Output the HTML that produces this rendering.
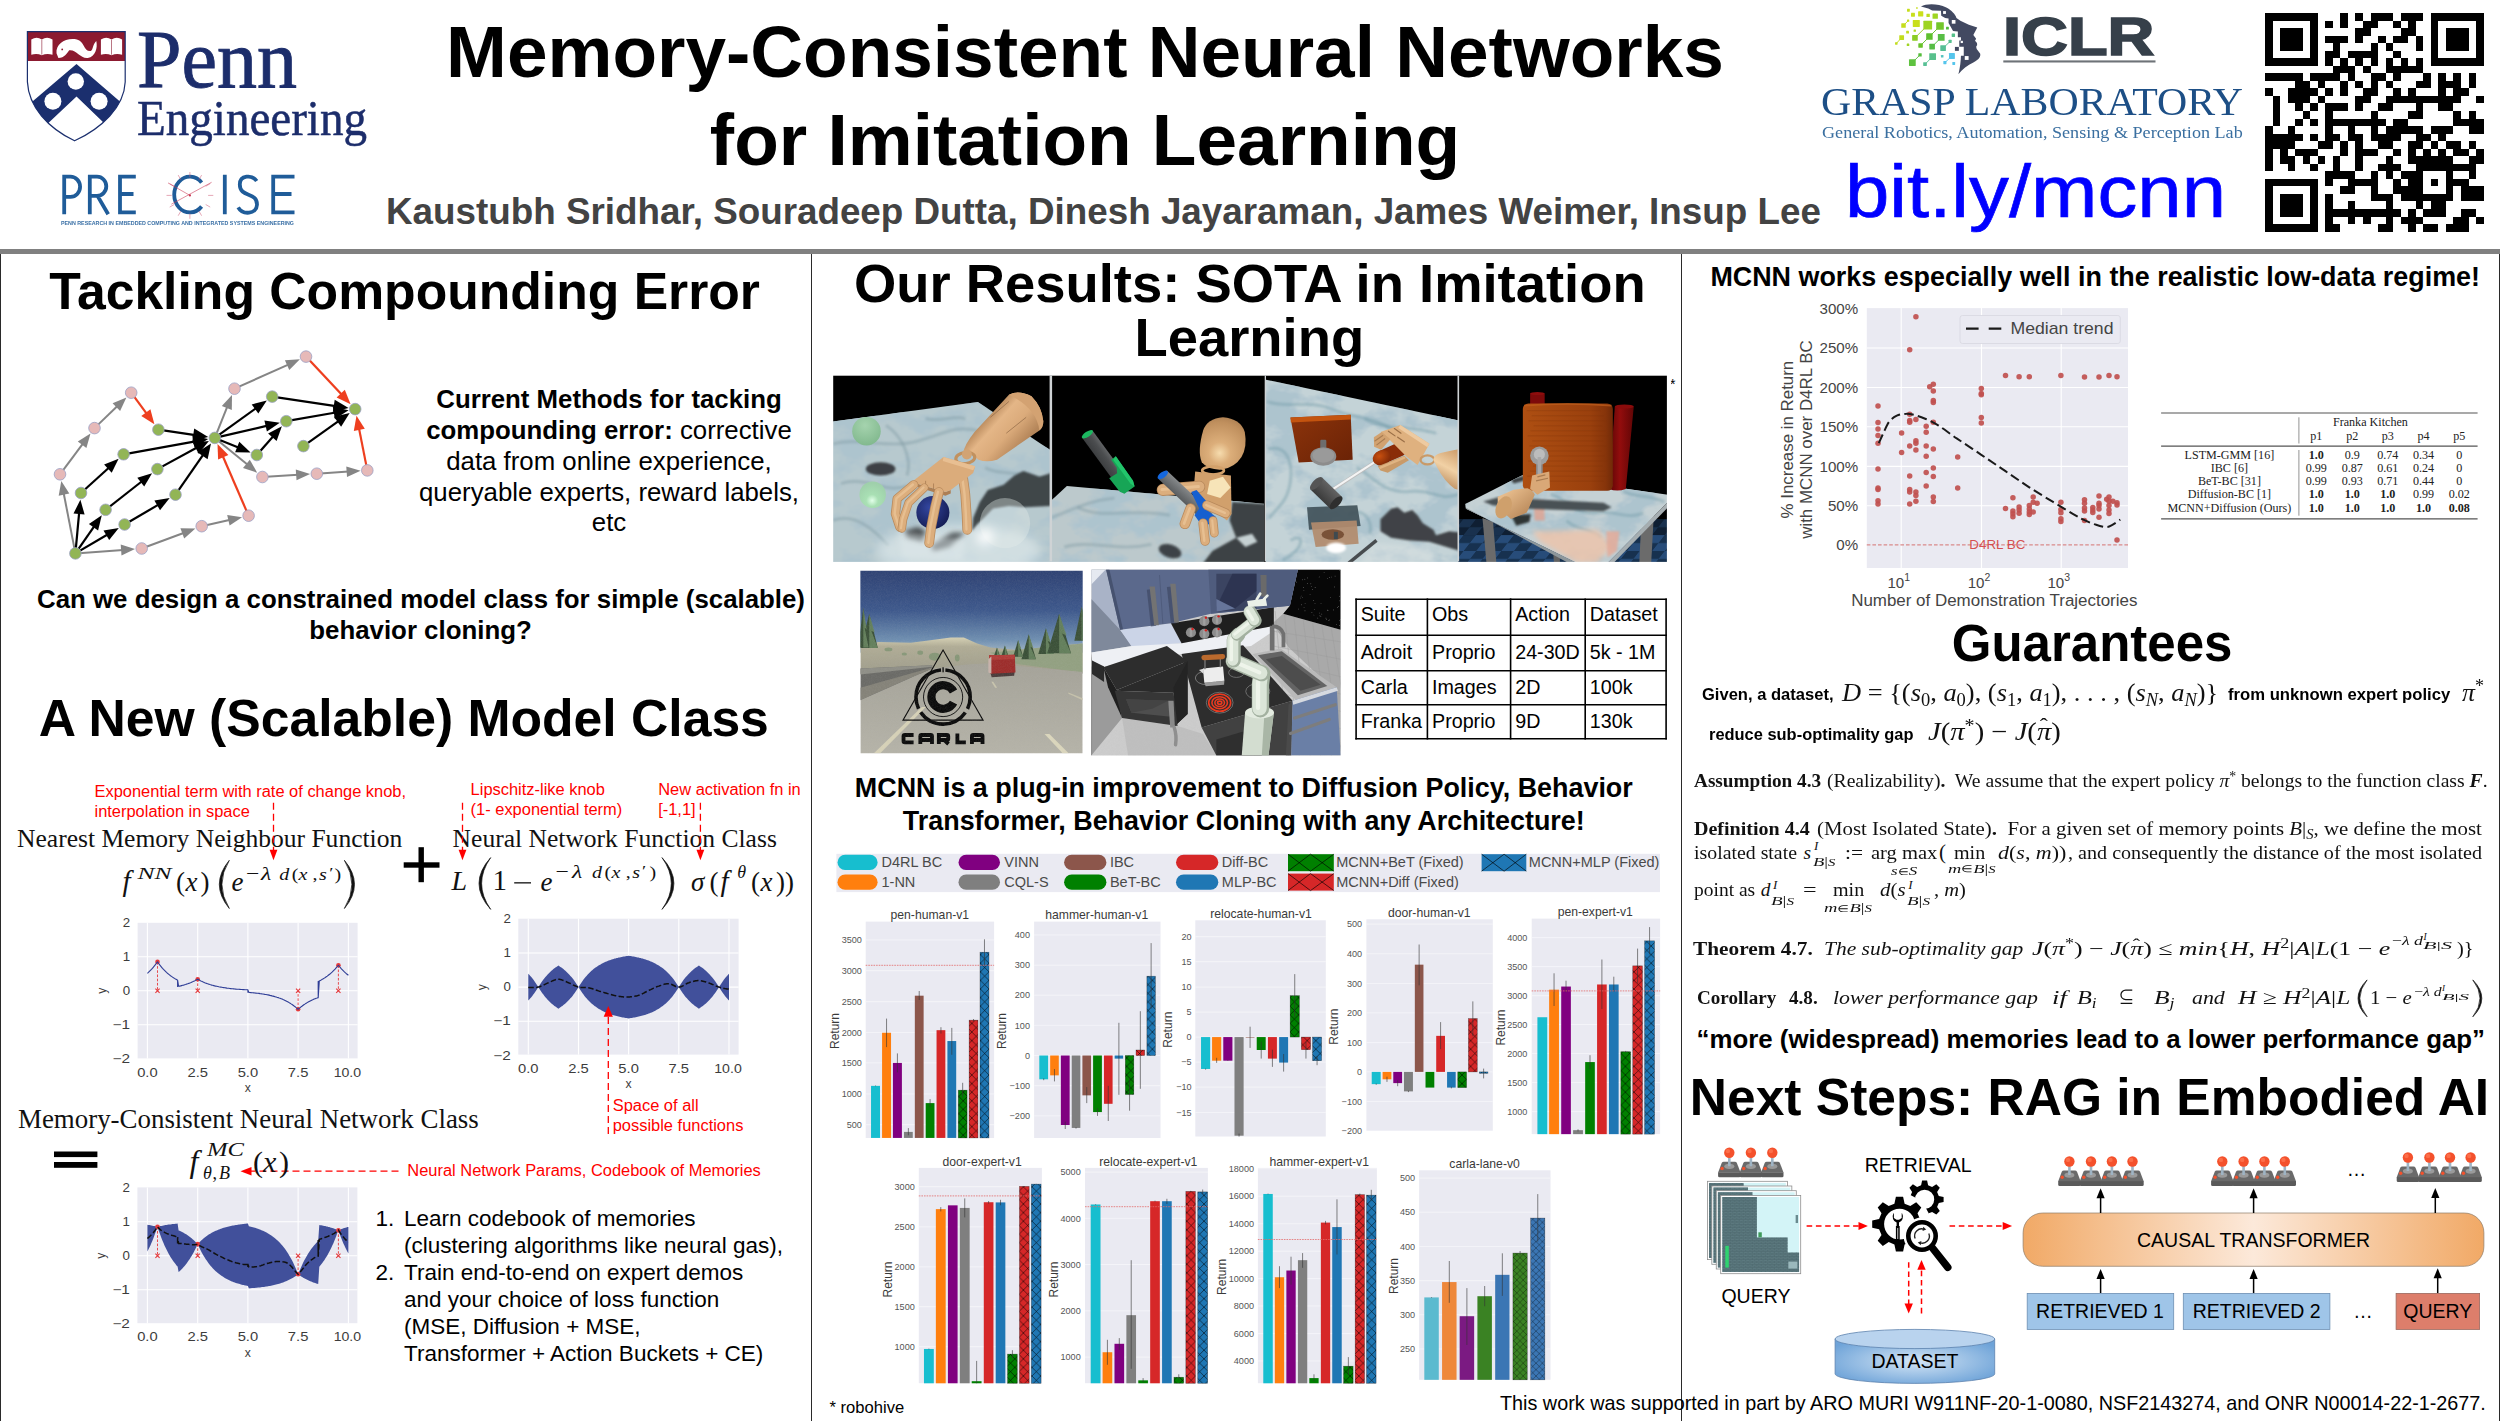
<!DOCTYPE html>
<html><head><meta charset="utf-8"><title>Memory-Consistent Neural Networks for Imitation Learning</title>
<style>
html,body{margin:0;padding:0;background:#fff;}
html{width:2500px;height:1421px;overflow:hidden;}
body{width:2500px;height:1421px;position:relative;overflow:hidden;font-family:"Liberation Sans",sans-serif;color:#000;}
div{box-sizing:border-box;}
table{border-collapse:collapse;}
#page{position:absolute;left:0;top:0;width:2500px;height:1421px;overflow:hidden;background:#fff;}
</style></head><body>
<div id="page">
<!-- p00_frame -->
<div style="position:absolute;left:0px;top:249.3px;width:2500px;height:4.5px;background:#808080;"></div>
<div style="position:absolute;left:0px;top:253.8px;width:1.3px;height:1170px;background:#2a2a2a;"></div>
<div style="position:absolute;left:810.8px;top:253.8px;width:1.3px;height:1170px;background:#2a2a2a;"></div>
<div style="position:absolute;left:1680.8px;top:253.8px;width:1.3px;height:1170px;background:#2a2a2a;"></div>
<div style="position:absolute;left:2498.8px;top:253.8px;width:1.3px;height:1170px;background:#2a2a2a;"></div>
<!-- p01_header -->
<div style="position:absolute;top:15.41px;font-family:'Liberation Sans',sans-serif;font-size:73px;line-height:73px;white-space:nowrap;color:#000;font-weight:bold;left:85.00px;width:2000px;text-align:center;">Memory-Consistent Neural Networks</div>
<div style="position:absolute;top:102.91px;font-family:'Liberation Sans',sans-serif;font-size:73px;line-height:73px;white-space:nowrap;color:#000;font-weight:bold;left:85.00px;width:2000px;text-align:center;">for Imitation Learning</div>
<div style="position:absolute;top:194.05px;font-family:'Liberation Sans',sans-serif;font-size:36.8px;line-height:36.8px;white-space:nowrap;color:#434343;font-weight:bold;left:386.00px;">Kaustubh Sridhar, Souradeep Dutta, Dinesh Jayaraman, James Weimer, Insup Lee</div>
<svg style="position:absolute;left:2264.8px;top:13.4px;overflow:visible;" width="218.6" height="218.6" viewBox="0 0 29 29"><path d="M0 0h7v1h-7zM10 0h1v1h-1zM12 0h1v1h-1zM14 0h3v1h-3zM18 0h3v1h-3zM22 0h7v1h-7zM0 1h1v1h-1zM6 1h1v1h-1zM8 1h1v1h-1zM10 1h1v1h-1zM13 1h2v1h-2zM17 1h1v1h-1zM19 1h1v1h-1zM22 1h1v1h-1zM28 1h1v1h-1zM0 2h1v1h-1zM2 2h3v1h-3zM6 2h1v1h-1zM12 2h2v1h-2zM18 2h2v1h-2zM22 2h1v1h-1zM24 2h3v1h-3zM28 2h1v1h-1zM0 3h1v1h-1zM2 3h3v1h-3zM6 3h1v1h-1zM8 3h3v1h-3zM12 3h1v1h-1zM15 3h1v1h-1zM17 3h2v1h-2zM20 3h1v1h-1zM22 3h1v1h-1zM24 3h3v1h-3zM28 3h1v1h-1zM0 4h1v1h-1zM2 4h3v1h-3zM6 4h1v1h-1zM9 4h1v1h-1zM14 4h1v1h-1zM16 4h1v1h-1zM20 4h1v1h-1zM22 4h1v1h-1zM24 4h3v1h-3zM28 4h1v1h-1zM0 5h1v1h-1zM6 5h1v1h-1zM8 5h2v1h-2zM11 5h4v1h-4zM17 5h1v1h-1zM22 5h1v1h-1zM28 5h1v1h-1zM0 6h7v1h-7zM8 6h1v1h-1zM10 6h1v1h-1zM12 6h1v1h-1zM14 6h1v1h-1zM16 6h1v1h-1zM18 6h1v1h-1zM20 6h1v1h-1zM22 6h7v1h-7zM9 7h3v1h-3zM13 7h1v1h-1zM16 7h5v1h-5zM0 8h5v1h-5zM6 8h4v1h-4zM11 8h1v1h-1zM14 8h2v1h-2zM17 8h1v1h-1zM21 8h1v1h-1zM23 8h1v1h-1zM25 8h1v1h-1zM27 8h1v1h-1zM4 9h2v1h-2zM7 9h1v1h-1zM10 9h1v1h-1zM12 9h1v1h-1zM14 9h1v1h-1zM16 9h1v1h-1zM20 9h2v1h-2zM23 9h3v1h-3zM27 9h1v1h-1zM0 10h1v1h-1zM3 10h4v1h-4zM8 10h1v1h-1zM10 10h1v1h-1zM13 10h2v1h-2zM17 10h1v1h-1zM19 10h1v1h-1zM23 10h1v1h-1zM25 10h2v1h-2zM1 11h1v1h-1zM3 11h3v1h-3zM7 11h1v1h-1zM12 11h2v1h-2zM16 11h10v1h-10zM28 11h1v1h-1zM1 12h1v1h-1zM4 12h1v1h-1zM6 12h1v1h-1zM8 12h3v1h-3zM12 12h1v1h-1zM15 12h2v1h-2zM20 12h1v1h-1zM23 12h2v1h-2zM1 13h1v1h-1zM5 13h1v1h-1zM8 13h1v1h-1zM14 13h1v1h-1zM19 13h2v1h-2zM25 13h1v1h-1zM27 13h1v1h-1zM1 14h1v1h-1zM4 14h1v1h-1zM6 14h1v1h-1zM8 14h8v1h-8zM17 14h2v1h-2zM25 14h4v1h-4zM0 15h1v1h-1zM3 15h1v1h-1zM8 15h1v1h-1zM11 15h1v1h-1zM14 15h1v1h-1zM16 15h5v1h-5zM22 15h3v1h-3zM27 15h2v1h-2zM0 16h5v1h-5zM6 16h1v1h-1zM8 16h2v1h-2zM11 16h2v1h-2zM14 16h4v1h-4zM20 16h2v1h-2zM23 16h1v1h-1zM0 17h4v1h-4zM7 17h2v1h-2zM10 17h1v1h-1zM12 17h1v1h-1zM15 17h2v1h-2zM19 17h2v1h-2zM22 17h1v1h-1zM24 17h2v1h-2zM27 17h1v1h-1zM0 18h1v1h-1zM2 18h1v1h-1zM4 18h3v1h-3zM10 18h1v1h-1zM12 18h3v1h-3zM17 18h1v1h-1zM19 18h1v1h-1zM21 18h1v1h-1zM23 18h1v1h-1zM25 18h2v1h-2zM28 18h1v1h-1zM0 19h1v1h-1zM2 19h2v1h-2zM5 19h1v1h-1zM7 19h1v1h-1zM9 19h1v1h-1zM12 19h1v1h-1zM16 19h1v1h-1zM19 19h6v1h-6zM27 19h2v1h-2zM0 20h1v1h-1zM3 20h1v1h-1zM6 20h1v1h-1zM9 20h1v1h-1zM12 20h1v1h-1zM15 20h3v1h-3zM20 20h8v1h-8zM8 21h4v1h-4zM14 21h1v1h-1zM16 21h1v1h-1zM18 21h3v1h-3zM24 21h1v1h-1zM27 21h1v1h-1zM0 22h7v1h-7zM8 22h1v1h-1zM11 22h4v1h-4zM17 22h1v1h-1zM19 22h2v1h-2zM22 22h1v1h-1zM24 22h3v1h-3zM0 23h1v1h-1zM6 23h1v1h-1zM10 23h2v1h-2zM14 23h1v1h-1zM17 23h4v1h-4zM24 23h1v1h-1zM26 23h3v1h-3zM0 24h1v1h-1zM2 24h3v1h-3zM6 24h1v1h-1zM8 24h1v1h-1zM14 24h3v1h-3zM18 24h7v1h-7zM26 24h3v1h-3zM0 25h1v1h-1zM2 25h3v1h-3zM6 25h1v1h-1zM8 25h1v1h-1zM11 25h1v1h-1zM16 25h1v1h-1zM20 25h1v1h-1zM22 25h2v1h-2zM0 26h1v1h-1zM2 26h3v1h-3zM6 26h1v1h-1zM8 26h10v1h-10zM19 26h1v1h-1zM21 26h3v1h-3zM26 26h2v1h-2zM0 27h1v1h-1zM6 27h1v1h-1zM8 27h1v1h-1zM11 27h1v1h-1zM13 27h1v1h-1zM16 27h1v1h-1zM18 27h3v1h-3zM25 27h2v1h-2zM28 27h1v1h-1zM0 28h7v1h-7zM8 28h2v1h-2zM15 28h2v1h-2zM19 28h1v1h-1zM21 28h2v1h-2zM24 28h3v1h-3z" fill="#000" shape-rendering="crispEdges"/></svg>
<svg style="position:absolute;left:0px;top:0px;overflow:visible;" width="2500" height="250"><clipPath id="sh"><path d="M27.4 31.6L125.2 31.6L125.2 81.9C124.2 106.7 101.7 128.4 74.6 140.8C48.3 128.4 28.6 106.7 27.4 81.9Z"/></clipPath><path d="M27.4 31.6L125.2 31.6L125.2 81.9C124.2 106.7 101.7 128.4 74.6 140.8C48.3 128.4 28.6 106.7 27.4 81.9Z" fill="#fff"/><g clip-path="url(#sh)"><rect x="27.4" y="31.6" width="97.8" height="29.4" fill="#8c1a30"/><path d="M76.5 64.1L123.4 104.4L107.9 126.8L76.5 96.6L44.4 126.8L28.9 104.4Z" fill="#1b2f6e"/></g><circle cx="75.8" cy="81.5" r="8.2" fill="#fff"/><circle cx="52.9" cy="101.3" r="8.5" fill="#fff"/><circle cx="99.1" cy="101.3" r="8.5" fill="#fff"/><path d="M27.4 31.6L125.2 31.6L125.2 81.9C124.2 106.7 101.7 128.4 74.6 140.8C48.3 128.4 28.6 106.7 27.4 81.9Z" fill="none" stroke="#1b2f6e" stroke-width="1.2"/><path d="M31.3 39.4Q36.7 36.3 41.8 39.4Q47.0 36.3 52.5 39.4V54.8Q47.0 52.8 41.8 55.3Q36.7 52.8 31.3 54.8Z" fill="#fff"/><line x1="41.8" x2="41.8" y1="39.8" y2="54.7" stroke="#8c1a30" stroke-width="0.6"/><path d="M100.9 39.4Q106.3 36.3 111.5 39.4Q116.7 36.3 122.1 39.4V54.8Q116.7 52.8 111.5 55.3Q106.3 52.8 100.9 54.8Z" fill="#fff"/><line x1="111.5" x2="111.5" y1="39.8" y2="54.7" stroke="#8c1a30" stroke-width="0.6"/><path d="M56.5 53.3C55.6 43.2 66.1 37.3 76.9 39.4C84.7 40.9 83.1 51.7 90.9 51.0C93.2 49.4 92.4 44.8 96.3 40.9C97.8 47.9 95.5 56.4 87.8 57.9C80.0 58.7 76.9 49.4 69.2 50.2C66.9 53.3 64.5 57.9 58.4 57.9Z" fill="#fff"/><circle cx="62.2" cy="49.4" r="0.9" fill="#8c1a30"/><path d="M64.2 174.8V214.3M62.3 176.7H70.5a9.6 10.1 0 0 1 0 20.2H64.2M89.8 174.8V214.3M87.9 176.7H97a9.3 9.6 0 0 1 0 19.2H89.8M97.5 195.9L108.2 214.3M120 174.8V214.3M118.1 176.7H135.8M120 194H133.5M118.1 212.4H135.8M201.6 182.6A15.7 17.9 0 1 0 201.6 206.5M224.8 174.8V214.3M256.7 181C252 174.3 239.8 175 239.8 184.5C239.8 198 257.3 191.5 257 204.8C256.6 214.6 242.5 215.2 238.2 207.3M273.2 174.8V214.3M271.3 176.7H294.5M273.2 194H291.5M271.3 212.4H294.5" fill="none" stroke="#1f5c99" stroke-width="3.8" stroke-linejoin="miter"/><line x1="208.1" y1="195.4" x2="213.3" y2="195.4" stroke="#d0607a" stroke-width="0.55"/><line x1="205.7" y1="204.5" x2="210.2" y2="207.1" stroke="#d0607a" stroke-width="0.55"/><line x1="199.0" y1="211.2" x2="201.6" y2="215.7" stroke="#d0607a" stroke-width="0.55"/><line x1="189.9" y1="213.6" x2="189.9" y2="218.8" stroke="#d0607a" stroke-width="0.55"/><line x1="180.8" y1="211.2" x2="178.2" y2="215.7" stroke="#d0607a" stroke-width="0.55"/><line x1="174.2" y1="204.5" x2="169.7" y2="207.1" stroke="#d0607a" stroke-width="0.55"/><line x1="171.7" y1="195.4" x2="166.5" y2="195.4" stroke="#d0607a" stroke-width="0.55"/><line x1="174.2" y1="186.3" x2="169.7" y2="183.7" stroke="#d0607a" stroke-width="0.55"/><line x1="180.8" y1="179.7" x2="178.2" y2="175.1" stroke="#d0607a" stroke-width="0.55"/><line x1="189.9" y1="177.2" x2="189.9" y2="172.0" stroke="#d0607a" stroke-width="0.55"/><line x1="199.0" y1="179.7" x2="201.6" y2="175.1" stroke="#d0607a" stroke-width="0.55"/><line x1="205.7" y1="186.3" x2="210.2" y2="183.7" stroke="#d0607a" stroke-width="0.55"/><path d="M171.4 204.2L211.6 182.3M189.9 195.4L168.0 182.9" stroke="#c8324e" stroke-width="0.55"/><circle cx="189.9" cy="195.4" r="1.1" fill="#c8324e"/><path d="M1920.97 6.48C1926.60 3.38 1937.86 3.38 1946.31 7.60C1951.37 10.14 1955.60 14.64 1956.44 18.02L1960.38 20.83 1968.83 24.77 1977.27 27.59 1973.33 34.91 1976.15 38.85 1975.02 40.65 1976.99 42.91 1977.16 45.05 1976.15 46.85 1976.71 48.99 1980.09 53.49C1980.93 56.31 1979.53 59.12 1973.33 62.50C1967.70 65.32 1962.07 69.26 1958.41 74.32C1960.10 67.57 1960.83 60.81 1960.95 55.74L1963.76 55.74 1963.76 46.73 1959.26 46.73 1959.26 40.54 1960.95 40.54 1960.95 37.16 1957.85 37.16 1957.85 31.53 1953.06 30.97 1948.56 23.09 1948.56 18.58 1945.18 18.02 1941.24 15.77 1940.96 10.70 1932.23 10.42 1928.29 8.45Z" fill="#424961"/><rect x="1954.92" y="46.90" width="3.94" height="3.94" fill="#424961"/><rect x="1943.10" y="11.09" width="2.82" height="2.82" fill="#fff"/><rect x="1951.80" y="20.02" width="3.66" height="3.66" fill="#fff"/><rect x="1960.66" y="40.82" width="2.25" height="2.25" fill="#fff"/><rect x="1964.77" y="56.08" width="3.83" height="3.83" fill="#fff"/><line x1="1903.51" y1="25.62" x2="1908.13" y2="20.72" stroke="#c5dd1c" stroke-width="0.95"/><line x1="1896.31" y1="43.47" x2="1901.66" y2="37.61" stroke="#c2dc1d" stroke-width="0.95"/><line x1="1914.94" y1="37.84" x2="1927.73" y2="25.17" stroke="#95d024" stroke-width="0.95"/><line x1="1929.41" y1="36.60" x2="1940.00" y2="26.01" stroke="#66c22c" stroke-width="0.95"/><line x1="1920.57" y1="45.50" x2="1929.41" y2="36.60" stroke="#62c12d" stroke-width="0.95"/><line x1="1932.12" y1="46.62" x2="1941.24" y2="37.44" stroke="#56be45" stroke-width="0.95"/><line x1="1943.10" y1="48.14" x2="1950.14" y2="41.39" stroke="#55bf92" stroke-width="0.95"/><line x1="1912.35" y1="62.61" x2="1920.01" y2="54.90" stroke="#59bf3e" stroke-width="0.95"/><line x1="1925.02" y1="64.19" x2="1932.62" y2="56.59" stroke="#58c08f" stroke-width="0.95"/><line x1="1944.90" y1="62.61" x2="1951.94" y2="56.02" stroke="#55c5ec" stroke-width="0.95"/><rect x="1907.00" y="8.84" width="2.82" height="2.82" rx="0.4" fill="#c5dd1c"/><rect x="1916.07" y="7.15" width="1.69" height="1.69" rx="0.4" fill="#c5dd1c"/><rect x="1911.00" y="12.78" width="3.94" height="3.94" rx="0.4" fill="#c8df1e"/><rect x="1918.10" y="11.32" width="5.18" height="5.18" rx="0.4" fill="#cbe01c"/><rect x="1926.43" y="13.68" width="3.38" height="3.38" rx="0.4" fill="#bcdc1f"/><rect x="1932.54" y="13.49" width="5.35" height="5.35" rx="0.4" fill="#9fd522"/><rect x="1907.00" y="19.59" width="2.25" height="2.25" rx="0.4" fill="#c5dd1c"/><rect x="1901.26" y="23.37" width="4.50" height="4.50" rx="0.4" fill="#c5dd1c"/><rect x="1912.78" y="19.96" width="7.04" height="7.04" rx="0.4" fill="#c9df1c"/><rect x="1923.36" y="20.81" width="8.73" height="8.73" rx="0.4" fill="#9dd422"/><rect x="1936.20" y="22.21" width="7.60" height="7.60" rx="0.4" fill="#73c62b"/><rect x="1946.02" y="26.75" width="2.82" height="2.82" rx="0.4" fill="#4fba3a"/><rect x="1906.16" y="30.80" width="2.82" height="2.82" rx="0.4" fill="#c2dc1e"/><rect x="1913.59" y="29.50" width="2.36" height="2.36" rx="0.4" fill="#b0d820"/><rect x="1899.26" y="35.22" width="4.79" height="4.79" rx="0.4" fill="#c2dc1d"/><rect x="1912.13" y="35.02" width="5.63" height="5.63" rx="0.4" fill="#8ccd26"/><rect x="1926.18" y="33.36" width="6.48" height="6.48" rx="0.4" fill="#5ec02e"/><rect x="1937.86" y="34.07" width="6.76" height="6.76" rx="0.4" fill="#57be45"/><rect x="1951.66" y="33.61" width="3.38" height="3.38" rx="0.4" fill="#55c08a"/><rect x="1895.04" y="42.20" width="2.53" height="2.53" rx="0.4" fill="#c2dc1d"/><rect x="1906.75" y="43.50" width="2.53" height="2.53" rx="0.4" fill="#a0d423"/><rect x="1918.32" y="43.24" width="4.50" height="4.50" rx="0.4" fill="#68c32b"/><rect x="1929.30" y="43.81" width="5.63" height="5.63" rx="0.4" fill="#55bd45"/><rect x="1940.28" y="45.33" width="5.63" height="5.63" rx="0.4" fill="#55bf95"/><rect x="1948.59" y="39.84" width="3.10" height="3.10" rx="0.4" fill="#56c090"/><rect x="1918.32" y="53.21" width="3.38" height="3.38" rx="0.4" fill="#55bd3c"/><rect x="1929.25" y="53.21" width="6.76" height="6.76" rx="0.4" fill="#58c08c"/><rect x="1940.93" y="55.04" width="2.53" height="2.53" rx="0.4" fill="#56c3c0"/><rect x="1948.98" y="53.07" width="5.91" height="5.91" rx="0.4" fill="#55c5ec"/><rect x="1908.98" y="59.23" width="6.76" height="6.76" rx="0.4" fill="#5ec23f"/><rect x="1923.19" y="62.36" width="3.66" height="3.66" rx="0.4" fill="#58c095"/><rect x="1943.35" y="61.06" width="3.10" height="3.10" rx="0.4" fill="#55c5ec"/><rect x="1952.33" y="62.11" width="2.82" height="2.82" rx="0.4" fill="#55c5ec"/><rect x="2003.3" y="60.4" width="152.2" height="2.1" fill="#6e7378"/></svg>
<div id="lg1" class="fit" style="position:absolute;left:136.50px;top:19.42px;font-family:'Liberation Serif',serif;font-size:82px;line-height:82px;white-space:nowrap;color:#1c2d6b;transform-origin:0 50%;transform:scaleX(0.9756);-webkit-text-stroke:0.9px #1c2d6b;">Penn</div>
<div id="lg2" class="fit" style="position:absolute;left:136.80px;top:93.76px;font-family:'Liberation Serif',serif;font-size:49.6px;line-height:49.6px;white-space:nowrap;color:#1c2d6b;transform-origin:0 50%;transform:scaleX(0.9489);-webkit-text-stroke:0.5px #1c2d6b;">Engineering</div>
<div id="lg6" class="fit" style="position:absolute;left:61.40px;top:220.67px;font-family:'Liberation Sans',sans-serif;font-size:5px;line-height:5px;white-space:nowrap;color:#3a70a6;transform-origin:0 50%;font-weight:bold;transform:scaleX(1.0644);">PENN RESEARCH IN EMBEDDED COMPUTING AND INTEGRATED SYSTEMS ENGINEERING</div>
<div id="lg7" class="fit" style="position:absolute;left:2002.50px;top:10.70px;font-family:'Liberation Sans',sans-serif;font-size:52.8px;line-height:52.8px;white-space:nowrap;color:#36404a;transform-origin:0 50%;font-weight:bold;transform:scaleX(1.2298);-webkit-text-stroke:1.6px #36404a;">ICLR</div>
<div id="lg8" class="fit" style="position:absolute;left:1821.00px;top:82.45px;font-family:'Liberation Serif',serif;font-size:40.3px;line-height:40.3px;white-space:nowrap;color:#1d4f86;transform-origin:0 50%;transform:scaleX(1.0383);">GRASP LABORATORY</div>
<div id="lg9" class="fit" style="position:absolute;left:1822.00px;top:124.34px;font-family:'Liberation Serif',serif;font-size:17.5px;line-height:17.5px;white-space:nowrap;color:#3a6fa0;transform-origin:0 50%;transform:scaleX(1.0354);">General Robotics, Automation, Sensing &amp; Perception Lab</div>
<div id="lg10" class="fit" style="position:absolute;left:1845.00px;top:154.41px;font-family:'Liberation Sans',sans-serif;font-size:75px;line-height:75px;white-space:nowrap;color:#0000ff;transform-origin:0 50%;transform:scaleX(1.0629);-webkit-text-stroke:0.7px #0000ff;">bit.ly/mcnn</div>
<!-- p02_left -->
<div style="position:absolute;top:265.96px;font-family:'Liberation Sans',sans-serif;font-size:51.67px;line-height:51.67px;white-space:nowrap;color:#000;font-weight:bold;left:-595.40px;width:2000px;text-align:center;">Tackling Compounding Error</div>
<svg style="position:absolute;left:0px;top:0px;overflow:visible;" width="820" height="700"><line x1="75.4" y1="553.4" x2="63.6" y2="492.7" stroke="#858585" stroke-width="2.0"/><path d="M61.3 480.9L69.3 493.6L58.7 495.7Z" fill="#858585"/><line x1="60.0" y1="474.3" x2="83.3" y2="443.1" stroke="#858585" stroke-width="2.0"/><path d="M90.5 433.5L86.4 447.9L77.8 441.5Z" fill="#858585"/><line x1="94.5" y1="428.1" x2="117.7" y2="405.7" stroke="#858585" stroke-width="2.0"/><path d="M126.4 397.4L120.1 411.0L112.6 403.2Z" fill="#858585"/><line x1="75.4" y1="553.4" x2="123.1" y2="549.9" stroke="#858585" stroke-width="2.0"/><path d="M135.0 549.0L121.5 555.4L120.7 544.6Z" fill="#858585"/><line x1="141.7" y1="548.5" x2="184.2" y2="532.7" stroke="#858585" stroke-width="2.0"/><path d="M195.4 528.5L184.2 538.5L180.4 528.3Z" fill="#858585"/><line x1="201.7" y1="526.2" x2="230.4" y2="519.8" stroke="#858585" stroke-width="2.0"/><path d="M242.1 517.2L229.6 525.5L227.2 515.0Z" fill="#858585"/><line x1="214.8" y1="437.9" x2="227.5" y2="406.1" stroke="#858585" stroke-width="2.0"/><path d="M232.0 394.9L231.8 409.9L221.8 405.9Z" fill="#858585"/><line x1="234.5" y1="388.7" x2="288.9" y2="364.3" stroke="#858585" stroke-width="2.0"/><path d="M299.9 359.3L289.3 370.0L284.9 360.2Z" fill="#858585"/><line x1="214.8" y1="437.9" x2="248.0" y2="465.1" stroke="#858585" stroke-width="2.0"/><path d="M257.2 472.7L243.0 468.0L249.8 459.7Z" fill="#858585"/><line x1="262.4" y1="477.0" x2="298.1" y2="474.8" stroke="#858585" stroke-width="2.0"/><path d="M310.1 474.1L296.5 480.3L295.8 469.6Z" fill="#858585"/><line x1="316.8" y1="473.7" x2="348.6" y2="471.6" stroke="#858585" stroke-width="2.0"/><path d="M360.6 470.8L347.0 477.1L346.3 466.4Z" fill="#858585"/><line x1="75.4" y1="553.4" x2="79.2" y2="512.1" stroke="#000" stroke-width="2.2"/><path d="M80.4 499.7L84.6 514.6L73.5 513.6Z" fill="#000"/><line x1="75.4" y1="553.4" x2="94.7" y2="525.6" stroke="#000" stroke-width="2.2"/><path d="M101.8 515.3L98.1 530.4L88.9 524.0Z" fill="#000"/><line x1="75.4" y1="553.4" x2="108.0" y2="534.2" stroke="#000" stroke-width="2.2"/><path d="M118.8 527.9L109.2 540.1L103.5 530.4Z" fill="#000"/><line x1="81.0" y1="493.0" x2="109.4" y2="467.2" stroke="#000" stroke-width="2.2"/><path d="M118.6 458.8L111.7 472.7L104.1 464.4Z" fill="#000"/><line x1="105.6" y1="509.8" x2="142.3" y2="481.0" stroke="#000" stroke-width="2.2"/><path d="M152.1 473.2L144.2 486.6L137.3 477.8Z" fill="#000"/><line x1="124.6" y1="524.5" x2="158.9" y2="504.4" stroke="#000" stroke-width="2.2"/><path d="M169.7 498.1L160.0 510.2L154.4 500.6Z" fill="#000"/><line x1="123.6" y1="454.3" x2="195.4" y2="441.4" stroke="#000" stroke-width="2.2"/><path d="M208.2 439.1L194.5 447.8L192.3 435.6Z" fill="#000"/><line x1="157.4" y1="469.1" x2="197.5" y2="447.3" stroke="#000" stroke-width="2.2"/><path d="M208.9 441.1L198.7 453.7L192.8 442.8Z" fill="#000"/><line x1="175.5" y1="494.7" x2="203.6" y2="454.1" stroke="#000" stroke-width="2.2"/><path d="M211.0 443.4L207.6 459.3L197.4 452.2Z" fill="#000"/><line x1="158.4" y1="429.7" x2="195.3" y2="435.1" stroke="#000" stroke-width="2.2"/><path d="M208.2 436.9L192.4 440.9L194.2 428.6Z" fill="#000"/><line x1="214.8" y1="437.9" x2="256.6" y2="407.8" stroke="#000" stroke-width="2.2"/><path d="M266.8 400.5L258.3 413.5L251.7 404.4Z" fill="#000"/><line x1="214.8" y1="437.9" x2="267.6" y2="425.6" stroke="#000" stroke-width="2.2"/><path d="M279.8 422.7L266.9 431.5L264.4 420.6Z" fill="#000"/><line x1="214.8" y1="437.9" x2="239.0" y2="447.8" stroke="#000" stroke-width="2.2"/><path d="M250.6 452.5L235.1 452.2L239.3 441.8Z" fill="#000"/><line x1="256.8" y1="455.0" x2="273.7" y2="435.7" stroke="#000" stroke-width="2.2"/><path d="M281.9 426.2L276.6 440.9L268.1 433.5Z" fill="#000"/><line x1="272.2" y1="396.6" x2="335.7" y2="406.2" stroke="#000" stroke-width="2.2"/><path d="M348.6 408.1L332.8 412.0L334.7 399.7Z" fill="#000"/><line x1="286.3" y1="421.2" x2="335.8" y2="412.5" stroke="#000" stroke-width="2.2"/><path d="M348.6 410.3L334.9 419.0L332.8 406.7Z" fill="#000"/><line x1="303.4" y1="446.1" x2="339.2" y2="420.6" stroke="#000" stroke-width="2.2"/><path d="M349.7 413.0L341.1 426.8L333.9 416.7Z" fill="#000"/><line x1="131.2" y1="392.7" x2="147.0" y2="414.2" stroke="#ee3f1f" stroke-width="2.2"/><path d="M154.4 424.3L141.3 415.9L150.4 409.3Z" fill="#ee3f1f"/><line x1="248.6" y1="515.7" x2="222.5" y2="455.5" stroke="#ee3f1f" stroke-width="2.2"/><path d="M217.5 444.0L228.4 455.1L218.1 459.6Z" fill="#ee3f1f"/><line x1="306.0" y1="356.6" x2="342.1" y2="395.1" stroke="#ee3f1f" stroke-width="2.2"/><path d="M350.6 404.2L336.6 397.5L344.8 389.8Z" fill="#ee3f1f"/><line x1="367.3" y1="470.4" x2="358.9" y2="427.9" stroke="#ee3f1f" stroke-width="2.2"/><path d="M356.5 415.7L364.8 428.8L353.8 431.0Z" fill="#ee3f1f"/><circle cx="131.2" cy="392.7" r="5.8" fill="#e6b9b8" stroke="#9aa0c4" stroke-width="0.8"/><circle cx="94.5" cy="428.1" r="5.8" fill="#e6b9b8" stroke="#9aa0c4" stroke-width="0.8"/><circle cx="60" cy="474.3" r="5.8" fill="#e6b9b8" stroke="#9aa0c4" stroke-width="0.8"/><circle cx="141.7" cy="548.5" r="5.8" fill="#e6b9b8" stroke="#9aa0c4" stroke-width="0.8"/><circle cx="201.7" cy="526.2" r="5.8" fill="#e6b9b8" stroke="#9aa0c4" stroke-width="0.8"/><circle cx="248.6" cy="515.7" r="5.8" fill="#e6b9b8" stroke="#9aa0c4" stroke-width="0.8"/><circle cx="234.5" cy="388.7" r="5.8" fill="#e6b9b8" stroke="#9aa0c4" stroke-width="0.8"/><circle cx="306" cy="356.6" r="5.8" fill="#e6b9b8" stroke="#9aa0c4" stroke-width="0.8"/><circle cx="262.4" cy="477" r="5.8" fill="#e6b9b8" stroke="#9aa0c4" stroke-width="0.8"/><circle cx="316.8" cy="473.7" r="5.8" fill="#e6b9b8" stroke="#9aa0c4" stroke-width="0.8"/><circle cx="367.3" cy="470.4" r="5.8" fill="#e6b9b8" stroke="#9aa0c4" stroke-width="0.8"/><circle cx="75.4" cy="553.4" r="5.8" fill="#92b556" stroke="#9aa0c4" stroke-width="0.8"/><circle cx="81" cy="493" r="5.8" fill="#92b556" stroke="#9aa0c4" stroke-width="0.8"/><circle cx="105.6" cy="509.8" r="5.8" fill="#92b556" stroke="#9aa0c4" stroke-width="0.8"/><circle cx="124.6" cy="524.5" r="5.8" fill="#92b556" stroke="#9aa0c4" stroke-width="0.8"/><circle cx="123.6" cy="454.3" r="5.8" fill="#92b556" stroke="#9aa0c4" stroke-width="0.8"/><circle cx="157.4" cy="469.1" r="5.8" fill="#92b556" stroke="#9aa0c4" stroke-width="0.8"/><circle cx="175.5" cy="494.7" r="5.8" fill="#92b556" stroke="#9aa0c4" stroke-width="0.8"/><circle cx="158.4" cy="429.7" r="5.8" fill="#92b556" stroke="#9aa0c4" stroke-width="0.8"/><circle cx="214.8" cy="437.9" r="5.8" fill="#92b556" stroke="#9aa0c4" stroke-width="0.8"/><circle cx="272.2" cy="396.6" r="5.8" fill="#92b556" stroke="#9aa0c4" stroke-width="0.8"/><circle cx="286.3" cy="421.2" r="5.8" fill="#92b556" stroke="#9aa0c4" stroke-width="0.8"/><circle cx="256.8" cy="455" r="5.8" fill="#92b556" stroke="#9aa0c4" stroke-width="0.8"/><circle cx="303.4" cy="446.1" r="5.8" fill="#92b556" stroke="#9aa0c4" stroke-width="0.8"/><circle cx="355.2" cy="409.1" r="5.8" fill="#92b556" stroke="#9aa0c4" stroke-width="0.8"/></svg>
<div style="position:absolute;top:387.16px;font-family:'Liberation Sans',sans-serif;font-size:25.8px;line-height:25.8px;white-space:nowrap;color:#000;left:-391.00px;width:2000px;text-align:center;"><b>Current Methods for tacking</b></div>
<div style="position:absolute;top:417.96px;font-family:'Liberation Sans',sans-serif;font-size:25.8px;line-height:25.8px;white-space:nowrap;color:#000;left:-391.00px;width:2000px;text-align:center;"><b>compounding error:</b> corrective</div>
<div style="position:absolute;top:448.76px;font-family:'Liberation Sans',sans-serif;font-size:25.8px;line-height:25.8px;white-space:nowrap;color:#000;left:-391.00px;width:2000px;text-align:center;">data from online experience,</div>
<div style="position:absolute;top:479.76px;font-family:'Liberation Sans',sans-serif;font-size:25.8px;line-height:25.8px;white-space:nowrap;color:#000;left:-391.00px;width:2000px;text-align:center;">queryable experts, reward labels,</div>
<div style="position:absolute;top:510.36px;font-family:'Liberation Sans',sans-serif;font-size:25.8px;line-height:25.8px;white-space:nowrap;color:#000;left:-391.00px;width:2000px;text-align:center;">etc</div>
<div style="position:absolute;top:587.13px;font-family:'Liberation Sans',sans-serif;font-size:25.83px;line-height:25.83px;white-space:nowrap;color:#000;font-weight:bold;left:-579.00px;width:2000px;text-align:center;">Can we design a constrained model class for simple (scalable)</div>
<div style="position:absolute;top:618.43px;font-family:'Liberation Sans',sans-serif;font-size:25.83px;line-height:25.83px;white-space:nowrap;color:#000;font-weight:bold;left:-579.50px;width:2000px;text-align:center;">behavior cloning?</div>
<div style="position:absolute;top:692.66px;font-family:'Liberation Sans',sans-serif;font-size:51.67px;line-height:51.67px;white-space:nowrap;color:#000;font-weight:bold;left:-596.20px;width:2000px;text-align:center;">A New (Scalable) Model Class</div>
<div style="position:absolute;top:783.08px;font-family:'Liberation Sans',sans-serif;font-size:16.45px;line-height:16.45px;white-space:nowrap;color:#ff0000;left:94.50px;">Exponential term with rate of change knob,</div>
<div style="position:absolute;top:803.08px;font-family:'Liberation Sans',sans-serif;font-size:16.45px;line-height:16.45px;white-space:nowrap;color:#ff0000;left:94.50px;">interpolation in space</div>
<div style="position:absolute;top:781.48px;font-family:'Liberation Sans',sans-serif;font-size:16.45px;line-height:16.45px;white-space:nowrap;color:#ff0000;left:470.60px;">Lipschitz-like knob</div>
<div style="position:absolute;top:801.08px;font-family:'Liberation Sans',sans-serif;font-size:16.45px;line-height:16.45px;white-space:nowrap;color:#ff0000;left:470.60px;">(1- exponential term)</div>
<div style="position:absolute;top:781.48px;font-family:'Liberation Sans',sans-serif;font-size:16.45px;line-height:16.45px;white-space:nowrap;color:#ff0000;left:658.20px;">New activation fn in</div>
<div style="position:absolute;top:801.08px;font-family:'Liberation Sans',sans-serif;font-size:16.45px;line-height:16.45px;white-space:nowrap;color:#ff0000;left:658.20px;">[-1,1]</div>
<div style="position:absolute;top:1097.08px;font-family:'Liberation Sans',sans-serif;font-size:16.45px;line-height:16.45px;white-space:nowrap;color:#ff0000;left:612.70px;">Space of all</div>
<div style="position:absolute;top:1116.88px;font-family:'Liberation Sans',sans-serif;font-size:16.45px;line-height:16.45px;white-space:nowrap;color:#ff0000;left:612.70px;">possible functions</div>
<div style="position:absolute;top:1161.86px;font-family:'Liberation Sans',sans-serif;font-size:16.47px;line-height:16.47px;white-space:nowrap;color:#ff0000;left:407.30px;">Neural Network Params, Codebook of Memories</div>
<div style="position:absolute;top:825.90px;font-family:'Liberation Serif',serif;font-size:25.55px;line-height:25.55px;white-space:nowrap;color:#111;left:17.00px;">Nearest Memory Neighbour Function</div>
<div style="position:absolute;top:825.90px;font-family:'Liberation Serif',serif;font-size:25.55px;line-height:25.55px;white-space:nowrap;color:#111;left:452.60px;">Neural Network Function Class</div>
<div style="position:absolute;top:1105.97px;font-family:'Liberation Serif',serif;font-size:26.9px;line-height:26.9px;white-space:nowrap;color:#111;left:18.00px;">Memory-Consistent Neural Network Class</div>
<div style="position:absolute;top:1207.95px;font-family:'Liberation Sans',sans-serif;font-size:22.5px;line-height:22.5px;white-space:nowrap;color:#000;left:375.50px;">1.</div>
<div style="position:absolute;top:1207.95px;font-family:'Liberation Sans',sans-serif;font-size:22.5px;line-height:22.5px;white-space:nowrap;color:#000;left:404.00px;">Learn codebook of memories</div>
<div style="position:absolute;top:1234.85px;font-family:'Liberation Sans',sans-serif;font-size:22.5px;line-height:22.5px;white-space:nowrap;color:#000;left:404.00px;">(clustering algorithms like neural gas),</div>
<div style="position:absolute;top:1261.85px;font-family:'Liberation Sans',sans-serif;font-size:22.5px;line-height:22.5px;white-space:nowrap;color:#000;left:375.50px;">2.</div>
<div style="position:absolute;top:1261.85px;font-family:'Liberation Sans',sans-serif;font-size:22.5px;line-height:22.5px;white-space:nowrap;color:#000;left:404.00px;">Train end-to-end on expert demos</div>
<div style="position:absolute;top:1288.95px;font-family:'Liberation Sans',sans-serif;font-size:22.5px;line-height:22.5px;white-space:nowrap;color:#000;left:404.00px;">and your choice of loss function</div>
<div style="position:absolute;top:1316.05px;font-family:'Liberation Sans',sans-serif;font-size:22.5px;line-height:22.5px;white-space:nowrap;color:#000;left:404.00px;">(MSE, Diffusion + MSE,</div>
<div style="position:absolute;top:1343.05px;font-family:'Liberation Sans',sans-serif;font-size:22.5px;line-height:22.5px;white-space:nowrap;color:#000;left:404.00px;">Transformer + Action Buckets + CE)</div>
<svg style="position:absolute;left:0px;top:0px;overflow:visible;" width="820" height="1421"><rect x="137.6" y="922.8" width="220.00000000000003" height="135.60000000000014" fill="#eaeaf2"/><line x1="147.4" x2="147.4" y1="922.8" y2="1058.4" stroke="#fff" stroke-width="1.1"/><line x1="197.7" x2="197.7" y1="922.8" y2="1058.4" stroke="#fff" stroke-width="1.1"/><line x1="247.9" x2="247.9" y1="922.8" y2="1058.4" stroke="#fff" stroke-width="1.1"/><line x1="298.1" x2="298.1" y1="922.8" y2="1058.4" stroke="#fff" stroke-width="1.1"/><line x1="348.4" x2="348.4" y1="922.8" y2="1058.4" stroke="#fff" stroke-width="1.1"/><line x1="137.6" x2="357.6" y1="956.8" y2="956.8" stroke="#fff" stroke-width="1.1"/><line x1="137.6" x2="357.6" y1="990.8" y2="990.8" stroke="#fff" stroke-width="1.1"/><line x1="137.6" x2="357.6" y1="1024.8" y2="1024.8" stroke="#fff" stroke-width="1.1"/><text x="147.4" y="1076.6" text-anchor="middle" textLength="20.5" lengthAdjust="spacingAndGlyphs" style="font-family:'Liberation Sans',sans-serif;font-size:12.2px;fill:#3c3c3c">0.0</text><text x="197.7" y="1076.6" text-anchor="middle" textLength="20.5" lengthAdjust="spacingAndGlyphs" style="font-family:'Liberation Sans',sans-serif;font-size:12.2px;fill:#3c3c3c">2.5</text><text x="247.9" y="1076.6" text-anchor="middle" textLength="20.5" lengthAdjust="spacingAndGlyphs" style="font-family:'Liberation Sans',sans-serif;font-size:12.2px;fill:#3c3c3c">5.0</text><text x="298.1" y="1076.6" text-anchor="middle" textLength="20.5" lengthAdjust="spacingAndGlyphs" style="font-family:'Liberation Sans',sans-serif;font-size:12.2px;fill:#3c3c3c">7.5</text><text x="347.4" y="1076.6" text-anchor="middle" textLength="27.5" lengthAdjust="spacingAndGlyphs" style="font-family:'Liberation Sans',sans-serif;font-size:12.2px;fill:#3c3c3c">10.0</text><text x="130.1" y="927.0" text-anchor="end" textLength="7.4" lengthAdjust="spacingAndGlyphs" style="font-family:'Liberation Sans',sans-serif;font-size:12.2px;fill:#3c3c3c">2</text><text x="130.1" y="961.0" text-anchor="end" textLength="7.4" lengthAdjust="spacingAndGlyphs" style="font-family:'Liberation Sans',sans-serif;font-size:12.2px;fill:#3c3c3c">1</text><text x="130.1" y="995.0" text-anchor="end" textLength="7.4" lengthAdjust="spacingAndGlyphs" style="font-family:'Liberation Sans',sans-serif;font-size:12.2px;fill:#3c3c3c">0</text><text x="130.1" y="1029.0" text-anchor="end" textLength="17.5" lengthAdjust="spacingAndGlyphs" style="font-family:'Liberation Sans',sans-serif;font-size:12.2px;fill:#3c3c3c">−1</text><text x="130.1" y="1063.0" text-anchor="end" textLength="17.5" lengthAdjust="spacingAndGlyphs" style="font-family:'Liberation Sans',sans-serif;font-size:12.2px;fill:#3c3c3c">−2</text><text x="247.9" y="1091.7" text-anchor="middle" style="font-family:'Liberation Sans',sans-serif;font-size:12.2px;fill:#3c3c3c">x</text><text transform="translate(105.6,990.8) rotate(-90)" text-anchor="middle" style="font-family:'Liberation Sans',sans-serif;font-size:12.2px;fill:#3c3c3c">y</text><line x1="157.5" x2="157.5" y1="961.9" y2="990.8" stroke="#e5393b" stroke-width="0.9" stroke-dasharray="2.6 1.6"/><circle cx="157.5" cy="961.9" r="2.3" fill="#e5393b"/><path d="M155.4 988.7L159.6 992.9M155.4 992.9L159.6 988.7" stroke="#e5393b" stroke-width="1.1"/><line x1="197.7" x2="197.7" y1="979.2" y2="990.8" stroke="#e5393b" stroke-width="0.9" stroke-dasharray="2.6 1.6"/><circle cx="197.7" cy="979.2" r="2.3" fill="#e5393b"/><path d="M195.6 988.7L199.8 992.9M195.6 992.9L199.8 988.7" stroke="#e5393b" stroke-width="1.1"/><line x1="298.1" x2="298.1" y1="1009.3" y2="990.8" stroke="#e5393b" stroke-width="0.9" stroke-dasharray="2.6 1.6"/><circle cx="298.1" cy="1009.3" r="2.3" fill="#e5393b"/><path d="M296.0 988.7L300.2 992.9M296.0 992.9L300.2 988.7" stroke="#e5393b" stroke-width="1.1"/><line x1="338.4" x2="338.4" y1="965.3" y2="990.8" stroke="#e5393b" stroke-width="0.9" stroke-dasharray="2.6 1.6"/><circle cx="338.4" cy="965.3" r="2.3" fill="#e5393b"/><path d="M336.2 988.7L340.5 992.9M336.2 992.9L340.5 988.7" stroke="#e5393b" stroke-width="1.1"/><path d="M147.4 973.3L148.4 972.4L149.4 971.4L150.4 970.4L151.4 969.4L152.4 968.3L153.4 967.1L154.4 965.9L155.4 964.7L156.4 963.3L157.5 961.9L158.5 963.3L159.5 964.7L160.5 965.9L161.5 967.1L162.5 968.3L163.5 969.4L164.5 970.4L165.5 971.4L166.5 972.4L167.5 973.3L168.5 974.1L169.5 974.9L170.5 975.7L171.5 976.4L172.5 977.1L173.5 977.8L174.5 978.4L175.5 979.1L176.5 979.6L177.6 980.2L177.6 986.5L177.6 980.2L178.6 986.3L179.6 986.1L180.6 985.9L181.6 985.6L182.6 985.3L183.6 985.1L184.6 984.8L185.6 984.5L186.6 984.1L187.6 983.8L188.6 983.4L189.6 983.1L190.6 982.7L191.6 982.2L192.6 981.8L193.6 981.3L194.6 980.9L195.6 980.3L196.6 979.8L197.7 979.2L198.7 979.8L199.7 980.3L200.7 980.9L201.7 981.3L202.7 981.8L203.7 982.2L204.7 982.7L205.7 983.1L206.7 983.4L207.7 983.8L208.7 984.1L209.7 984.5L210.7 984.8L211.7 985.1L212.7 985.3L213.7 985.6L214.7 985.9L215.7 986.1L216.7 986.3L217.8 986.5L218.8 986.8L219.8 987.0L220.8 987.1L221.8 987.3L222.8 987.5L223.8 987.6L224.8 987.8L225.8 987.9L226.8 988.1L227.8 988.2L228.8 988.3L229.8 988.5L230.8 988.6L231.8 988.7L232.8 988.8L233.8 988.9L234.8 989.0L235.8 989.1L236.8 989.2L237.9 989.2L238.9 989.3L239.9 989.4L240.9 989.5L241.9 989.5L242.9 989.6L243.9 989.6L244.9 989.7L245.9 989.8L246.9 989.8L247.9 989.9L247.9 992.3L247.9 989.9L248.9 992.4L249.9 992.5L250.9 992.6L251.9 992.7L252.9 992.8L253.9 992.9L254.9 993.0L255.9 993.1L256.9 993.2L258.0 993.3L259.0 993.4L260.0 993.6L261.0 993.7L262.0 993.9L263.0 994.0L264.0 994.2L265.0 994.4L266.0 994.5L267.0 994.7L268.0 994.9L269.0 995.1L270.0 995.4L271.0 995.6L272.0 995.9L273.0 996.1L274.0 996.4L275.0 996.7L276.0 997.0L277.0 997.3L278.1 997.6L279.1 998.0L280.1 998.3L281.1 998.7L282.1 999.1L283.1 999.6L284.1 1000.0L285.1 1000.5L286.1 1001.0L287.1 1001.5L288.1 1002.0L289.1 1002.6L290.1 1003.2L291.1 1003.9L292.1 1004.5L293.1 1005.2L294.1 1006.0L295.1 1006.7L296.1 1007.6L297.1 1008.4L298.1 1009.3L299.2 1008.4L300.2 1007.6L301.2 1006.7L302.2 1006.0L303.2 1005.2L304.2 1004.5L305.2 1003.9L306.2 1003.2L307.2 1002.6L308.2 1002.0L309.2 1001.5L310.2 1001.0L311.2 1000.5L312.2 1000.0L313.2 999.6L314.2 999.1L315.2 998.7L316.2 998.3L317.2 998.0L318.2 997.6L318.2 981.4L318.2 997.6L319.3 980.9L320.3 980.4L321.3 979.9L322.3 979.3L323.3 978.8L324.3 978.1L325.3 977.5L326.3 976.8L327.3 976.1L328.3 975.3L329.3 974.5L330.3 973.7L331.3 972.8L332.3 971.9L333.3 970.9L334.3 969.9L335.3 968.9L336.3 967.7L337.3 966.5L338.4 965.3L339.4 966.5L340.4 967.7L341.4 968.9L342.4 969.9L343.4 970.9L344.4 971.9L345.4 972.8L346.4 973.7L347.4 974.5L348.4 975.3" fill="none" stroke="#2e3d96" stroke-width="1.1" stroke-linejoin="round"/><rect x="518.3" y="918.7" width="220.30000000000007" height="135.89999999999986" fill="#eaeaf2"/><line x1="528.3" x2="528.3" y1="918.7" y2="1054.6" stroke="#fff" stroke-width="1.1"/><line x1="578.5" x2="578.5" y1="918.7" y2="1054.6" stroke="#fff" stroke-width="1.1"/><line x1="628.6" x2="628.6" y1="918.7" y2="1054.6" stroke="#fff" stroke-width="1.1"/><line x1="678.8" x2="678.8" y1="918.7" y2="1054.6" stroke="#fff" stroke-width="1.1"/><line x1="729.0" x2="729.0" y1="918.7" y2="1054.6" stroke="#fff" stroke-width="1.1"/><line x1="518.3" x2="738.6" y1="953.0" y2="953.0" stroke="#fff" stroke-width="1.1"/><line x1="518.3" x2="738.6" y1="987.1" y2="987.1" stroke="#fff" stroke-width="1.1"/><line x1="518.3" x2="738.6" y1="1021.2" y2="1021.2" stroke="#fff" stroke-width="1.1"/><text x="528.3" y="1072.8" text-anchor="middle" textLength="20.5" lengthAdjust="spacingAndGlyphs" style="font-family:'Liberation Sans',sans-serif;font-size:12.2px;fill:#3c3c3c">0.0</text><text x="578.5" y="1072.8" text-anchor="middle" textLength="20.5" lengthAdjust="spacingAndGlyphs" style="font-family:'Liberation Sans',sans-serif;font-size:12.2px;fill:#3c3c3c">2.5</text><text x="628.6" y="1072.8" text-anchor="middle" textLength="20.5" lengthAdjust="spacingAndGlyphs" style="font-family:'Liberation Sans',sans-serif;font-size:12.2px;fill:#3c3c3c">5.0</text><text x="678.8" y="1072.8" text-anchor="middle" textLength="20.5" lengthAdjust="spacingAndGlyphs" style="font-family:'Liberation Sans',sans-serif;font-size:12.2px;fill:#3c3c3c">7.5</text><text x="728.0" y="1072.8" text-anchor="middle" textLength="27.5" lengthAdjust="spacingAndGlyphs" style="font-family:'Liberation Sans',sans-serif;font-size:12.2px;fill:#3c3c3c">10.0</text><text x="510.8" y="923.1" text-anchor="end" textLength="7.4" lengthAdjust="spacingAndGlyphs" style="font-family:'Liberation Sans',sans-serif;font-size:12.2px;fill:#3c3c3c">2</text><text x="510.8" y="957.2" text-anchor="end" textLength="7.4" lengthAdjust="spacingAndGlyphs" style="font-family:'Liberation Sans',sans-serif;font-size:12.2px;fill:#3c3c3c">1</text><text x="510.8" y="991.3" text-anchor="end" textLength="7.4" lengthAdjust="spacingAndGlyphs" style="font-family:'Liberation Sans',sans-serif;font-size:12.2px;fill:#3c3c3c">0</text><text x="510.8" y="1025.4" text-anchor="end" textLength="17.5" lengthAdjust="spacingAndGlyphs" style="font-family:'Liberation Sans',sans-serif;font-size:12.2px;fill:#3c3c3c">−1</text><text x="510.8" y="1059.5" text-anchor="end" textLength="17.5" lengthAdjust="spacingAndGlyphs" style="font-family:'Liberation Sans',sans-serif;font-size:12.2px;fill:#3c3c3c">−2</text><text x="628.6" y="1087.9" text-anchor="middle" style="font-family:'Liberation Sans',sans-serif;font-size:12.2px;fill:#3c3c3c">x</text><text transform="translate(486.3,987.1) rotate(-90)" text-anchor="middle" style="font-family:'Liberation Sans',sans-serif;font-size:12.2px;fill:#3c3c3c">y</text><path d="M528.3 973.7L529.3 974.7L530.3 975.9L531.3 977.0L532.3 978.3L533.3 979.6L534.3 980.9L535.3 982.4L536.3 983.9L537.3 985.4L538.3 987.1L539.3 985.4L540.3 983.9L541.3 982.4L542.3 980.9L543.4 979.6L544.4 978.3L545.4 977.0L546.4 975.9L547.4 974.7L548.4 973.7L549.4 972.7L550.4 971.7L551.4 970.8L552.4 969.9L553.4 969.1L554.4 968.3L555.4 967.6L556.4 966.9L557.4 966.2L558.4 965.5L559.4 966.2L560.4 966.9L561.4 967.6L562.4 968.3L563.4 969.1L564.4 969.9L565.4 970.8L566.4 971.7L567.4 972.7L568.4 973.7L569.4 974.7L570.4 975.9L571.5 977.0L572.5 978.3L573.5 979.6L574.5 980.9L575.5 982.4L576.5 983.9L577.5 985.4L578.5 987.1L579.5 985.4L580.5 983.9L581.5 982.4L582.5 980.9L583.5 979.6L584.5 978.3L585.5 977.0L586.5 975.9L587.5 974.7L588.5 973.7L589.5 972.7L590.5 971.7L591.5 970.8L592.5 969.9L593.5 969.1L594.5 968.3L595.5 967.6L596.5 966.9L597.5 966.2L598.5 965.5L599.5 964.9L600.6 964.4L601.6 963.8L602.6 963.3L603.6 962.8L604.6 962.3L605.6 961.8L606.6 961.4L607.6 961.0L608.6 960.6L609.6 960.2L610.6 959.9L611.6 959.5L612.6 959.2L613.6 958.9L614.6 958.6L615.6 958.4L616.6 958.1L617.6 957.9L618.6 957.6L619.6 957.4L620.6 957.2L621.6 957.0L622.6 956.8L623.6 956.6L624.6 956.4L625.6 956.3L626.6 956.1L627.6 955.9L628.6 955.8L629.7 955.9L630.7 956.1L631.7 956.3L632.7 956.4L633.7 956.6L634.7 956.8L635.7 957.0L636.7 957.2L637.7 957.4L638.7 957.6L639.7 957.9L640.7 958.1L641.7 958.4L642.7 958.6L643.7 958.9L644.7 959.2L645.7 959.5L646.7 959.9L647.7 960.2L648.7 960.6L649.7 961.0L650.7 961.4L651.7 961.8L652.7 962.3L653.7 962.8L654.7 963.3L655.7 963.8L656.7 964.4L657.8 964.9L658.8 965.5L659.8 966.2L660.8 966.9L661.8 967.6L662.8 968.3L663.8 969.1L664.8 969.9L665.8 970.8L666.8 971.7L667.8 972.7L668.8 973.7L669.8 974.7L670.8 975.9L671.8 977.0L672.8 978.3L673.8 979.6L674.8 980.9L675.8 982.4L676.8 983.9L677.8 985.4L678.8 987.1L679.8 985.4L680.8 983.9L681.8 982.4L682.8 980.9L683.8 979.6L684.8 978.3L685.8 977.0L686.9 975.9L687.9 974.7L688.9 973.7L689.9 972.7L690.9 971.7L691.9 970.8L692.9 969.9L693.9 969.1L694.9 968.3L695.9 967.6L696.9 966.9L697.9 966.2L698.9 965.5L699.9 966.2L700.9 966.9L701.9 967.6L702.9 968.3L703.9 969.1L704.9 969.9L705.9 970.8L706.9 971.7L707.9 972.7L708.9 973.7L709.9 974.7L710.9 975.9L711.9 977.0L712.9 978.3L713.9 979.6L715.0 980.9L716.0 982.4L717.0 983.9L718.0 985.4L719.0 987.1L720.0 985.4L721.0 983.9L722.0 982.4L723.0 980.9L724.0 979.6L725.0 978.3L726.0 977.0L727.0 975.9L728.0 974.7L729.0 973.7L729.0 1000.5L728.0 999.5L727.0 998.3L726.0 997.2L725.0 995.9L724.0 994.6L723.0 993.3L722.0 991.8L721.0 990.3L720.0 988.8L719.0 987.1L718.0 988.8L717.0 990.3L716.0 991.8L715.0 993.3L713.9 994.6L712.9 995.9L711.9 997.2L710.9 998.3L709.9 999.5L708.9 1000.5L707.9 1001.5L706.9 1002.5L705.9 1003.4L704.9 1004.3L703.9 1005.1L702.9 1005.9L701.9 1006.6L700.9 1007.3L699.9 1008.0L698.9 1008.7L697.9 1008.0L696.9 1007.3L695.9 1006.6L694.9 1005.9L693.9 1005.1L692.9 1004.3L691.9 1003.4L690.9 1002.5L689.9 1001.5L688.9 1000.5L687.9 999.5L686.9 998.3L685.8 997.2L684.8 995.9L683.8 994.6L682.8 993.3L681.8 991.8L680.8 990.3L679.8 988.8L678.8 987.1L677.8 988.8L676.8 990.3L675.8 991.8L674.8 993.3L673.8 994.6L672.8 995.9L671.8 997.2L670.8 998.3L669.8 999.5L668.8 1000.5L667.8 1001.5L666.8 1002.5L665.8 1003.4L664.8 1004.3L663.8 1005.1L662.8 1005.9L661.8 1006.6L660.8 1007.3L659.8 1008.0L658.8 1008.7L657.8 1009.3L656.7 1009.8L655.7 1010.4L654.7 1010.9L653.7 1011.4L652.7 1011.9L651.7 1012.4L650.7 1012.8L649.7 1013.2L648.7 1013.6L647.7 1014.0L646.7 1014.3L645.7 1014.7L644.7 1015.0L643.7 1015.3L642.7 1015.6L641.7 1015.8L640.7 1016.1L639.7 1016.3L638.7 1016.6L637.7 1016.8L636.7 1017.0L635.7 1017.2L634.7 1017.4L633.7 1017.6L632.7 1017.8L631.7 1017.9L630.7 1018.1L629.7 1018.3L628.6 1018.4L627.6 1018.3L626.6 1018.1L625.6 1017.9L624.6 1017.8L623.6 1017.6L622.6 1017.4L621.6 1017.2L620.6 1017.0L619.6 1016.8L618.6 1016.6L617.6 1016.3L616.6 1016.1L615.6 1015.8L614.6 1015.6L613.6 1015.3L612.6 1015.0L611.6 1014.7L610.6 1014.3L609.6 1014.0L608.6 1013.6L607.6 1013.2L606.6 1012.8L605.6 1012.4L604.6 1011.9L603.6 1011.4L602.6 1010.9L601.6 1010.4L600.6 1009.8L599.5 1009.3L598.5 1008.7L597.5 1008.0L596.5 1007.3L595.5 1006.6L594.5 1005.9L593.5 1005.1L592.5 1004.3L591.5 1003.4L590.5 1002.5L589.5 1001.5L588.5 1000.5L587.5 999.5L586.5 998.3L585.5 997.2L584.5 995.9L583.5 994.6L582.5 993.3L581.5 991.8L580.5 990.3L579.5 988.8L578.5 987.1L577.5 988.8L576.5 990.3L575.5 991.8L574.5 993.3L573.5 994.6L572.5 995.9L571.5 997.2L570.4 998.3L569.4 999.5L568.4 1000.5L567.4 1001.5L566.4 1002.5L565.4 1003.4L564.4 1004.3L563.4 1005.1L562.4 1005.9L561.4 1006.6L560.4 1007.3L559.4 1008.0L558.4 1008.7L557.4 1008.0L556.4 1007.3L555.4 1006.6L554.4 1005.9L553.4 1005.1L552.4 1004.3L551.4 1003.4L550.4 1002.5L549.4 1001.5L548.4 1000.5L547.4 999.5L546.4 998.3L545.4 997.2L544.4 995.9L543.4 994.6L542.3 993.3L541.3 991.8L540.3 990.3L539.3 988.8L538.3 987.1L537.3 988.8L536.3 990.3L535.3 991.8L534.3 993.3L533.3 994.6L532.3 995.9L531.3 997.2L530.3 998.3L529.3 999.5L528.3 1000.5Z" fill="#41509b"/><path d="M528.3 987.4L529.3 987.4L530.3 987.5L531.3 987.5L532.3 987.5L533.3 987.5L534.3 987.5L535.3 987.5L536.3 987.4L537.3 987.3L538.3 987.1L539.3 986.8L540.3 986.5L541.3 986.0L542.3 985.6L543.4 985.1L544.4 984.6L545.4 984.1L546.4 983.6L547.4 983.1L548.4 982.7L549.4 982.3L550.4 981.8L551.4 981.4L552.4 980.9L553.4 980.5L554.4 980.1L555.4 979.7L556.4 979.5L557.4 979.3L558.4 979.3L559.4 979.3L560.4 979.5L561.4 979.7L562.4 980.1L563.4 980.5L564.4 980.9L565.4 981.4L566.4 981.8L567.4 982.3L568.4 982.7L569.4 983.1L570.4 983.5L571.5 984.0L572.5 984.5L573.5 985.1L574.5 985.5L575.5 986.0L576.5 986.4L577.5 986.8L578.5 987.1L579.5 987.3L580.5 987.4L581.5 987.5L582.5 987.5L583.5 987.5L584.5 987.5L585.5 987.5L586.5 987.6L587.5 987.6L588.5 987.8L589.5 988.0L590.5 988.2L591.5 988.5L592.5 988.8L593.5 989.2L594.5 989.5L595.5 989.9L596.5 990.2L597.5 990.5L598.5 990.9L599.5 991.2L600.6 991.5L601.6 991.8L602.6 992.1L603.6 992.4L604.6 992.7L605.6 993.0L606.6 993.3L607.6 993.6L608.6 993.9L609.6 994.2L610.6 994.5L611.6 994.7L612.6 995.0L613.6 995.3L614.6 995.5L615.6 995.7L616.6 995.9L617.6 996.1L618.6 996.3L619.6 996.5L620.6 996.6L621.6 996.7L622.6 996.8L623.6 996.9L624.6 997.0L625.6 997.0L626.6 997.0L627.6 997.0L628.6 997.0L629.7 996.9L630.7 996.8L631.7 996.7L632.7 996.6L633.7 996.5L634.7 996.3L635.7 996.1L636.7 995.9L637.7 995.6L638.7 995.3L639.7 994.9L640.7 994.5L641.7 994.1L642.7 993.6L643.7 993.1L644.7 992.5L645.7 992.0L646.7 991.5L647.7 991.0L648.7 990.5L649.7 990.0L650.7 989.6L651.7 989.1L652.7 988.6L653.7 988.1L654.7 987.7L655.7 987.2L656.7 986.8L657.8 986.4L658.8 986.1L659.8 985.7L660.8 985.4L661.8 985.0L662.8 984.7L663.8 984.4L664.8 984.1L665.8 983.9L666.8 983.8L667.8 983.7L668.8 983.7L669.8 983.8L670.8 984.1L671.8 984.5L672.8 985.0L673.8 985.5L674.8 986.0L675.8 986.5L676.8 986.8L677.8 987.1L678.8 987.1L679.8 987.0L680.8 986.7L681.8 986.3L682.8 985.8L683.8 985.2L684.8 984.6L685.8 984.1L686.9 983.5L687.9 983.0L688.9 982.7L689.9 982.3L690.9 982.0L691.9 981.7L692.9 981.5L693.9 981.2L694.9 981.0L695.9 980.8L696.9 980.7L697.9 980.6L698.9 980.6L699.9 980.7L700.9 980.8L701.9 981.0L702.9 981.2L703.9 981.4L704.9 981.7L705.9 982.0L706.9 982.4L707.9 982.7L708.9 983.0L709.9 983.4L710.9 983.8L711.9 984.2L712.9 984.6L713.9 985.1L715.0 985.5L716.0 986.0L717.0 986.4L718.0 986.8L719.0 987.1L720.0 987.4L721.0 987.7L722.0 987.9L723.0 988.2L724.0 988.4L725.0 988.6L726.0 988.7L727.0 988.9L728.0 989.0L729.0 989.1" fill="none" stroke="#111" stroke-width="1.5" stroke-dasharray="5.5 2.4"/><rect x="137.4" y="1187.4" width="219.99999999999997" height="135.79999999999995" fill="#eaeaf2"/><line x1="147.4" x2="147.4" y1="1187.4" y2="1323.2" stroke="#fff" stroke-width="1.1"/><line x1="197.7" x2="197.7" y1="1187.4" y2="1323.2" stroke="#fff" stroke-width="1.1"/><line x1="247.9" x2="247.9" y1="1187.4" y2="1323.2" stroke="#fff" stroke-width="1.1"/><line x1="298.1" x2="298.1" y1="1187.4" y2="1323.2" stroke="#fff" stroke-width="1.1"/><line x1="348.4" x2="348.4" y1="1187.4" y2="1323.2" stroke="#fff" stroke-width="1.1"/><line x1="137.4" x2="357.4" y1="1221.7" y2="1221.7" stroke="#fff" stroke-width="1.1"/><line x1="137.4" x2="357.4" y1="1255.7" y2="1255.7" stroke="#fff" stroke-width="1.1"/><line x1="137.4" x2="357.4" y1="1289.7" y2="1289.7" stroke="#fff" stroke-width="1.1"/><text x="147.4" y="1341.4" text-anchor="middle" textLength="20.5" lengthAdjust="spacingAndGlyphs" style="font-family:'Liberation Sans',sans-serif;font-size:12.2px;fill:#3c3c3c">0.0</text><text x="197.7" y="1341.4" text-anchor="middle" textLength="20.5" lengthAdjust="spacingAndGlyphs" style="font-family:'Liberation Sans',sans-serif;font-size:12.2px;fill:#3c3c3c">2.5</text><text x="247.9" y="1341.4" text-anchor="middle" textLength="20.5" lengthAdjust="spacingAndGlyphs" style="font-family:'Liberation Sans',sans-serif;font-size:12.2px;fill:#3c3c3c">5.0</text><text x="298.1" y="1341.4" text-anchor="middle" textLength="20.5" lengthAdjust="spacingAndGlyphs" style="font-family:'Liberation Sans',sans-serif;font-size:12.2px;fill:#3c3c3c">7.5</text><text x="347.4" y="1341.4" text-anchor="middle" textLength="27.5" lengthAdjust="spacingAndGlyphs" style="font-family:'Liberation Sans',sans-serif;font-size:12.2px;fill:#3c3c3c">10.0</text><text x="129.9" y="1191.9" text-anchor="end" textLength="7.4" lengthAdjust="spacingAndGlyphs" style="font-family:'Liberation Sans',sans-serif;font-size:12.2px;fill:#3c3c3c">2</text><text x="129.9" y="1225.9" text-anchor="end" textLength="7.4" lengthAdjust="spacingAndGlyphs" style="font-family:'Liberation Sans',sans-serif;font-size:12.2px;fill:#3c3c3c">1</text><text x="129.9" y="1259.9" text-anchor="end" textLength="7.4" lengthAdjust="spacingAndGlyphs" style="font-family:'Liberation Sans',sans-serif;font-size:12.2px;fill:#3c3c3c">0</text><text x="129.9" y="1293.9" text-anchor="end" textLength="17.5" lengthAdjust="spacingAndGlyphs" style="font-family:'Liberation Sans',sans-serif;font-size:12.2px;fill:#3c3c3c">−1</text><text x="129.9" y="1327.9" text-anchor="end" textLength="17.5" lengthAdjust="spacingAndGlyphs" style="font-family:'Liberation Sans',sans-serif;font-size:12.2px;fill:#3c3c3c">−2</text><text x="247.9" y="1356.5" text-anchor="middle" style="font-family:'Liberation Sans',sans-serif;font-size:12.2px;fill:#3c3c3c">x</text><text transform="translate(105.4,1255.7) rotate(-90)" text-anchor="middle" style="font-family:'Liberation Sans',sans-serif;font-size:12.2px;fill:#3c3c3c">y</text><path d="M147.4 1224.8L148.4 1225.0L149.4 1225.1L150.4 1225.3L151.4 1225.5L152.4 1225.7L153.4 1225.9L154.4 1226.1L155.4 1226.3L156.4 1226.6L157.5 1226.8L158.5 1226.6L159.5 1226.3L160.5 1226.1L161.5 1225.9L162.5 1225.7L163.5 1225.5L164.5 1225.3L165.5 1225.1L166.5 1225.0L167.5 1224.8L168.5 1224.6L169.5 1224.5L170.5 1224.4L171.5 1224.2L172.5 1224.1L173.5 1224.0L174.5 1223.9L175.5 1223.8L176.5 1223.7L177.6 1223.6L177.6 1230.0L177.6 1223.6L178.6 1230.4L179.6 1230.8L180.6 1231.3L181.6 1231.8L182.6 1232.3L183.6 1232.8L184.6 1233.4L185.6 1234.0L186.6 1234.6L187.6 1235.3L188.6 1236.0L189.6 1236.7L190.6 1237.5L191.6 1238.3L192.6 1239.2L193.6 1240.1L194.6 1241.0L195.6 1242.0L196.6 1243.0L197.7 1244.1L198.7 1243.0L199.7 1242.0L200.7 1241.0L201.7 1240.1L202.7 1239.2L203.7 1238.3L204.7 1237.5L205.7 1236.7L206.7 1236.0L207.7 1235.3L208.7 1234.6L209.7 1234.0L210.7 1233.4L211.7 1232.8L212.7 1232.3L213.7 1231.8L214.7 1231.3L215.7 1230.8L216.7 1230.4L217.8 1230.0L218.8 1229.6L219.8 1229.2L220.8 1228.8L221.8 1228.5L222.8 1228.1L223.8 1227.8L224.8 1227.5L225.8 1227.2L226.8 1227.0L227.8 1226.7L228.8 1226.5L229.8 1226.2L230.8 1226.0L231.8 1225.8L232.8 1225.6L233.8 1225.4L234.8 1225.2L235.8 1225.1L236.8 1224.9L237.9 1224.7L238.9 1224.6L239.9 1224.4L240.9 1224.3L241.9 1224.2L242.9 1224.1L243.9 1223.9L244.9 1223.8L245.9 1223.7L246.9 1223.6L247.9 1223.5L247.9 1226.0L247.9 1223.5L248.9 1226.2L249.9 1226.5L250.9 1226.7L251.9 1227.0L252.9 1227.2L253.9 1227.5L254.9 1227.8L255.9 1228.1L256.9 1228.5L258.0 1228.8L259.0 1229.2L260.0 1229.6L261.0 1230.0L262.0 1230.4L263.0 1230.8L264.0 1231.3L265.0 1231.8L266.0 1232.3L267.0 1232.8L268.0 1233.4L269.0 1234.0L270.0 1234.7L271.0 1235.3L272.0 1236.0L273.0 1236.8L274.0 1237.5L275.0 1238.3L276.0 1239.2L277.0 1240.1L278.1 1241.0L279.1 1242.0L280.1 1243.1L281.1 1244.2L282.1 1245.3L283.1 1246.5L284.1 1247.8L285.1 1249.1L286.1 1250.5L287.1 1252.0L288.1 1253.6L289.1 1255.2L290.1 1256.9L291.1 1258.7L292.1 1260.6L293.1 1262.6L294.1 1264.7L295.1 1266.9L296.1 1269.2L297.1 1271.7L298.1 1274.2L299.2 1271.7L300.2 1269.2L301.2 1266.9L302.2 1264.7L303.2 1262.6L304.2 1260.6L305.2 1258.7L306.2 1256.9L307.2 1255.2L308.2 1253.6L309.2 1252.0L310.2 1250.5L311.2 1249.1L312.2 1247.8L313.2 1246.5L314.2 1245.3L315.2 1244.2L316.2 1243.1L317.2 1242.0L318.2 1241.0L318.2 1224.8L318.2 1241.0L319.3 1225.0L320.3 1225.2L321.3 1225.3L322.3 1225.5L323.3 1225.7L324.3 1225.9L325.3 1226.1L326.3 1226.4L327.3 1226.6L328.3 1226.9L329.3 1227.1L330.3 1227.4L331.3 1227.7L332.3 1228.0L333.3 1228.3L334.3 1228.7L335.3 1229.0L336.3 1229.4L337.3 1229.8L338.4 1230.2L339.4 1229.8L340.4 1229.4L341.4 1229.0L342.4 1228.7L343.4 1228.3L344.4 1228.0L345.4 1227.7L346.4 1227.4L347.4 1227.1L348.4 1226.9L348.4 1253.6L347.4 1251.8L346.4 1249.8L345.4 1247.8L344.4 1245.6L343.4 1243.4L342.4 1241.0L341.4 1238.5L340.4 1235.9L339.4 1233.1L338.4 1230.2L337.3 1233.1L336.3 1235.9L335.3 1238.5L334.3 1241.0L333.3 1243.4L332.3 1245.6L331.3 1247.8L330.3 1249.8L329.3 1251.8L328.3 1253.6L327.3 1255.4L326.3 1257.0L325.3 1258.6L324.3 1260.2L323.3 1261.6L322.3 1263.0L321.3 1264.3L320.3 1265.5L319.3 1266.7L318.2 1284.0L318.2 1267.8L318.2 1284.0L317.2 1283.7L316.2 1283.4L315.2 1283.1L314.2 1282.7L313.2 1282.4L312.2 1282.0L311.2 1281.6L310.2 1281.2L309.2 1280.8L308.2 1280.3L307.2 1279.8L306.2 1279.3L305.2 1278.8L304.2 1278.2L303.2 1277.7L302.2 1277.0L301.2 1276.4L300.2 1275.7L299.2 1275.0L298.1 1274.2L297.1 1275.0L296.1 1275.7L295.1 1276.4L294.1 1277.0L293.1 1277.7L292.1 1278.2L291.1 1278.8L290.1 1279.3L289.1 1279.8L288.1 1280.3L287.1 1280.8L286.1 1281.2L285.1 1281.6L284.1 1282.0L283.1 1282.4L282.1 1282.7L281.1 1283.1L280.1 1283.4L279.1 1283.7L278.1 1284.0L277.0 1284.3L276.0 1284.6L275.0 1284.8L274.0 1285.0L273.0 1285.3L272.0 1285.5L271.0 1285.7L270.0 1285.9L269.0 1286.1L268.0 1286.2L267.0 1286.4L266.0 1286.6L265.0 1286.7L264.0 1286.9L263.0 1287.0L262.0 1287.1L261.0 1287.3L260.0 1287.4L259.0 1287.5L258.0 1287.6L256.9 1287.7L255.9 1287.8L254.9 1287.9L253.9 1288.0L252.9 1288.1L251.9 1288.1L250.9 1288.2L249.9 1288.3L248.9 1288.4L247.9 1286.0L247.9 1288.4L247.9 1286.0L246.9 1285.8L245.9 1285.6L244.9 1285.4L243.9 1285.1L242.9 1284.9L241.9 1284.7L240.9 1284.4L239.9 1284.1L238.9 1283.8L237.9 1283.5L236.8 1283.2L235.8 1282.9L234.8 1282.5L233.8 1282.2L232.8 1281.8L231.8 1281.4L230.8 1281.0L229.8 1280.5L228.8 1280.0L227.8 1279.5L226.8 1279.0L225.8 1278.5L224.8 1277.9L223.8 1277.3L222.8 1276.6L221.8 1276.0L220.8 1275.3L219.8 1274.5L218.8 1273.8L217.8 1272.9L216.7 1272.1L215.7 1271.2L214.7 1270.2L213.7 1269.2L212.7 1268.2L211.7 1267.1L210.7 1265.9L209.7 1264.7L208.7 1263.4L207.7 1262.1L206.7 1260.6L205.7 1259.2L204.7 1257.6L203.7 1255.9L202.7 1254.2L201.7 1252.4L200.7 1250.5L199.7 1248.5L198.7 1246.4L197.7 1244.1L196.6 1246.4L195.6 1248.5L194.6 1250.5L193.6 1252.4L192.6 1254.2L191.6 1255.9L190.6 1257.6L189.6 1259.2L188.6 1260.6L187.6 1262.1L186.6 1263.4L185.6 1264.7L184.6 1265.9L183.6 1267.1L182.6 1268.2L181.6 1269.2L180.6 1270.2L179.6 1271.2L178.6 1272.1L177.6 1266.6L177.6 1272.9L177.6 1266.6L176.5 1265.4L175.5 1264.1L174.5 1262.8L173.5 1261.4L172.5 1260.0L171.5 1258.5L170.5 1256.9L169.5 1255.2L168.5 1253.4L167.5 1251.5L166.5 1249.6L165.5 1247.5L164.5 1245.4L163.5 1243.1L162.5 1240.7L161.5 1238.2L160.5 1235.6L159.5 1232.8L158.5 1229.9L157.5 1226.8L156.4 1229.9L155.4 1232.8L154.4 1235.6L153.4 1238.2L152.4 1240.7L151.4 1243.1L150.4 1245.4L149.4 1247.5L148.4 1249.6L147.4 1251.5Z" fill="#41509b"/><line x1="157.5" x2="157.5" y1="1226.8" y2="1255.7" stroke="#e5393b" stroke-width="0.9" stroke-dasharray="2.6 1.6"/><circle cx="157.5" cy="1226.8" r="2.3" fill="#e5393b"/><path d="M155.4 1253.6L159.6 1257.8M155.4 1257.8L159.6 1253.6" stroke="#e5393b" stroke-width="1.1"/><line x1="197.7" x2="197.7" y1="1244.1" y2="1255.7" stroke="#e5393b" stroke-width="0.9" stroke-dasharray="2.6 1.6"/><circle cx="197.7" cy="1244.1" r="2.3" fill="#e5393b"/><path d="M195.6 1253.6L199.8 1257.8M195.6 1257.8L199.8 1253.6" stroke="#e5393b" stroke-width="1.1"/><line x1="298.1" x2="298.1" y1="1274.2" y2="1255.7" stroke="#e5393b" stroke-width="0.9" stroke-dasharray="2.6 1.6"/><circle cx="298.1" cy="1274.2" r="2.3" fill="#e5393b"/><path d="M296.0 1253.6L300.2 1257.8M296.0 1257.8L300.2 1253.6" stroke="#e5393b" stroke-width="1.1"/><line x1="338.4" x2="338.4" y1="1230.2" y2="1255.7" stroke="#e5393b" stroke-width="0.9" stroke-dasharray="2.6 1.6"/><circle cx="338.4" cy="1230.2" r="2.3" fill="#e5393b"/><path d="M336.2 1253.6L340.5 1257.8M336.2 1257.8L340.5 1253.6" stroke="#e5393b" stroke-width="1.1"/><path d="M147.4 1238.5L148.4 1237.6L149.4 1236.7L150.4 1235.7L151.4 1234.7L152.4 1233.6L153.4 1232.5L154.4 1231.2L155.4 1229.9L156.4 1228.4L157.5 1226.8L158.5 1227.9L159.5 1228.9L160.5 1229.8L161.5 1230.5L162.5 1231.2L163.5 1231.8L164.5 1232.3L165.5 1232.8L166.5 1233.3L167.5 1233.8L168.5 1234.2L169.5 1234.6L170.5 1234.9L171.5 1235.2L172.5 1235.4L173.5 1235.7L174.5 1236.0L175.5 1236.4L176.5 1236.8L177.6 1237.2L177.6 1243.6L177.6 1237.2L178.6 1243.5L179.6 1243.4L180.6 1243.4L181.6 1243.5L182.6 1243.6L183.6 1243.8L184.6 1243.9L185.6 1244.1L186.6 1244.2L187.6 1244.3L188.6 1244.3L189.6 1244.4L190.6 1244.5L191.6 1244.6L192.6 1244.7L193.6 1244.7L194.6 1244.7L195.6 1244.6L196.6 1244.4L197.7 1244.1L198.7 1244.9L199.7 1245.6L200.7 1246.2L201.7 1246.7L202.7 1247.1L203.7 1247.6L204.7 1248.0L205.7 1248.4L206.7 1248.9L207.7 1249.4L208.7 1249.9L209.7 1250.5L210.7 1251.1L211.7 1251.7L212.7 1252.3L213.7 1252.9L214.7 1253.5L215.7 1254.1L216.7 1254.7L217.8 1255.2L218.8 1255.7L219.8 1256.2L220.8 1256.7L221.8 1257.2L222.8 1257.7L223.8 1258.2L224.8 1258.6L225.8 1259.1L226.8 1259.5L227.8 1259.9L228.8 1260.3L229.8 1260.7L230.8 1261.1L231.8 1261.5L232.8 1261.8L233.8 1262.2L234.8 1262.5L235.8 1262.8L236.8 1263.1L237.9 1263.3L238.9 1263.5L239.9 1263.7L240.9 1263.9L241.9 1264.1L242.9 1264.3L243.9 1264.4L244.9 1264.5L245.9 1264.6L246.9 1264.6L247.9 1264.6L247.9 1267.1L247.9 1264.6L248.9 1267.1L249.9 1267.1L250.9 1267.1L251.9 1267.1L252.9 1267.0L253.9 1266.9L254.9 1266.8L255.9 1266.7L256.9 1266.6L258.0 1266.4L259.0 1266.1L260.0 1265.9L261.0 1265.6L262.0 1265.2L263.0 1264.9L264.0 1264.5L265.0 1264.2L266.0 1263.8L267.0 1263.5L268.0 1263.2L269.0 1263.0L270.0 1262.7L271.0 1262.5L272.0 1262.3L273.0 1262.1L274.0 1261.9L275.0 1261.7L276.0 1261.6L277.0 1261.5L278.1 1261.5L279.1 1261.5L280.1 1261.5L281.1 1261.6L282.1 1261.6L283.1 1261.8L284.1 1261.9L285.1 1262.2L286.1 1262.5L287.1 1263.0L288.1 1263.5L289.1 1264.3L290.1 1265.2L291.1 1266.2L292.1 1267.3L293.1 1268.6L294.1 1269.8L295.1 1271.0L296.1 1272.2L297.1 1273.3L298.1 1274.2L299.2 1273.2L300.2 1272.0L301.2 1270.8L302.2 1269.6L303.2 1268.3L304.2 1267.0L305.2 1265.7L306.2 1264.6L307.2 1263.5L308.2 1262.5L309.2 1261.7L310.2 1260.8L311.2 1260.0L312.2 1259.3L313.2 1258.6L314.2 1257.9L315.2 1257.4L316.2 1256.9L317.2 1256.4L318.2 1256.1L318.2 1239.9L318.2 1256.1L319.3 1239.4L320.3 1239.0L321.3 1238.7L322.3 1238.3L323.3 1238.0L324.3 1237.7L325.3 1237.3L326.3 1237.0L327.3 1236.6L328.3 1236.2L329.3 1235.7L330.3 1235.3L331.3 1234.8L332.3 1234.3L333.3 1233.8L334.3 1233.3L335.3 1232.6L336.3 1231.9L337.3 1231.1L338.4 1230.2L339.4 1231.7L340.4 1233.2L341.4 1234.6L342.4 1235.9L343.4 1237.1L344.4 1238.3L345.4 1239.4L346.4 1240.4L347.4 1241.4L348.4 1242.3" fill="none" stroke="#111" stroke-width="1.5" stroke-dasharray="5.5 2.4"/><rect x="403.7" y="862.3" width="35.8" height="5.4" fill="#000"/><rect x="418.5" y="847.2" width="5.4" height="35" fill="#000"/><rect x="54" y="1151.5" width="43.4" height="5.6" fill="#000"/><rect x="54" y="1162" width="43.4" height="5.8" fill="#000"/><line x1="273.5" x2="273.5" y1="802.7" y2="851.3" stroke="#ff0000" stroke-width="1.3" stroke-dasharray="7 4"/><path d="M273.5 860.3L269.6 849.6999999999999L277.4 849.6999999999999Z" fill="#ff0000"/><line x1="462.5" x2="462.5" y1="802.7" y2="851.3" stroke="#ff0000" stroke-width="1.3" stroke-dasharray="7 4"/><path d="M462.5 860.3L458.6 849.6999999999999L466.4 849.6999999999999Z" fill="#ff0000"/><line x1="700.4" x2="700.4" y1="802.7" y2="851.3" stroke="#ff0000" stroke-width="1.3" stroke-dasharray="7 4"/><path d="M700.4 860.3L696.5 849.6999999999999L704.3 849.6999999999999Z" fill="#ff0000"/><line x1="608.3" x2="608.3" y1="1134" y2="1014.9" stroke="#ff0000" stroke-width="1.3" stroke-dasharray="7 4"/><path d="M608.3 1005.9L603.6999999999999 1016.6999999999999L612.9 1016.6999999999999Z" fill="#ff0000"/><line x1="398.5" x2="250" y1="1171.2" y2="1171.2" stroke="#ff0000" stroke-width="1.3" stroke-dasharray="7 4"/><path d="M240.5 1171.2L251.5 1167L251.5 1175.4Z" fill="#ff0000"/><text x="122.5" y="890.9" text-anchor="start" style="font-family:'Liberation Serif',serif;font-size:29px;fill:#111;font-style:italic;">f</text><text x="137.5" y="879" text-anchor="start" textLength="34" lengthAdjust="spacingAndGlyphs" style="font-family:'Liberation Serif',serif;font-size:17.5px;fill:#111;font-style:italic;">NN</text><text x="176" y="890.9" text-anchor="start" style="font-family:'Liberation Serif',serif;font-size:27px;fill:#111;">(</text><text x="185.5" y="890.9" text-anchor="start" style="font-family:'Liberation Serif',serif;font-size:27px;fill:#111;font-style:italic;">x</text><text x="200.5" y="890.9" text-anchor="start" style="font-family:'Liberation Serif',serif;font-size:27px;fill:#111;">)</text><path d="M229.3 860.3 Q209.3 884.4 229.3 908.5 Q214.5 884.4 229.3 860.3Z" fill="#111" stroke="#111" stroke-width="0.7" stroke-linejoin="round"/><text x="231.5" y="890.9" text-anchor="start" style="font-family:'Liberation Serif',serif;font-size:27px;fill:#111;font-style:italic;">e</text><text transform="translate(246,880) scale(1.25,1)" text-anchor="start" style="font-family:'Liberation Serif',serif;font-size:18.88px;fill:#111;">−</text><text transform="translate(261,880) scale(1.25,1)" text-anchor="start" style="font-family:'Liberation Serif',serif;font-size:18.88px;fill:#111;font-style:italic;">λ</text><text transform="translate(279.3,880) scale(1.25,1)" text-anchor="start" style="font-family:'Liberation Serif',serif;font-size:16px;fill:#111;font-style:italic;">d</text><text transform="translate(291.8,880) scale(1.25,1)" text-anchor="start" style="font-family:'Liberation Serif',serif;font-size:16px;fill:#111;">(</text><text transform="translate(298.6,880) scale(1.25,1)" text-anchor="start" style="font-family:'Liberation Serif',serif;font-size:16px;fill:#111;font-style:italic;">x</text><text transform="translate(312.5,880) scale(1.25,1)" text-anchor="start" style="font-family:'Liberation Serif',serif;font-size:16px;fill:#111;">,</text><text transform="translate(319,880) scale(1.25,1)" text-anchor="start" style="font-family:'Liberation Serif',serif;font-size:16px;fill:#111;font-style:italic;">s</text><text transform="translate(329.3,877.5) scale(1.25,1)" text-anchor="start" style="font-family:'Liberation Serif',serif;font-size:15.2px;fill:#111;">′</text><text transform="translate(334.5,880) scale(1.25,1)" text-anchor="start" style="font-family:'Liberation Serif',serif;font-size:16px;fill:#111;">)</text><path d="M344.4 860.3 Q364.6 884.4 344.4 908.5 Q359.4 884.4 344.4 860.3Z" fill="#111" stroke="#111" stroke-width="0.7" stroke-linejoin="round"/><text x="451.5" y="890" text-anchor="start" style="font-family:'Liberation Serif',serif;font-size:28px;fill:#111;font-style:italic;">L</text><path d="M490.7 857.6 Q467.3 883.5 490.7 909.4 Q472.5 883.5 490.7 857.6Z" fill="#111" stroke="#111" stroke-width="0.7" stroke-linejoin="round"/><text x="492.5" y="890" text-anchor="start" style="font-family:'Liberation Serif',serif;font-size:29px;fill:#111;">1</text><rect x="514.2" y="882.2" width="16.8" height="1.3" fill="#111"/><text x="540.5" y="890.6" text-anchor="start" style="font-family:'Liberation Serif',serif;font-size:27px;fill:#111;font-style:italic;">e</text><text transform="translate(555.4,878.3) scale(1.25,1)" text-anchor="start" style="font-family:'Liberation Serif',serif;font-size:18.88px;fill:#111;">−</text><text transform="translate(572,878.3) scale(1.25,1)" text-anchor="start" style="font-family:'Liberation Serif',serif;font-size:18.88px;fill:#111;font-style:italic;">λ</text><text transform="translate(592,878.3) scale(1.25,1)" text-anchor="start" style="font-family:'Liberation Serif',serif;font-size:16px;fill:#111;font-style:italic;">d</text><text transform="translate(604.4,878.3) scale(1.25,1)" text-anchor="start" style="font-family:'Liberation Serif',serif;font-size:16px;fill:#111;">(</text><text transform="translate(611.6,878.3) scale(1.25,1)" text-anchor="start" style="font-family:'Liberation Serif',serif;font-size:16px;fill:#111;font-style:italic;">x</text><text transform="translate(625.8,878.3) scale(1.25,1)" text-anchor="start" style="font-family:'Liberation Serif',serif;font-size:16px;fill:#111;">,</text><text transform="translate(632.2,878.3) scale(1.25,1)" text-anchor="start" style="font-family:'Liberation Serif',serif;font-size:16px;fill:#111;font-style:italic;">s</text><text transform="translate(642,875.8) scale(1.25,1)" text-anchor="start" style="font-family:'Liberation Serif',serif;font-size:15.2px;fill:#111;">′</text><text transform="translate(649.5,878.3) scale(1.25,1)" text-anchor="start" style="font-family:'Liberation Serif',serif;font-size:16px;fill:#111;">)</text><path d="M662 857.6 Q685.8 883.5 662 909.4 Q680.6 883.5 662 857.6Z" fill="#111" stroke="#111" stroke-width="0.7" stroke-linejoin="round"/><text x="691" y="890.6" text-anchor="start" style="font-family:'Liberation Serif',serif;font-size:27px;fill:#111;font-style:italic;">σ</text><text x="709.5" y="890.6" text-anchor="start" style="font-family:'Liberation Serif',serif;font-size:27px;fill:#111;">(</text><text x="720.5" y="890.6" text-anchor="start" style="font-family:'Liberation Serif',serif;font-size:29px;fill:#111;font-style:italic;">f</text><text x="737.3" y="877.6" text-anchor="start" style="font-family:'Liberation Serif',serif;font-size:18px;fill:#111;font-style:italic;">θ</text><text x="751" y="890.6" text-anchor="start" style="font-family:'Liberation Serif',serif;font-size:27px;fill:#111;">(</text><text x="760.5" y="890.6" text-anchor="start" style="font-family:'Liberation Serif',serif;font-size:27px;fill:#111;font-style:italic;">x</text><text x="776" y="890.6" text-anchor="start" style="font-family:'Liberation Serif',serif;font-size:27px;fill:#111;">))</text><text x="189.5" y="1171.6" text-anchor="start" style="font-family:'Liberation Serif',serif;font-size:32px;fill:#111;font-style:italic;">f</text><text x="207" y="1156" text-anchor="start" textLength="37" lengthAdjust="spacingAndGlyphs" style="font-family:'Liberation Serif',serif;font-size:18.5px;fill:#111;font-style:italic;">MC</text><text x="203" y="1178.5" text-anchor="start" style="font-family:'Liberation Serif',serif;font-size:18px;fill:#111;font-style:italic;">θ</text><text x="212.5" y="1178.5" text-anchor="start" style="font-family:'Liberation Serif',serif;font-size:18px;fill:#111;">,</text><text x="219" y="1178.5" text-anchor="start" style="font-family:'Liberation Serif',serif;font-size:18px;fill:#111;font-style:italic;">B</text><text x="253" y="1171.6" text-anchor="start" style="font-family:'Liberation Serif',serif;font-size:30px;fill:#111;">(</text><text x="263" y="1171.6" text-anchor="start" style="font-family:'Liberation Serif',serif;font-size:30px;fill:#111;font-style:italic;">x</text><text x="279" y="1171.6" text-anchor="start" style="font-family:'Liberation Serif',serif;font-size:30px;fill:#111;">)</text></svg>
<!-- p03_mid -->
<div style="position:absolute;top:257.35px;font-family:'Liberation Sans',sans-serif;font-size:54.4px;line-height:54.4px;white-space:nowrap;color:#000;font-weight:bold;left:249.80px;width:2000px;text-align:center;">Our Results: SOTA in Imitation</div>
<div style="position:absolute;top:310.55px;font-family:'Liberation Sans',sans-serif;font-size:54.4px;line-height:54.4px;white-space:nowrap;color:#000;font-weight:bold;left:249.30px;width:2000px;text-align:center;">Learning</div>
<div style="position:absolute;top:775.43px;font-family:'Liberation Sans',sans-serif;font-size:26.9px;line-height:26.9px;white-space:nowrap;color:#000;font-weight:bold;left:243.80px;width:2000px;text-align:center;">MCNN is a plug-in improvement to Diffusion Policy, Behavior</div>
<div style="position:absolute;top:807.73px;font-family:'Liberation Sans',sans-serif;font-size:26.9px;line-height:26.9px;white-space:nowrap;color:#000;font-weight:bold;left:243.80px;width:2000px;text-align:center;">Transformer, Behavior Cloning with any Architecture!</div>
<div style="position:absolute;top:605.22px;font-family:'Liberation Sans',sans-serif;font-size:19.7px;line-height:19.7px;white-space:nowrap;color:#000;left:1360.70px;">Suite</div>
<div style="position:absolute;top:605.22px;font-family:'Liberation Sans',sans-serif;font-size:19.7px;line-height:19.7px;white-space:nowrap;color:#000;left:1432.00px;">Obs</div>
<div style="position:absolute;top:605.22px;font-family:'Liberation Sans',sans-serif;font-size:19.7px;line-height:19.7px;white-space:nowrap;color:#000;left:1515.20px;">Action</div>
<div style="position:absolute;top:605.22px;font-family:'Liberation Sans',sans-serif;font-size:19.7px;line-height:19.7px;white-space:nowrap;color:#000;left:1589.80px;">Dataset</div>
<div style="position:absolute;top:643.37px;font-family:'Liberation Sans',sans-serif;font-size:19.7px;line-height:19.7px;white-space:nowrap;color:#000;left:1360.70px;">Adroit</div>
<div style="position:absolute;top:643.37px;font-family:'Liberation Sans',sans-serif;font-size:19.7px;line-height:19.7px;white-space:nowrap;color:#000;left:1432.00px;">Proprio</div>
<div style="position:absolute;top:643.37px;font-family:'Liberation Sans',sans-serif;font-size:19.7px;line-height:19.7px;white-space:nowrap;color:#000;left:1515.20px;">24-30D</div>
<div style="position:absolute;top:643.37px;font-family:'Liberation Sans',sans-serif;font-size:19.7px;line-height:19.7px;white-space:nowrap;color:#000;left:1589.80px;">5k - 1M</div>
<div style="position:absolute;top:678.07px;font-family:'Liberation Sans',sans-serif;font-size:19.7px;line-height:19.7px;white-space:nowrap;color:#000;left:1360.70px;">Carla</div>
<div style="position:absolute;top:678.07px;font-family:'Liberation Sans',sans-serif;font-size:19.7px;line-height:19.7px;white-space:nowrap;color:#000;left:1432.00px;">Images</div>
<div style="position:absolute;top:678.07px;font-family:'Liberation Sans',sans-serif;font-size:19.7px;line-height:19.7px;white-space:nowrap;color:#000;left:1515.20px;">2D</div>
<div style="position:absolute;top:678.07px;font-family:'Liberation Sans',sans-serif;font-size:19.7px;line-height:19.7px;white-space:nowrap;color:#000;left:1589.80px;">100k</div>
<div style="position:absolute;top:712.02px;font-family:'Liberation Sans',sans-serif;font-size:19.7px;line-height:19.7px;white-space:nowrap;color:#000;left:1360.70px;">Franka</div>
<div style="position:absolute;top:712.02px;font-family:'Liberation Sans',sans-serif;font-size:19.7px;line-height:19.7px;white-space:nowrap;color:#000;left:1432.00px;">Proprio</div>
<div style="position:absolute;top:712.02px;font-family:'Liberation Sans',sans-serif;font-size:19.7px;line-height:19.7px;white-space:nowrap;color:#000;left:1515.20px;">9D</div>
<div style="position:absolute;top:712.02px;font-family:'Liberation Sans',sans-serif;font-size:19.7px;line-height:19.7px;white-space:nowrap;color:#000;left:1589.80px;">130k</div>
<svg style="position:absolute;left:0px;top:0px;overflow:visible;" width="2500" height="1421"><line x1="1356.1" x2="1356.1" y1="598.4000000000001" y2="739.5" stroke="#000" stroke-width="1.6"/><line x1="1427.4" x2="1427.4" y1="598.4000000000001" y2="739.5" stroke="#000" stroke-width="1.6"/><line x1="1510.6" x2="1510.6" y1="598.4000000000001" y2="739.5" stroke="#000" stroke-width="1.6"/><line x1="1585.2" x2="1585.2" y1="598.4000000000001" y2="739.5" stroke="#000" stroke-width="1.6"/><line x1="1666.1" x2="1666.1" y1="598.4000000000001" y2="739.5" stroke="#000" stroke-width="1.6"/><line x1="1355.3" x2="1666.8999999999999" y1="599.2" y2="599.2" stroke="#000" stroke-width="1.6"/><line x1="1355.3" x2="1666.8999999999999" y1="635.3" y2="635.3" stroke="#000" stroke-width="1.6"/><line x1="1355.3" x2="1666.8999999999999" y1="670.8" y2="670.8" stroke="#000" stroke-width="1.6"/><line x1="1355.3" x2="1666.8999999999999" y1="704.7" y2="704.7" stroke="#000" stroke-width="1.6"/><line x1="1355.3" x2="1666.8999999999999" y1="738.7" y2="738.7" stroke="#000" stroke-width="1.6"/></svg>
<div style="position:absolute;top:377.15px;font-family:'Liberation Sans',sans-serif;font-size:14px;line-height:14px;white-space:nowrap;color:#000;left:1670.00px;">*</div>
<div style="position:absolute;top:1399.75px;font-family:'Liberation Sans',sans-serif;font-size:16.6px;line-height:16.6px;white-space:nowrap;color:#000;left:829.50px;">* robohive</div>
<div style="position:absolute;top:1394.24px;font-family:'Liberation Sans',sans-serif;font-size:19.8px;line-height:19.8px;white-space:nowrap;color:#000;left:1500.00px;">This work was supported in part by ARO MURI W911NF-20-1-0080, NSF2143274, and ONR N00014-22-1-2677.</div>
<svg style="position:absolute;left:0px;top:0px;overflow:visible;" width="2500" height="1421"><defs><pattern id="hx" width="8.6" height="8.6" patternUnits="userSpaceOnUse"><path d="M0 0L8.6 8.6M8.6 0L0 8.6M-1 7.6L1 9.6M7.6 -1L9.6 1M7.6 9.6L9.6 7.6M-1 1L1 -1" stroke="#000" stroke-opacity="0.75" stroke-width="0.7" fill="none"/></pattern>
<pattern id="hx2" width="6.4" height="6.4" patternUnits="userSpaceOnUse"><path d="M0 0L6.4 6.4M6.4 0L0 6.4" stroke="#000" stroke-opacity="0.55" stroke-width="0.6" fill="none"/></pattern></defs><rect x="836.4" y="853.8" width="823.6" height="38.3" fill="#eaeaf2"/><rect x="837.5" y="854.8" width="40.10000000000002" height="15.2" rx="7.6" fill="#17becf"/><text x="881.5" y="867.1" style="font-family:'Liberation Sans',sans-serif;font-size:14.5px;fill:#4a4a4a">D4RL BC</text><rect x="837.5" y="874.6" width="40.10000000000002" height="15.2" rx="7.6" fill="#ff7f0e"/><text x="881.5" y="886.9" style="font-family:'Liberation Sans',sans-serif;font-size:14.5px;fill:#4a4a4a">1-NN</text><rect x="958.5" y="854.8" width="41.5" height="15.2" rx="7.6" fill="#800080"/><text x="1004.3" y="867.1" style="font-family:'Liberation Sans',sans-serif;font-size:14.5px;fill:#4a4a4a">VINN</text><rect x="958.5" y="874.6" width="41.5" height="15.2" rx="7.6" fill="#7f7f7f"/><text x="1004.3" y="886.9" style="font-family:'Liberation Sans',sans-serif;font-size:14.5px;fill:#4a4a4a">CQL-S</text><rect x="1064.1" y="854.8" width="42.30000000000018" height="15.2" rx="7.6" fill="#8c564b"/><text x="1109.9" y="867.1" style="font-family:'Liberation Sans',sans-serif;font-size:14.5px;fill:#4a4a4a">IBC</text><rect x="1064.1" y="874.6" width="42.30000000000018" height="15.2" rx="7.6" fill="#008000"/><text x="1109.9" y="886.9" style="font-family:'Liberation Sans',sans-serif;font-size:14.5px;fill:#4a4a4a">BeT-BC</text><rect x="1176" y="854.8" width="42.299999999999955" height="15.2" rx="7.6" fill="#d62728"/><text x="1221.8" y="867.1" style="font-family:'Liberation Sans',sans-serif;font-size:14.5px;fill:#4a4a4a">Diff-BC</text><rect x="1176" y="874.6" width="42.299999999999955" height="15.2" rx="7.6" fill="#1f77b4"/><text x="1221.8" y="886.9" style="font-family:'Liberation Sans',sans-serif;font-size:14.5px;fill:#4a4a4a">MLP-BC</text><rect x="1288" y="854.2" width="45.799999999999955" height="17" fill="#008000"/><path d="M1288 854.2L1310.5 871.2L1333.8 854.2M1288 871.2L1310.5 854.2L1333.8 871.2" stroke="#000" stroke-opacity="0.7" stroke-width="0.9" fill="none"/><text x="1336.2" y="867.1" style="font-family:'Liberation Sans',sans-serif;font-size:14.5px;fill:#4a4a4a">MCNN+BeT (Fixed)</text><rect x="1288" y="873.6" width="45.799999999999955" height="17" fill="#d62728"/><path d="M1288 873.6L1310.5 890.6L1333.8 873.6M1288 890.6L1310.5 873.6L1333.8 890.6" stroke="#000" stroke-opacity="0.7" stroke-width="0.9" fill="none"/><text x="1336.2" y="886.9" style="font-family:'Liberation Sans',sans-serif;font-size:14.5px;fill:#4a4a4a">MCNN+Diff (Fixed)</text><rect x="1481.6" y="854.2" width="44.700000000000045" height="17" fill="#1f77b4"/><path d="M1481.6 854.2L1504.1 871.2L1526.3 854.2M1481.6 871.2L1504.1 854.2L1526.3 871.2" stroke="#000" stroke-opacity="0.7" stroke-width="0.9" fill="none"/><text x="1528.8" y="867.1" style="font-family:'Liberation Sans',sans-serif;font-size:14.5px;fill:#4a4a4a">MCNN+MLP (Fixed)</text><rect x="865.7" y="921.6" width="128.4" height="216.4" fill="#eaeaf2"/><line x1="865.7" x2="994.1" y1="940.0" y2="940.0" stroke="#f6f6fa" stroke-width="0.8"/><text x="861.9" y="943.2" text-anchor="end" style="font-family:'Liberation Sans',sans-serif;font-size:9.1px;fill:#555">3500</text><line x1="865.7" x2="994.1" y1="970.7" y2="970.7" stroke="#f6f6fa" stroke-width="0.8"/><text x="861.9" y="973.9" text-anchor="end" style="font-family:'Liberation Sans',sans-serif;font-size:9.1px;fill:#555">3000</text><line x1="865.7" x2="994.1" y1="1001.7" y2="1001.7" stroke="#f6f6fa" stroke-width="0.8"/><text x="861.9" y="1004.9" text-anchor="end" style="font-family:'Liberation Sans',sans-serif;font-size:9.1px;fill:#555">2500</text><line x1="865.7" x2="994.1" y1="1032.4" y2="1032.4" stroke="#f6f6fa" stroke-width="0.8"/><text x="861.9" y="1035.6" text-anchor="end" style="font-family:'Liberation Sans',sans-serif;font-size:9.1px;fill:#555">2000</text><line x1="865.7" x2="994.1" y1="1062.9" y2="1062.9" stroke="#f6f6fa" stroke-width="0.8"/><text x="861.9" y="1066.1" text-anchor="end" style="font-family:'Liberation Sans',sans-serif;font-size:9.1px;fill:#555">1500</text><line x1="865.7" x2="994.1" y1="1094.0" y2="1094.0" stroke="#f6f6fa" stroke-width="0.8"/><text x="861.9" y="1097.2" text-anchor="end" style="font-family:'Liberation Sans',sans-serif;font-size:9.1px;fill:#555">1000</text><line x1="865.7" x2="994.1" y1="1124.7" y2="1124.7" stroke="#f6f6fa" stroke-width="0.8"/><text x="861.9" y="1127.9" text-anchor="end" style="font-family:'Liberation Sans',sans-serif;font-size:9.1px;fill:#555">500</text><text x="929.8" y="919.0" text-anchor="middle" style="font-family:'Liberation Sans',sans-serif;font-size:12.2px;fill:#3a3a3a">pen-human-v1</text><text transform="translate(838.9,1031.0) rotate(-90)" text-anchor="middle" style="font-family:'Liberation Sans',sans-serif;font-size:12px;fill:#3a3a3a">Return</text><rect x="871.03" y="1085.86" width="8.97" height="52.07" fill="#17becf"/><line x1="875.52" x2="875.52" y1="1085.5" y2="1086.2" stroke="#333" stroke-opacity="0.8" stroke-width="0.75"/><rect x="882.07" y="1032.76" width="8.97" height="105.17" fill="#ff7f0e"/><line x1="886.55" x2="886.55" y1="1018.6" y2="1047.1" stroke="#333" stroke-opacity="0.8" stroke-width="0.75"/><rect x="892.93" y="1062.93" width="8.97" height="75.00" fill="#800080"/><line x1="897.41" x2="897.41" y1="1053.4" y2="1072.4" stroke="#333" stroke-opacity="0.8" stroke-width="0.75"/><rect x="903.97" y="1131.90" width="8.79" height="6.03" fill="#7f7f7f"/><line x1="908.36" x2="908.36" y1="1128.1" y2="1135.3" stroke="#333" stroke-opacity="0.8" stroke-width="0.75"/><rect x="914.83" y="995.69" width="8.79" height="142.24" fill="#8c564b"/><line x1="919.22" x2="919.22" y1="991.0" y2="1000.0" stroke="#333" stroke-opacity="0.8" stroke-width="0.75"/><rect x="925.69" y="1103.10" width="8.79" height="34.83" fill="#008000"/><line x1="930.09" x2="930.09" y1="1099.1" y2="1106.9" stroke="#333" stroke-opacity="0.8" stroke-width="0.75"/><rect x="936.55" y="1030.17" width="8.79" height="107.76" fill="#d62728"/><line x1="940.95" x2="940.95" y1="1027.2" y2="1033.6" stroke="#333" stroke-opacity="0.8" stroke-width="0.75"/><rect x="947.41" y="1041.03" width="8.79" height="96.90" fill="#1f77b4"/><line x1="951.81" x2="951.81" y1="1027.9" y2="1054.8" stroke="#333" stroke-opacity="0.8" stroke-width="0.75"/><rect x="958.28" y="1090.17" width="8.79" height="47.76" fill="#008000"/><rect x="958.28" y="1090.17" width="8.79" height="47.76" fill="url(#hx)" stroke="#000" stroke-opacity="0.45" stroke-width="0.6"/><line x1="962.67" x2="962.67" y1="1082.8" y2="1097.4" stroke="#333" stroke-opacity="0.8" stroke-width="0.75"/><rect x="969.14" y="1020.17" width="8.79" height="117.76" fill="#d62728"/><rect x="969.14" y="1020.17" width="8.79" height="117.76" fill="url(#hx)" stroke="#000" stroke-opacity="0.45" stroke-width="0.6"/><line x1="973.53" x2="973.53" y1="1019.0" y2="1021.2" stroke="#333" stroke-opacity="0.8" stroke-width="0.75"/><rect x="980.00" y="952.24" width="8.97" height="185.69" fill="#1f77b4"/><rect x="980.00" y="952.24" width="8.97" height="185.69" fill="url(#hx)" stroke="#000" stroke-opacity="0.45" stroke-width="0.6"/><line x1="984.48" x2="984.48" y1="939.3" y2="965.5" stroke="#333" stroke-opacity="0.8" stroke-width="0.75"/><line x1="865.7" x2="994.1" y1="965.3" y2="965.3" stroke="#e26a6a" stroke-width="0.8" stroke-dasharray="1.6 1"/><rect x="1034.1" y="921.6" width="126.4" height="216.4" fill="#eaeaf2"/><line x1="1034.1" x2="1160.5" y1="935.0" y2="935.0" stroke="#f6f6fa" stroke-width="0.8"/><text x="1030.0" y="938.2" text-anchor="end" style="font-family:'Liberation Sans',sans-serif;font-size:9.1px;fill:#555">400</text><line x1="1034.1" x2="1160.5" y1="965.2" y2="965.2" stroke="#f6f6fa" stroke-width="0.8"/><text x="1030.0" y="968.4" text-anchor="end" style="font-family:'Liberation Sans',sans-serif;font-size:9.1px;fill:#555">300</text><line x1="1034.1" x2="1160.5" y1="995.2" y2="995.2" stroke="#f6f6fa" stroke-width="0.8"/><text x="1030.0" y="998.4" text-anchor="end" style="font-family:'Liberation Sans',sans-serif;font-size:9.1px;fill:#555">200</text><line x1="1034.1" x2="1160.5" y1="1025.3" y2="1025.3" stroke="#f6f6fa" stroke-width="0.8"/><text x="1030.0" y="1028.5" text-anchor="end" style="font-family:'Liberation Sans',sans-serif;font-size:9.1px;fill:#555">100</text><line x1="1034.1" x2="1160.5" y1="1055.5" y2="1055.5" stroke="#f6f6fa" stroke-width="0.8"/><text x="1030.0" y="1058.7" text-anchor="end" style="font-family:'Liberation Sans',sans-serif;font-size:9.1px;fill:#555">0</text><line x1="1034.1" x2="1160.5" y1="1085.7" y2="1085.7" stroke="#f6f6fa" stroke-width="0.8"/><text x="1030.0" y="1088.9" text-anchor="end" style="font-family:'Liberation Sans',sans-serif;font-size:9.1px;fill:#555">−100</text><line x1="1034.1" x2="1160.5" y1="1115.9" y2="1115.9" stroke="#f6f6fa" stroke-width="0.8"/><text x="1030.0" y="1119.1" text-anchor="end" style="font-family:'Liberation Sans',sans-serif;font-size:9.1px;fill:#555">−200</text><text x="1096.7" y="919.0" text-anchor="middle" style="font-family:'Liberation Sans',sans-serif;font-size:12.2px;fill:#3a3a3a">hammer-human-v1</text><text transform="translate(1005.6,1031.0) rotate(-90)" text-anchor="middle" style="font-family:'Liberation Sans',sans-serif;font-size:12px;fill:#3a3a3a">Return</text><rect x="1039.31" y="1055.52" width="8.79" height="23.79" fill="#17becf"/><line x1="1043.71" x2="1043.71" y1="1078.4" y2="1080.2" stroke="#333" stroke-opacity="0.8" stroke-width="0.75"/><rect x="1050.17" y="1055.52" width="8.62" height="19.83" fill="#ff7f0e"/><line x1="1054.48" x2="1054.48" y1="1069.0" y2="1081.4" stroke="#333" stroke-opacity="0.8" stroke-width="0.75"/><rect x="1060.86" y="1055.52" width="8.79" height="69.48" fill="#800080"/><line x1="1065.26" x2="1065.26" y1="1121.6" y2="1129.0" stroke="#333" stroke-opacity="0.8" stroke-width="0.75"/><rect x="1071.72" y="1055.52" width="8.62" height="72.41" fill="#7f7f7f"/><line x1="1076.03" x2="1076.03" y1="1127.2" y2="1128.6" stroke="#333" stroke-opacity="0.8" stroke-width="0.75"/><rect x="1082.41" y="1055.52" width="8.62" height="39.83" fill="#8c564b"/><line x1="1086.72" x2="1086.72" y1="1087.1" y2="1103.1" stroke="#333" stroke-opacity="0.8" stroke-width="0.75"/><rect x="1093.10" y="1055.52" width="8.79" height="56.55" fill="#008000"/><line x1="1097.50" x2="1097.50" y1="1108.3" y2="1115.9" stroke="#333" stroke-opacity="0.8" stroke-width="0.75"/><rect x="1103.97" y="1055.52" width="8.62" height="48.28" fill="#d62728"/><line x1="1108.28" x2="1108.28" y1="1085.9" y2="1121.0" stroke="#333" stroke-opacity="0.8" stroke-width="0.75"/><rect x="1114.66" y="1055.52" width="8.45" height="3.10" fill="#1f77b4"/><line x1="1118.88" x2="1118.88" y1="1022.8" y2="1094.8" stroke="#333" stroke-opacity="0.8" stroke-width="0.75"/><rect x="1125.34" y="1055.52" width="8.45" height="38.97" fill="#008000"/><rect x="1125.34" y="1055.52" width="8.45" height="38.97" fill="url(#hx)" stroke="#000" stroke-opacity="0.45" stroke-width="0.6"/><line x1="1129.57" x2="1129.57" y1="1078.4" y2="1110.7" stroke="#333" stroke-opacity="0.8" stroke-width="0.75"/><rect x="1136.03" y="1050.00" width="8.62" height="5.52" fill="#d62728"/><rect x="1136.03" y="1050.00" width="8.62" height="5.52" fill="url(#hx)" stroke="#000" stroke-opacity="0.45" stroke-width="0.6"/><line x1="1140.34" x2="1140.34" y1="1011.2" y2="1088.8" stroke="#333" stroke-opacity="0.8" stroke-width="0.75"/><rect x="1146.90" y="976.21" width="8.45" height="79.31" fill="#1f77b4"/><rect x="1146.90" y="976.21" width="8.45" height="79.31" fill="url(#hx)" stroke="#000" stroke-opacity="0.45" stroke-width="0.6"/><line x1="1151.12" x2="1151.12" y1="943.1" y2="1008.6" stroke="#333" stroke-opacity="0.8" stroke-width="0.75"/><rect x="1195.3" y="920.3" width="130.5" height="216.2" fill="#eaeaf2"/><line x1="1195.3" x2="1325.9" y1="936.7" y2="936.7" stroke="#f6f6fa" stroke-width="0.8"/><text x="1191.6" y="939.9" text-anchor="end" style="font-family:'Liberation Sans',sans-serif;font-size:9.1px;fill:#555">20</text><line x1="1195.3" x2="1325.9" y1="961.7" y2="961.7" stroke="#f6f6fa" stroke-width="0.8"/><text x="1191.6" y="964.9" text-anchor="end" style="font-family:'Liberation Sans',sans-serif;font-size:9.1px;fill:#555">15</text><line x1="1195.3" x2="1325.9" y1="987.1" y2="987.1" stroke="#f6f6fa" stroke-width="0.8"/><text x="1191.6" y="990.3" text-anchor="end" style="font-family:'Liberation Sans',sans-serif;font-size:9.1px;fill:#555">10</text><line x1="1195.3" x2="1325.9" y1="1012.1" y2="1012.1" stroke="#f6f6fa" stroke-width="0.8"/><text x="1191.6" y="1015.3" text-anchor="end" style="font-family:'Liberation Sans',sans-serif;font-size:9.1px;fill:#555">5</text><line x1="1195.3" x2="1325.9" y1="1037.1" y2="1037.1" stroke="#f6f6fa" stroke-width="0.8"/><text x="1191.6" y="1040.3" text-anchor="end" style="font-family:'Liberation Sans',sans-serif;font-size:9.1px;fill:#555">0</text><line x1="1195.3" x2="1325.9" y1="1062.1" y2="1062.1" stroke="#f6f6fa" stroke-width="0.8"/><text x="1191.6" y="1065.3" text-anchor="end" style="font-family:'Liberation Sans',sans-serif;font-size:9.1px;fill:#555">−5</text><line x1="1195.3" x2="1325.9" y1="1087.1" y2="1087.1" stroke="#f6f6fa" stroke-width="0.8"/><text x="1191.6" y="1090.3" text-anchor="end" style="font-family:'Liberation Sans',sans-serif;font-size:9.1px;fill:#555">−10</text><line x1="1195.3" x2="1325.9" y1="1112.4" y2="1112.4" stroke="#f6f6fa" stroke-width="0.8"/><text x="1191.6" y="1115.6" text-anchor="end" style="font-family:'Liberation Sans',sans-serif;font-size:9.1px;fill:#555">−15</text><text x="1261.0" y="918.1" text-anchor="middle" style="font-family:'Liberation Sans',sans-serif;font-size:12.2px;fill:#3a3a3a">relocate-human-v1</text><text transform="translate(1172.3,1029.7) rotate(-90)" text-anchor="middle" style="font-family:'Liberation Sans',sans-serif;font-size:12px;fill:#3a3a3a">Return</text><rect x="1201.03" y="1037.07" width="9.14" height="31.90" fill="#17becf"/><line x1="1205.60" x2="1205.60" y1="1068.6" y2="1069.7" stroke="#333" stroke-opacity="0.8" stroke-width="0.75"/><rect x="1212.07" y="1037.07" width="9.14" height="23.62" fill="#ff7f0e"/><line x1="1216.64" x2="1216.64" y1="1057.8" y2="1062.9" stroke="#333" stroke-opacity="0.8" stroke-width="0.75"/><rect x="1223.28" y="1037.07" width="9.14" height="23.62" fill="#800080"/><line x1="1227.84" x2="1227.84" y1="1060.3" y2="1061.0" stroke="#333" stroke-opacity="0.8" stroke-width="0.75"/><rect x="1234.48" y="1037.07" width="9.14" height="98.62" fill="#7f7f7f"/><line x1="1239.05" x2="1239.05" y1="1133.6" y2="1136.6" stroke="#333" stroke-opacity="0.8" stroke-width="0.75"/><rect x="1245.69" y="1037.07" width="8.79" height="0.52" fill="#8c564b"/><line x1="1250.09" x2="1250.09" y1="1026.7" y2="1047.9" stroke="#333" stroke-opacity="0.8" stroke-width="0.75"/><rect x="1256.72" y="1037.07" width="8.97" height="12.93" fill="#008000"/><line x1="1261.21" x2="1261.21" y1="1041.7" y2="1058.6" stroke="#333" stroke-opacity="0.8" stroke-width="0.75"/><rect x="1267.93" y="1037.07" width="8.97" height="21.55" fill="#d62728"/><line x1="1272.41" x2="1272.41" y1="1049.7" y2="1066.9" stroke="#333" stroke-opacity="0.8" stroke-width="0.75"/><rect x="1279.14" y="1037.07" width="8.97" height="25.52" fill="#1f77b4"/><line x1="1283.62" x2="1283.62" y1="1054.0" y2="1071.6" stroke="#333" stroke-opacity="0.8" stroke-width="0.75"/><rect x="1290.17" y="995.69" width="9.14" height="41.38" fill="#008000"/><rect x="1290.17" y="995.69" width="9.14" height="41.38" fill="url(#hx)" stroke="#000" stroke-opacity="0.45" stroke-width="0.6"/><line x1="1294.74" x2="1294.74" y1="974.1" y2="1017.2" stroke="#333" stroke-opacity="0.8" stroke-width="0.75"/><rect x="1301.38" y="1037.07" width="9.14" height="12.59" fill="#d62728"/><rect x="1301.38" y="1037.07" width="9.14" height="12.59" fill="url(#hx)" stroke="#000" stroke-opacity="0.45" stroke-width="0.6"/><line x1="1305.95" x2="1305.95" y1="1041.7" y2="1058.6" stroke="#333" stroke-opacity="0.8" stroke-width="0.75"/><rect x="1312.59" y="1037.07" width="8.97" height="23.62" fill="#1f77b4"/><rect x="1312.59" y="1037.07" width="8.97" height="23.62" fill="url(#hx)" stroke="#000" stroke-opacity="0.45" stroke-width="0.6"/><line x1="1317.07" x2="1317.07" y1="1056.0" y2="1065.2" stroke="#333" stroke-opacity="0.8" stroke-width="0.75"/><rect x="1366.4" y="919.3" width="126.4" height="211.4" fill="#eaeaf2"/><line x1="1366.4" x2="1492.8" y1="924.1" y2="924.1" stroke="#f6f6fa" stroke-width="0.8"/><text x="1362.1" y="927.3" text-anchor="end" style="font-family:'Liberation Sans',sans-serif;font-size:9.1px;fill:#555">500</text><line x1="1366.4" x2="1492.8" y1="953.8" y2="953.8" stroke="#f6f6fa" stroke-width="0.8"/><text x="1362.1" y="957.0" text-anchor="end" style="font-family:'Liberation Sans',sans-serif;font-size:9.1px;fill:#555">400</text><line x1="1366.4" x2="1492.8" y1="983.4" y2="983.4" stroke="#f6f6fa" stroke-width="0.8"/><text x="1362.1" y="986.6" text-anchor="end" style="font-family:'Liberation Sans',sans-serif;font-size:9.1px;fill:#555">300</text><line x1="1366.4" x2="1492.8" y1="1012.9" y2="1012.9" stroke="#f6f6fa" stroke-width="0.8"/><text x="1362.1" y="1016.1" text-anchor="end" style="font-family:'Liberation Sans',sans-serif;font-size:9.1px;fill:#555">200</text><line x1="1366.4" x2="1492.8" y1="1042.6" y2="1042.6" stroke="#f6f6fa" stroke-width="0.8"/><text x="1362.1" y="1045.8" text-anchor="end" style="font-family:'Liberation Sans',sans-serif;font-size:9.1px;fill:#555">100</text><line x1="1366.4" x2="1492.8" y1="1071.9" y2="1071.9" stroke="#f6f6fa" stroke-width="0.8"/><text x="1362.1" y="1075.1" text-anchor="end" style="font-family:'Liberation Sans',sans-serif;font-size:9.1px;fill:#555">0</text><line x1="1366.4" x2="1492.8" y1="1101.4" y2="1101.4" stroke="#f6f6fa" stroke-width="0.8"/><text x="1362.1" y="1104.6" text-anchor="end" style="font-family:'Liberation Sans',sans-serif;font-size:9.1px;fill:#555">−100</text><text x="1362.1" y="1134.2" text-anchor="end" style="font-family:'Liberation Sans',sans-serif;font-size:9.1px;fill:#555">−200</text><text x="1429.3" y="916.9" text-anchor="middle" style="font-family:'Liberation Sans',sans-serif;font-size:12.2px;fill:#3a3a3a">door-human-v1</text><text transform="translate(1338.0,1026.7) rotate(-90)" text-anchor="middle" style="font-family:'Liberation Sans',sans-serif;font-size:12px;fill:#3a3a3a">Return</text><rect x="1371.72" y="1071.90" width="8.97" height="12.24" fill="#17becf"/><line x1="1376.21" x2="1376.21" y1="1083.6" y2="1084.8" stroke="#333" stroke-opacity="0.8" stroke-width="0.75"/><rect x="1382.59" y="1071.90" width="8.79" height="7.41" fill="#ff7f0e"/><line x1="1386.98" x2="1386.98" y1="1076.7" y2="1081.9" stroke="#333" stroke-opacity="0.8" stroke-width="0.75"/><rect x="1393.28" y="1071.90" width="8.79" height="11.21" fill="#800080"/><line x1="1397.67" x2="1397.67" y1="1080.2" y2="1086.2" stroke="#333" stroke-opacity="0.8" stroke-width="0.75"/><rect x="1403.97" y="1071.90" width="8.97" height="19.48" fill="#7f7f7f"/><line x1="1408.45" x2="1408.45" y1="1090.7" y2="1092.1" stroke="#333" stroke-opacity="0.8" stroke-width="0.75"/><rect x="1414.83" y="964.66" width="8.62" height="107.24" fill="#8c564b"/><line x1="1419.14" x2="1419.14" y1="944.5" y2="985.3" stroke="#333" stroke-opacity="0.8" stroke-width="0.75"/><rect x="1425.52" y="1071.90" width="8.79" height="15.69" fill="#008000"/><rect x="1436.21" y="1035.86" width="8.79" height="36.03" fill="#d62728"/><line x1="1440.60" x2="1440.60" y1="1022.1" y2="1049.1" stroke="#333" stroke-opacity="0.8" stroke-width="0.75"/><rect x="1447.07" y="1071.90" width="8.62" height="15.69" fill="#1f77b4"/><line x1="1451.38" x2="1451.38" y1="1086.7" y2="1088.4" stroke="#333" stroke-opacity="0.8" stroke-width="0.75"/><rect x="1457.76" y="1071.90" width="8.79" height="15.69" fill="#008000"/><rect x="1457.76" y="1071.90" width="8.79" height="15.69" fill="url(#hx)" stroke="#000" stroke-opacity="0.45" stroke-width="0.6"/><rect x="1468.45" y="1018.62" width="8.79" height="53.28" fill="#d62728"/><rect x="1468.45" y="1018.62" width="8.79" height="53.28" fill="url(#hx)" stroke="#000" stroke-opacity="0.45" stroke-width="0.6"/><line x1="1472.84" x2="1472.84" y1="1001.4" y2="1036.2" stroke="#333" stroke-opacity="0.8" stroke-width="0.75"/><rect x="1479.31" y="1071.90" width="8.62" height="1.38" fill="#1f77b4"/><rect x="1479.31" y="1071.90" width="8.62" height="1.38" fill="url(#hx)" stroke="#000" stroke-opacity="0.45" stroke-width="0.6"/><line x1="1483.62" x2="1483.62" y1="1068.6" y2="1078.4" stroke="#333" stroke-opacity="0.8" stroke-width="0.75"/><rect x="1531.7" y="918.6" width="128.4" height="215.5" fill="#eaeaf2"/><line x1="1531.7" x2="1660.2" y1="937.6" y2="937.6" stroke="#f6f6fa" stroke-width="0.8"/><text x="1527.4" y="940.8" text-anchor="end" style="font-family:'Liberation Sans',sans-serif;font-size:9.1px;fill:#555">4000</text><line x1="1531.7" x2="1660.2" y1="966.6" y2="966.6" stroke="#f6f6fa" stroke-width="0.8"/><text x="1527.4" y="969.8" text-anchor="end" style="font-family:'Liberation Sans',sans-serif;font-size:9.1px;fill:#555">3500</text><line x1="1531.7" x2="1660.2" y1="995.7" y2="995.7" stroke="#f6f6fa" stroke-width="0.8"/><text x="1527.4" y="998.9" text-anchor="end" style="font-family:'Liberation Sans',sans-serif;font-size:9.1px;fill:#555">3000</text><line x1="1531.7" x2="1660.2" y1="1024.5" y2="1024.5" stroke="#f6f6fa" stroke-width="0.8"/><text x="1527.4" y="1027.7" text-anchor="end" style="font-family:'Liberation Sans',sans-serif;font-size:9.1px;fill:#555">2500</text><line x1="1531.7" x2="1660.2" y1="1053.4" y2="1053.4" stroke="#f6f6fa" stroke-width="0.8"/><text x="1527.4" y="1056.6" text-anchor="end" style="font-family:'Liberation Sans',sans-serif;font-size:9.1px;fill:#555">2000</text><line x1="1531.7" x2="1660.2" y1="1082.4" y2="1082.4" stroke="#f6f6fa" stroke-width="0.8"/><text x="1527.4" y="1085.6" text-anchor="end" style="font-family:'Liberation Sans',sans-serif;font-size:9.1px;fill:#555">1500</text><line x1="1531.7" x2="1660.2" y1="1111.6" y2="1111.6" stroke="#f6f6fa" stroke-width="0.8"/><text x="1527.4" y="1114.8" text-anchor="end" style="font-family:'Liberation Sans',sans-serif;font-size:9.1px;fill:#555">1000</text><text x="1595.3" y="916.4" text-anchor="middle" style="font-family:'Liberation Sans',sans-serif;font-size:12.2px;fill:#3a3a3a">pen-expert-v1</text><text transform="translate(1505.2,1027.6) rotate(-90)" text-anchor="middle" style="font-family:'Liberation Sans',sans-serif;font-size:12px;fill:#3a3a3a">Return</text><rect x="1537.41" y="1017.24" width="9.83" height="116.90" fill="#17becf"/><rect x="1549.14" y="989.66" width="9.83" height="144.48" fill="#ff7f0e"/><line x1="1554.05" x2="1554.05" y1="973.3" y2="1006.0" stroke="#333" stroke-opacity="0.8" stroke-width="0.75"/><rect x="1561.21" y="986.55" width="9.66" height="147.59" fill="#800080"/><line x1="1566.03" x2="1566.03" y1="980.7" y2="992.2" stroke="#333" stroke-opacity="0.8" stroke-width="0.75"/><rect x="1573.10" y="1130.17" width="9.83" height="3.97" fill="#7f7f7f"/><line x1="1578.02" x2="1578.02" y1="1129.3" y2="1131.4" stroke="#333" stroke-opacity="0.8" stroke-width="0.75"/><rect x="1585.17" y="1062.07" width="9.66" height="72.07" fill="#008000"/><line x1="1590.00" x2="1590.00" y1="1055.2" y2="1069.0" stroke="#333" stroke-opacity="0.8" stroke-width="0.75"/><rect x="1597.07" y="984.48" width="9.66" height="149.66" fill="#d62728"/><line x1="1601.90" x2="1601.90" y1="959.5" y2="1009.0" stroke="#333" stroke-opacity="0.8" stroke-width="0.75"/><rect x="1608.97" y="984.48" width="9.66" height="149.66" fill="#1f77b4"/><line x1="1613.79" x2="1613.79" y1="976.7" y2="991.7" stroke="#333" stroke-opacity="0.8" stroke-width="0.75"/><rect x="1620.86" y="1051.72" width="9.66" height="82.41" fill="#008000"/><rect x="1620.86" y="1051.72" width="9.66" height="82.41" fill="url(#hx)" stroke="#000" stroke-opacity="0.45" stroke-width="0.6"/><line x1="1625.69" x2="1625.69" y1="1050.9" y2="1052.6" stroke="#333" stroke-opacity="0.8" stroke-width="0.75"/><rect x="1632.76" y="965.86" width="9.66" height="168.28" fill="#d62728"/><rect x="1632.76" y="965.86" width="9.66" height="168.28" fill="url(#hx)" stroke="#000" stroke-opacity="0.45" stroke-width="0.6"/><line x1="1637.59" x2="1637.59" y1="948.6" y2="982.8" stroke="#333" stroke-opacity="0.8" stroke-width="0.75"/><rect x="1644.66" y="940.86" width="9.83" height="193.28" fill="#1f77b4"/><rect x="1644.66" y="940.86" width="9.83" height="193.28" fill="url(#hx)" stroke="#000" stroke-opacity="0.45" stroke-width="0.6"/><line x1="1649.57" x2="1649.57" y1="927.1" y2="954.3" stroke="#333" stroke-opacity="0.8" stroke-width="0.75"/><line x1="1531.7" x2="1660.2" y1="990.9" y2="990.9" stroke="#e26a6a" stroke-width="0.8" stroke-dasharray="1.6 1"/><rect x="918.8" y="1167.9" width="123.1" height="215.3" fill="#eaeaf2"/><line x1="918.8" x2="1041.9" y1="1186.7" y2="1186.7" stroke="#f6f6fa" stroke-width="0.8"/><text x="914.8" y="1189.9" text-anchor="end" style="font-family:'Liberation Sans',sans-serif;font-size:9.1px;fill:#555">3000</text><line x1="918.8" x2="1041.9" y1="1226.9" y2="1226.9" stroke="#f6f6fa" stroke-width="0.8"/><text x="914.8" y="1230.1" text-anchor="end" style="font-family:'Liberation Sans',sans-serif;font-size:9.1px;fill:#555">2500</text><line x1="918.8" x2="1041.9" y1="1266.9" y2="1266.9" stroke="#f6f6fa" stroke-width="0.8"/><text x="914.8" y="1270.1" text-anchor="end" style="font-family:'Liberation Sans',sans-serif;font-size:9.1px;fill:#555">2000</text><line x1="918.8" x2="1041.9" y1="1306.7" y2="1306.7" stroke="#f6f6fa" stroke-width="0.8"/><text x="914.8" y="1309.9" text-anchor="end" style="font-family:'Liberation Sans',sans-serif;font-size:9.1px;fill:#555">1500</text><line x1="918.8" x2="1041.9" y1="1346.7" y2="1346.7" stroke="#f6f6fa" stroke-width="0.8"/><text x="914.8" y="1349.9" text-anchor="end" style="font-family:'Liberation Sans',sans-serif;font-size:9.1px;fill:#555">1000</text><text x="982.1" y="1165.7" text-anchor="middle" style="font-family:'Liberation Sans',sans-serif;font-size:12.2px;fill:#3a3a3a">door-expert-v1</text><text transform="translate(892.0,1279.5) rotate(-90)" text-anchor="middle" style="font-family:'Liberation Sans',sans-serif;font-size:12px;fill:#3a3a3a">Return</text><rect x="923.97" y="1348.97" width="9.83" height="34.31" fill="#17becf"/><line x1="928.88" x2="928.88" y1="1348.6" y2="1349.3" stroke="#333" stroke-opacity="0.8" stroke-width="0.75"/><rect x="935.86" y="1209.14" width="9.83" height="174.14" fill="#ff7f0e"/><line x1="940.78" x2="940.78" y1="1207.1" y2="1211.4" stroke="#333" stroke-opacity="0.8" stroke-width="0.75"/><rect x="947.93" y="1205.34" width="9.66" height="177.93" fill="#800080"/><rect x="959.83" y="1207.93" width="9.83" height="175.34" fill="#7f7f7f"/><line x1="964.74" x2="964.74" y1="1198.4" y2="1217.4" stroke="#333" stroke-opacity="0.8" stroke-width="0.75"/><rect x="971.72" y="1381.21" width="9.83" height="2.07" fill="#008000"/><line x1="976.64" x2="976.64" y1="1360.9" y2="1383.3" stroke="#333" stroke-opacity="0.8" stroke-width="0.75"/><rect x="983.79" y="1202.24" width="9.66" height="181.03" fill="#d62728"/><line x1="988.62" x2="988.62" y1="1201.0" y2="1203.6" stroke="#333" stroke-opacity="0.8" stroke-width="0.75"/><rect x="995.69" y="1202.41" width="9.66" height="180.86" fill="#1f77b4"/><line x1="1000.52" x2="1000.52" y1="1199.8" y2="1205.3" stroke="#333" stroke-opacity="0.8" stroke-width="0.75"/><rect x="1007.59" y="1354.14" width="9.66" height="29.14" fill="#008000"/><rect x="1007.59" y="1354.14" width="9.66" height="29.14" fill="url(#hx)" stroke="#000" stroke-opacity="0.45" stroke-width="0.6"/><line x1="1012.41" x2="1012.41" y1="1350.2" y2="1358.4" stroke="#333" stroke-opacity="0.8" stroke-width="0.75"/><rect x="1019.48" y="1186.38" width="9.66" height="196.90" fill="#d62728"/><rect x="1019.48" y="1186.38" width="9.66" height="196.90" fill="url(#hx)" stroke="#000" stroke-opacity="0.45" stroke-width="0.6"/><line x1="1024.31" x2="1024.31" y1="1186.0" y2="1186.9" stroke="#333" stroke-opacity="0.8" stroke-width="0.75"/><rect x="1031.38" y="1184.14" width="9.66" height="199.14" fill="#1f77b4"/><rect x="1031.38" y="1184.14" width="9.66" height="199.14" fill="url(#hx)" stroke="#000" stroke-opacity="0.45" stroke-width="0.6"/><line x1="1036.21" x2="1036.21" y1="1183.8" y2="1184.7" stroke="#333" stroke-opacity="0.8" stroke-width="0.75"/><line x1="918.8" x2="1041.9" y1="1195.9" y2="1195.9" stroke="#e26a6a" stroke-width="0.8" stroke-dasharray="1.6 1"/><rect x="1085.0" y="1167.9" width="122.9" height="215.3" fill="#eaeaf2"/><line x1="1085.0" x2="1207.9" y1="1172.1" y2="1172.1" stroke="#f6f6fa" stroke-width="0.8"/><text x="1080.7" y="1175.3" text-anchor="end" style="font-family:'Liberation Sans',sans-serif;font-size:9.1px;fill:#555">5000</text><line x1="1085.0" x2="1207.9" y1="1218.3" y2="1218.3" stroke="#f6f6fa" stroke-width="0.8"/><text x="1080.7" y="1221.5" text-anchor="end" style="font-family:'Liberation Sans',sans-serif;font-size:9.1px;fill:#555">4000</text><line x1="1085.0" x2="1207.9" y1="1264.5" y2="1264.5" stroke="#f6f6fa" stroke-width="0.8"/><text x="1080.7" y="1267.7" text-anchor="end" style="font-family:'Liberation Sans',sans-serif;font-size:9.1px;fill:#555">3000</text><line x1="1085.0" x2="1207.9" y1="1310.9" y2="1310.9" stroke="#f6f6fa" stroke-width="0.8"/><text x="1080.7" y="1314.1" text-anchor="end" style="font-family:'Liberation Sans',sans-serif;font-size:9.1px;fill:#555">2000</text><line x1="1085.0" x2="1207.9" y1="1357.1" y2="1357.1" stroke="#f6f6fa" stroke-width="0.8"/><text x="1080.7" y="1360.3" text-anchor="end" style="font-family:'Liberation Sans',sans-serif;font-size:9.1px;fill:#555">1000</text><text x="1148.3" y="1165.7" text-anchor="middle" style="font-family:'Liberation Sans',sans-serif;font-size:12.2px;fill:#3a3a3a">relocate-expert-v1</text><text transform="translate(1058.3,1279.5) rotate(-90)" text-anchor="middle" style="font-family:'Liberation Sans',sans-serif;font-size:12px;fill:#3a3a3a">Return</text><rect x="1090.69" y="1204.48" width="9.83" height="178.79" fill="#17becf"/><line x1="1095.60" x2="1095.60" y1="1204.1" y2="1204.8" stroke="#333" stroke-opacity="0.8" stroke-width="0.75"/><rect x="1102.59" y="1352.24" width="9.66" height="31.03" fill="#ff7f0e"/><line x1="1107.41" x2="1107.41" y1="1339.8" y2="1364.8" stroke="#333" stroke-opacity="0.8" stroke-width="0.75"/><rect x="1114.48" y="1343.79" width="9.66" height="39.48" fill="#800080"/><line x1="1119.31" x2="1119.31" y1="1338.1" y2="1349.8" stroke="#333" stroke-opacity="0.8" stroke-width="0.75"/><rect x="1126.38" y="1315.17" width="9.66" height="68.10" fill="#7f7f7f"/><line x1="1131.21" x2="1131.21" y1="1260.2" y2="1368.8" stroke="#333" stroke-opacity="0.8" stroke-width="0.75"/><rect x="1138.28" y="1380.34" width="9.66" height="2.93" fill="#008000"/><line x1="1143.10" x2="1143.10" y1="1378.1" y2="1382.1" stroke="#333" stroke-opacity="0.8" stroke-width="0.75"/><rect x="1150.17" y="1201.21" width="9.66" height="182.07" fill="#d62728"/><line x1="1155.00" x2="1155.00" y1="1200.7" y2="1201.7" stroke="#333" stroke-opacity="0.8" stroke-width="0.75"/><rect x="1162.07" y="1201.21" width="9.66" height="182.07" fill="#1f77b4"/><line x1="1166.90" x2="1166.90" y1="1198.8" y2="1204.0" stroke="#333" stroke-opacity="0.8" stroke-width="0.75"/><rect x="1173.97" y="1377.24" width="9.66" height="6.03" fill="#008000"/><rect x="1173.97" y="1377.24" width="9.66" height="6.03" fill="url(#hx)" stroke="#000" stroke-opacity="0.45" stroke-width="0.6"/><line x1="1178.79" x2="1178.79" y1="1374.3" y2="1379.8" stroke="#333" stroke-opacity="0.8" stroke-width="0.75"/><rect x="1185.86" y="1191.38" width="9.48" height="191.90" fill="#d62728"/><rect x="1185.86" y="1191.38" width="9.48" height="191.90" fill="url(#hx)" stroke="#000" stroke-opacity="0.45" stroke-width="0.6"/><line x1="1190.60" x2="1190.60" y1="1190.9" y2="1191.9" stroke="#333" stroke-opacity="0.8" stroke-width="0.75"/><rect x="1197.76" y="1191.90" width="9.83" height="191.38" fill="#1f77b4"/><rect x="1197.76" y="1191.90" width="9.83" height="191.38" fill="url(#hx)" stroke="#000" stroke-opacity="0.45" stroke-width="0.6"/><line x1="1202.67" x2="1202.67" y1="1189.5" y2="1194.1" stroke="#333" stroke-opacity="0.8" stroke-width="0.75"/><line x1="1085.0" x2="1207.9" y1="1206.7" y2="1206.7" stroke="#e26a6a" stroke-width="0.8" stroke-dasharray="1.6 1"/><rect x="1257.9" y="1167.9" width="119.0" height="215.3" fill="#eaeaf2"/><line x1="1257.9" x2="1376.9" y1="1168.8" y2="1168.8" stroke="#f6f6fa" stroke-width="0.8"/><text x="1254.0" y="1172.0" text-anchor="end" style="font-family:'Liberation Sans',sans-serif;font-size:9.1px;fill:#555">18000</text><line x1="1257.9" x2="1376.9" y1="1196.2" y2="1196.2" stroke="#f6f6fa" stroke-width="0.8"/><text x="1254.0" y="1199.4" text-anchor="end" style="font-family:'Liberation Sans',sans-serif;font-size:9.1px;fill:#555">16000</text><line x1="1257.9" x2="1376.9" y1="1223.8" y2="1223.8" stroke="#f6f6fa" stroke-width="0.8"/><text x="1254.0" y="1227.0" text-anchor="end" style="font-family:'Liberation Sans',sans-serif;font-size:9.1px;fill:#555">14000</text><line x1="1257.9" x2="1376.9" y1="1251.2" y2="1251.2" stroke="#f6f6fa" stroke-width="0.8"/><text x="1254.0" y="1254.4" text-anchor="end" style="font-family:'Liberation Sans',sans-serif;font-size:9.1px;fill:#555">12000</text><line x1="1257.9" x2="1376.9" y1="1278.6" y2="1278.6" stroke="#f6f6fa" stroke-width="0.8"/><text x="1254.0" y="1281.8" text-anchor="end" style="font-family:'Liberation Sans',sans-serif;font-size:9.1px;fill:#555">10000</text><line x1="1257.9" x2="1376.9" y1="1306.0" y2="1306.0" stroke="#f6f6fa" stroke-width="0.8"/><text x="1254.0" y="1309.2" text-anchor="end" style="font-family:'Liberation Sans',sans-serif;font-size:9.1px;fill:#555">8000</text><line x1="1257.9" x2="1376.9" y1="1333.6" y2="1333.6" stroke="#f6f6fa" stroke-width="0.8"/><text x="1254.0" y="1336.8" text-anchor="end" style="font-family:'Liberation Sans',sans-serif;font-size:9.1px;fill:#555">6000</text><line x1="1257.9" x2="1376.9" y1="1361.0" y2="1361.0" stroke="#f6f6fa" stroke-width="0.8"/><text x="1254.0" y="1364.2" text-anchor="end" style="font-family:'Liberation Sans',sans-serif;font-size:9.1px;fill:#555">4000</text><text x="1319.2" y="1165.7" text-anchor="middle" style="font-family:'Liberation Sans',sans-serif;font-size:12.2px;fill:#3a3a3a">hammer-expert-v1</text><text transform="translate(1226.3,1276.9) rotate(-90)" text-anchor="middle" style="font-family:'Liberation Sans',sans-serif;font-size:12px;fill:#3a3a3a">Return</text><rect x="1263.28" y="1193.97" width="9.48" height="189.31" fill="#17becf"/><line x1="1268.02" x2="1268.02" y1="1193.6" y2="1194.3" stroke="#333" stroke-opacity="0.8" stroke-width="0.75"/><rect x="1274.83" y="1277.24" width="9.31" height="106.03" fill="#ff7f0e"/><line x1="1279.48" x2="1279.48" y1="1266.2" y2="1288.1" stroke="#333" stroke-opacity="0.8" stroke-width="0.75"/><rect x="1286.38" y="1270.52" width="9.31" height="112.76" fill="#800080"/><line x1="1291.03" x2="1291.03" y1="1256.7" y2="1284.7" stroke="#333" stroke-opacity="0.8" stroke-width="0.75"/><rect x="1297.93" y="1260.17" width="9.31" height="123.10" fill="#7f7f7f"/><line x1="1302.59" x2="1302.59" y1="1253.1" y2="1267.8" stroke="#333" stroke-opacity="0.8" stroke-width="0.75"/><rect x="1309.31" y="1378.10" width="9.31" height="5.17" fill="#008000"/><line x1="1313.97" x2="1313.97" y1="1374.3" y2="1381.2" stroke="#333" stroke-opacity="0.8" stroke-width="0.75"/><rect x="1320.86" y="1222.59" width="9.31" height="160.69" fill="#d62728"/><line x1="1325.52" x2="1325.52" y1="1220.9" y2="1224.3" stroke="#333" stroke-opacity="0.8" stroke-width="0.75"/><rect x="1332.24" y="1227.07" width="9.48" height="156.21" fill="#1f77b4"/><line x1="1336.98" x2="1336.98" y1="1199.3" y2="1254.5" stroke="#333" stroke-opacity="0.8" stroke-width="0.75"/><rect x="1343.62" y="1366.21" width="9.48" height="17.07" fill="#008000"/><rect x="1343.62" y="1366.21" width="9.48" height="17.07" fill="url(#hx)" stroke="#000" stroke-opacity="0.45" stroke-width="0.6"/><line x1="1348.36" x2="1348.36" y1="1357.1" y2="1375.2" stroke="#333" stroke-opacity="0.8" stroke-width="0.75"/><rect x="1355.17" y="1194.66" width="9.31" height="188.62" fill="#d62728"/><rect x="1355.17" y="1194.66" width="9.31" height="188.62" fill="url(#hx)" stroke="#000" stroke-opacity="0.45" stroke-width="0.6"/><line x1="1359.83" x2="1359.83" y1="1193.6" y2="1195.7" stroke="#333" stroke-opacity="0.8" stroke-width="0.75"/><rect x="1366.55" y="1195.17" width="9.48" height="188.10" fill="#1f77b4"/><rect x="1366.55" y="1195.17" width="9.48" height="188.10" fill="url(#hx)" stroke="#000" stroke-opacity="0.45" stroke-width="0.6"/><line x1="1371.29" x2="1371.29" y1="1189.8" y2="1200.5" stroke="#333" stroke-opacity="0.8" stroke-width="0.75"/><line x1="1257.9" x2="1376.9" y1="1239.5" y2="1239.5" stroke="#e26a6a" stroke-width="0.8" stroke-dasharray="1.6 1"/><rect x="1419.1" y="1170.3" width="131.4" height="209.5" fill="#eaeaf2"/><line x1="1419.1" x2="1550.5" y1="1178.1" y2="1178.1" stroke="#f6f6fa" stroke-width="0.8"/><text x="1415.2" y="1181.3" text-anchor="end" style="font-family:'Liberation Sans',sans-serif;font-size:9.1px;fill:#555">500</text><line x1="1419.1" x2="1550.5" y1="1212.2" y2="1212.2" stroke="#f6f6fa" stroke-width="0.8"/><text x="1415.2" y="1215.4" text-anchor="end" style="font-family:'Liberation Sans',sans-serif;font-size:9.1px;fill:#555">450</text><line x1="1419.1" x2="1550.5" y1="1246.4" y2="1246.4" stroke="#f6f6fa" stroke-width="0.8"/><text x="1415.2" y="1249.6" text-anchor="end" style="font-family:'Liberation Sans',sans-serif;font-size:9.1px;fill:#555">400</text><line x1="1419.1" x2="1550.5" y1="1280.7" y2="1280.7" stroke="#f6f6fa" stroke-width="0.8"/><text x="1415.2" y="1283.9" text-anchor="end" style="font-family:'Liberation Sans',sans-serif;font-size:9.1px;fill:#555">350</text><line x1="1419.1" x2="1550.5" y1="1314.8" y2="1314.8" stroke="#f6f6fa" stroke-width="0.8"/><text x="1415.2" y="1318.0" text-anchor="end" style="font-family:'Liberation Sans',sans-serif;font-size:9.1px;fill:#555">300</text><line x1="1419.1" x2="1550.5" y1="1349.0" y2="1349.0" stroke="#f6f6fa" stroke-width="0.8"/><text x="1415.2" y="1352.2" text-anchor="end" style="font-family:'Liberation Sans',sans-serif;font-size:9.1px;fill:#555">250</text><text x="1484.6" y="1167.8" text-anchor="middle" style="font-family:'Liberation Sans',sans-serif;font-size:12.2px;fill:#3a3a3a">carla-lane-v0</text><text transform="translate(1397.8,1276.0) rotate(-90)" text-anchor="middle" style="font-family:'Liberation Sans',sans-serif;font-size:12px;fill:#3a3a3a">Return</text><rect x="1424.31" y="1297.41" width="14.48" height="82.41" fill="#5bbacf"/><line x1="1431.55" x2="1431.55" y1="1297.1" y2="1297.8" stroke="#333" stroke-opacity="0.8" stroke-width="0.75"/><rect x="1442.07" y="1282.07" width="14.48" height="97.76" fill="#ee883a"/><line x1="1449.31" x2="1449.31" y1="1261.0" y2="1302.8" stroke="#333" stroke-opacity="0.8" stroke-width="0.75"/><rect x="1459.66" y="1316.21" width="14.48" height="63.62" fill="#7b1a82"/><line x1="1466.90" x2="1466.90" y1="1288.1" y2="1345.0" stroke="#333" stroke-opacity="0.8" stroke-width="0.75"/><rect x="1477.41" y="1296.21" width="14.48" height="83.62" fill="#3a8223"/><line x1="1484.66" x2="1484.66" y1="1286.0" y2="1306.2" stroke="#333" stroke-opacity="0.8" stroke-width="0.75"/><rect x="1495.17" y="1274.83" width="14.31" height="105.00" fill="#3b76b4"/><line x1="1502.33" x2="1502.33" y1="1253.3" y2="1295.9" stroke="#333" stroke-opacity="0.8" stroke-width="0.75"/><rect x="1512.93" y="1253.10" width="14.31" height="126.72" fill="#3a8223"/><rect x="1512.93" y="1253.10" width="14.31" height="126.72" fill="url(#hx2)" stroke="#000" stroke-opacity="0.45" stroke-width="0.6"/><line x1="1520.09" x2="1520.09" y1="1251.0" y2="1255.3" stroke="#333" stroke-opacity="0.8" stroke-width="0.75"/><rect x="1530.69" y="1218.10" width="14.14" height="161.72" fill="#3b76b4"/><rect x="1530.69" y="1218.10" width="14.14" height="161.72" fill="url(#hx2)" stroke="#000" stroke-opacity="0.45" stroke-width="0.6"/><line x1="1537.76" x2="1537.76" y1="1194.1" y2="1241.6" stroke="#333" stroke-opacity="0.8" stroke-width="0.75"/></svg>
<svg style="position:absolute;left:0px;top:0px;overflow:visible;" width="2500" height="1421"><defs>
<filter id="mar" x="0" y="0" width="100%" height="100%"><feTurbulence type="fractalNoise" baseFrequency="0.006 0.009" numOctaves="4" seed="7" result="n"/><feColorMatrix in="n" type="matrix" values="0 0 0 0 0.42  0 0 0 0 0.58  0 0 0 0 0.66  0 0 0 -3.2 1.85"/></filter>
<filter id="b3"><feGaussianBlur stdDeviation="3"/></filter><filter id="b8"><feGaussianBlur stdDeviation="8"/></filter><filter id="b14"><feGaussianBlur stdDeviation="14"/></filter>
<linearGradient id="tanv" x1="0" x2="1" y1="0" y2="1"><stop offset="0" stop-color="#e8be90"/><stop offset="1" stop-color="#b98656"/></linearGradient>
<radialGradient id="tanr" cx="0.4" cy="0.35" r="0.7"><stop offset="0" stop-color="#f0cfa3"/><stop offset="0.6" stop-color="#d5a572"/><stop offset="1" stop-color="#a87a4c"/></radialGradient>
<radialGradient id="navy" cx="0.4" cy="0.35" r="0.7"><stop offset="0" stop-color="#3346a0"/><stop offset="1" stop-color="#141c52"/></radialGradient>
<radialGradient id="grn" cx="0.45" cy="0.6" r="0.6"><stop offset="0" stop-color="#c9f2d2"/><stop offset="1" stop-color="#86c596"/></radialGradient>
<linearGradient id="wood" x1="0" x2="1" y1="0" y2="0"><stop offset="0" stop-color="#b4520f"/><stop offset="0.7" stop-color="#a5460d"/><stop offset="1" stop-color="#74290a"/></linearGradient>
<linearGradient id="redc" x1="0" x2="1" y1="0" y2="0"><stop offset="0" stop-color="#5f0606"/><stop offset="0.45" stop-color="#9c1111"/><stop offset="1" stop-color="#5a0505"/></linearGradient>
<linearGradient id="sky" x1="0" x2="0" y1="0" y2="1"><stop offset="0" stop-color="#2b3c6c"/><stop offset="0.6" stop-color="#48628f"/><stop offset="1" stop-color="#7d9bb8"/></linearGradient>
<linearGradient id="road" x1="0" x2="0" y1="0" y2="1"><stop offset="0" stop-color="#a39f90"/><stop offset="1" stop-color="#b3af9f"/></linearGradient>
<pattern id="chk" width="90" height="60" patternUnits="userSpaceOnUse" patternTransform="skewX(-35)"><rect width="90" height="60" fill="#142c49"/><rect width="45" height="30" fill="#1f4068"/><rect x="45" y="30" width="45" height="30" fill="#1f4068"/></pattern>
<filter id="grain" x="0" y="0" width="100%" height="100%"><feTurbulence type="fractalNoise" baseFrequency="0.9" numOctaves="2" seed="3"/><feColorMatrix type="matrix" values="0 0 0 0 0.5 0 0 0 0 0.5 0 0 0 0 0.5 0 0 0 0.9 -0.25"/></filter>
<filter id="mar2" x="0" y="0" width="100%" height="100%"><feTurbulence type="fractalNoise" baseFrequency="0.0035 0.005" numOctaves="4" seed="11" result="n"/><feColorMatrix in="n" type="matrix" values="0 0 0 0 0.42  0 0 0 0 0.55  0 0 0 0 0.62  0 0 0 -5 2.85"/></filter>
<filter id="b20" x="-50%" y="-50%" width="200%" height="200%"><feGaussianBlur stdDeviation="20"/></filter><filter id="b40" x="-100%" y="-100%" width="300%" height="300%"><feGaussianBlur stdDeviation="40"/></filter>
<radialGradient id="grnA" cx="0.45" cy="0.3" r="0.75"><stop offset="0" stop-color="#a5d3ae"/><stop offset="1" stop-color="#7fb78c"/></radialGradient>
<radialGradient id="grnB" cx="0.48" cy="0.72" r="0.65"><stop offset="0" stop-color="#e2ffe9"/><stop offset="0.35" stop-color="#a9e0b4"/><stop offset="1" stop-color="#9fd0ab"/></radialGradient><pattern id="chk4" width="190" height="120" patternUnits="userSpaceOnUse" patternTransform="translate(40,1090) skewX(-38)"><rect width="190" height="120" fill="#17314f"/><rect width="95" height="60" fill="#274c79"/><rect x="95" y="60" width="95" height="60" fill="#274c79"/></pattern></defs><clipPath id="pc1"><rect x="0" y="0" width="1648" height="1421"/></clipPath><g transform="translate(833,375) scale(0.13228)"><g clip-path="url(#pc1)"><rect width="1648" height="1421" fill="#000"/><clipPath id="q1"><polygon points="0,352 1095,205 1648,570 1648,1421 0,1421"/></clipPath><polygon points="0,352 1095,205 1648,570 1648,1421 0,1421" fill="#b7c9ce"/><g clip-path="url(#q1)"><rect width="1648" height="1421" filter="url(#mar2)"/><g fill="none" stroke="#7f99a3" stroke-opacity="0.42" stroke-width="24" filter="url(#b8)"><path d="M0 520C200 470 420 560 640 500S900 380 1100 420"/><path d="M60 820C260 760 380 900 560 840"/><path d="M400 380C520 460 600 620 560 760"/><path d="M0 1100C160 1040 300 1160 420 1290"/><path d="M1150 700C1250 760 1400 720 1648 800"/><path d="M700 330C820 360 900 300 1000 330"/></g><ellipse cx="950" cy="1330" rx="620" ry="200" fill="#e3ecee" fill-opacity="0.6" filter="url(#b40)"/><path d="M1370 760L1440 725L1560 770L1648 740V990L1450 1000L1330 990L1210 1010L1160 1060L1090 1130L1050 1180L1060 1080L1110 960L1170 870L1290 830Z" fill="#41464a" filter="url(#b8)"/><ellipse cx="360" cy="710" rx="112" ry="50" fill="#3c4144" filter="url(#b8)"/><path d="M540 1180L640 1150L700 1180L680 1260L560 1230Z" fill="#3f4447" filter="url(#b20)"/><path d="M740 1290L900 1190L1000 1190L880 1300L760 1330Z" fill="#555b5e" filter="url(#b20)"/><path d="M500 1180L1000 1250L980 1400L520 1380Z" fill="#dfe9eb" fill-opacity="0.45" filter="url(#b20)"/><circle cx="1300" cy="1120" r="190" fill="#e6ecea" fill-opacity="0.38"/><circle cx="1150" cy="1225" r="60" fill="#fff" filter="url(#b40)"/></g><circle cx="253" cy="425" r="108" fill="url(#grnA)"/><circle cx="300" cy="905" r="100" fill="url(#grnB)"/><circle cx="755" cy="1040" r="125" fill="url(#navy)"/><path d="M985 790L1000 900L1010 1050L1015 1170" fill="none" stroke="#b98a5c" stroke-width="74" stroke-linecap="round" stroke-linejoin="round"/><path d="M985 790L1000 900L1010 1050L1015 1170" fill="none" stroke="#dcae7d" stroke-width="62" stroke-linecap="round" stroke-linejoin="round"/><path d="M985 790L1000 900L1010 1050L1015 1170" fill="none" stroke="#f0cda2" stroke-opacity="0.55" stroke-width="18" stroke-linecap="round" stroke-linejoin="round" transform="translate(-6,-2)"/><linearGradient id="btl" gradientUnits="userSpaceOnUse" x1="1150" y1="300" x2="1420" y2="540"><stop offset="0" stop-color="#b08154"/><stop offset="0.3" stop-color="#e4b687"/><stop offset="0.62" stop-color="#dbab7b"/><stop offset="1" stop-color="#b5865a"/></linearGradient><path d="M985 590Q990 530 1070 430L1330 150Q1400 110 1500 160Q1580 240 1590 350Q1590 395 1560 420L1240 640Q1160 665 1100 640Q1070 620 1040 585Z" fill="url(#btl)"/><path d="M1330 150Q1400 110 1500 160Q1580 240 1590 350Q1590 395 1560 420Q1540 250 1330 150Z" fill="#d3a272"/><g stroke="#8a6542" stroke-width="7" stroke-opacity="0.7" fill="none"><path d="M1190 320L1330 200"/><path d="M1310 440L1460 320"/></g><ellipse cx="1000" cy="628" rx="72" ry="42" fill="none" stroke="#c1915f" stroke-width="24" transform="rotate(-8 1000 628)"/><circle cx="1012" cy="600" r="38" fill="#d2a373"/><path d="M600 810L850 885L890 870V896L850 912L600 836Z" fill="#ad7f54"/><path d="M835 620L1075 690L1060 740L890 870L850 885L600 810L620 790Z" fill="#dbac7b"/><path d="M835 620L1075 690L1060 720L830 650Z" fill="#e8bf92"/><path d="M700 800V850M760 820V865" stroke="#a87c52" stroke-width="6"/><path d="M610 830L485 935L472 1050L505 1150" fill="none" stroke="#b98a5c" stroke-width="70" stroke-linecap="round" stroke-linejoin="round"/><path d="M610 830L485 935L472 1050L505 1150" fill="none" stroke="#dcae7d" stroke-width="58" stroke-linecap="round" stroke-linejoin="round"/><path d="M610 830L485 935L472 1050L505 1150" fill="none" stroke="#f0cda2" stroke-opacity="0.55" stroke-width="18" stroke-linecap="round" stroke-linejoin="round" transform="translate(-6,-2)"/><path d="M690 852L572 965L530 1090L520 1160" fill="none" stroke="#b98a5c" stroke-width="64" stroke-linecap="round" stroke-linejoin="round"/><path d="M690 852L572 965L530 1090L520 1160" fill="none" stroke="#dcae7d" stroke-width="52" stroke-linecap="round" stroke-linejoin="round"/><path d="M690 852L572 965L530 1090L520 1160" fill="none" stroke="#f0cda2" stroke-opacity="0.55" stroke-width="16" stroke-linecap="round" stroke-linejoin="round" transform="translate(-6,-2)"/><path d="M800 885L772 1000L742 1150L727 1270" fill="none" stroke="#b98a5c" stroke-width="74" stroke-linecap="round" stroke-linejoin="round"/><path d="M800 885L772 1000L742 1150L727 1270" fill="none" stroke="#dcae7d" stroke-width="62" stroke-linecap="round" stroke-linejoin="round"/><path d="M800 885L772 1000L742 1150L727 1270" fill="none" stroke="#f0cda2" stroke-opacity="0.55" stroke-width="18" stroke-linecap="round" stroke-linejoin="round" transform="translate(-6,-2)"/></g></g><clipPath id="pc2"><rect x="0" y="0" width="1633" height="1421"/></clipPath><g transform="translate(1051,375) scale(0.13228)"><g clip-path="url(#pc2)"><rect width="1633" height="1421" fill="#000"/><clipPath id="q2"><polygon points="0,950 120,840 1633,976 1633,1421 0,1421"/></clipPath><polygon points="0,950 120,840 1633,976 1633,1421 0,1421" fill="#bcc9cc"/><g clip-path="url(#q2)"><rect width="1633" height="1421" filter="url(#mar2)"/><g fill="none" stroke="#7f99a3" stroke-opacity="0.42" stroke-width="24" filter="url(#b8)"><path d="M0 1080C200 1000 300 950 480 930"/><path d="M200 1000C400 1100 600 1000 900 1060"/><path d="M100 1300C300 1240 500 1340 760 1280"/></g><path d="M1370 960L1633 976V1421H1150L1220 1330L1400 1230L1350 1100Z" fill="#3d4245" filter="url(#b8)"/><ellipse cx="900" cy="1332" rx="88" ry="50" fill="#3e4346" transform="rotate(18 900 1332)" filter="url(#b8)"/><path d="M1400 1230L1520 1200L1560 1260L1470 1300Z" fill="#c5d0d2" filter="url(#b8)"/></g><linearGradient id="gp" gradientUnits="userSpaceOnUse" x1="380" y1="690" x2="470" y2="625"><stop offset="0" stop-color="#3a3c3e"/><stop offset="0.6" stop-color="#4b4d4f"/><stop offset="1" stop-color="#646668"/></linearGradient><path d="M275 448L570 850" stroke="url(#gp)" stroke-width="96"/><ellipse cx="275" cy="448" rx="49" ry="20" fill="#1cb860" transform="rotate(-33 275 448)"/><path d="M455 640L490 615L620 800L632 842L555 897L520 882L440 780L500 742L497 700Z" fill="#17a556"/><path d="M490 615L620 800L632 842L600 820L470 640Z" fill="#22c56b"/><radialGradient id="knob" gradientUnits="userSpaceOnUse" cx="1275" cy="590" r="330"><stop offset="0" stop-color="#f6dcae"/><stop offset="0.25" stop-color="#dcae7a"/><stop offset="0.7" stop-color="#c0905e"/><stop offset="1" stop-color="#9e7248"/></radialGradient><path d="M1150 420Q1180 330 1300 320Q1430 330 1465 430Q1485 540 1440 620Q1390 700 1290 715Q1190 720 1140 660Q1105 580 1150 420Z" fill="url(#knob)"/><ellipse cx="1225" cy="722" rx="82" ry="30" fill="none" stroke="#d2a06a" stroke-width="20"/><path d="M1090 730L1360 760L1365 1050L1330 1100L1200 1000L1080 850Z" fill="#d1a06c"/><path d="M1200 800L1300 770L1358 850L1280 930L1180 900Z" fill="#f7e4b8"/><path d="M1120 845L845 868" fill="none" stroke="#b98a5c" stroke-width="92" stroke-linecap="round" stroke-linejoin="round"/><path d="M1120 845L845 868" fill="none" stroke="#dcae7d" stroke-width="80" stroke-linecap="round" stroke-linejoin="round"/><path d="M1120 845L845 868" fill="none" stroke="#f0cda2" stroke-opacity="0.55" stroke-width="23" stroke-linecap="round" stroke-linejoin="round" transform="translate(-6,-2)"/><linearGradient id="bp" gradientUnits="userSpaceOnUse" x1="990" y1="950" x2="1050" y2="880"><stop offset="0" stop-color="#595c5e"/><stop offset="1" stop-color="#85888a"/></linearGradient><path d="M845 755L1190 1080" stroke="url(#bp)" stroke-width="90"/><ellipse cx="845" cy="755" rx="46" ry="22" fill="#1467dd" transform="rotate(-36 845 755)"/><path d="M1060 885L1100 870L1180 960L1150 1000L1250 1075L1190 1130L1120 1110L1085 1060L1120 1010Z" fill="#155fd0"/><path d="M1180 985L1320 1045" fill="none" stroke="#b98a5c" stroke-width="74" stroke-linecap="round" stroke-linejoin="round"/><path d="M1180 985L1320 1045" fill="none" stroke="#dcae7d" stroke-width="62" stroke-linecap="round" stroke-linejoin="round"/><path d="M1180 985L1320 1045" fill="none" stroke="#f0cda2" stroke-opacity="0.55" stroke-width="18" stroke-linecap="round" stroke-linejoin="round" transform="translate(-6,-2)"/><path d="M1055 1010L1012 1125" fill="none" stroke="#b98a5c" stroke-width="80" stroke-linecap="round" stroke-linejoin="round"/><path d="M1055 1010L1012 1125" fill="none" stroke="#dcae7d" stroke-width="68" stroke-linecap="round" stroke-linejoin="round"/><path d="M1055 1010L1012 1125" fill="none" stroke="#f0cda2" stroke-opacity="0.55" stroke-width="20" stroke-linecap="round" stroke-linejoin="round" transform="translate(-6,-2)"/><path d="M1150 1120L1165 1255" fill="none" stroke="#b98a5c" stroke-width="72" stroke-linecap="round" stroke-linejoin="round"/><path d="M1150 1120L1165 1255" fill="none" stroke="#dcae7d" stroke-width="60" stroke-linecap="round" stroke-linejoin="round"/><path d="M1150 1120L1165 1255" fill="none" stroke="#f0cda2" stroke-opacity="0.55" stroke-width="18" stroke-linecap="round" stroke-linejoin="round" transform="translate(-6,-2)"/><path d="M1225 1100L1235 1195" fill="none" stroke="#b98a5c" stroke-width="66" stroke-linecap="round" stroke-linejoin="round"/><path d="M1225 1100L1235 1195" fill="none" stroke="#dcae7d" stroke-width="54" stroke-linecap="round" stroke-linejoin="round"/><path d="M1225 1100L1235 1195" fill="none" stroke="#f0cda2" stroke-opacity="0.55" stroke-width="16" stroke-linecap="round" stroke-linejoin="round" transform="translate(-6,-2)"/></g></g><clipPath id="pc3"><rect x="0" y="0" width="1481" height="1421"/></clipPath><g transform="translate(1264,375) scale(0.13235)"><g clip-path="url(#pc3)"><rect width="1481" height="1421" fill="#000"/><clipPath id="q3"><polygon points="15,35 1481,345 1481,1421 15,1421"/></clipPath><polygon points="15,35 1481,345 1481,1421 15,1421" fill="#c4d3d7"/><g clip-path="url(#q3)"><rect width="1481" height="1421" filter="url(#mar2)"/><g fill="none" stroke="#6f98a8" stroke-opacity="0.42" stroke-width="24" filter="url(#b8)"><path d="M20 200C200 260 320 180 520 260S800 300 980 420"/><path d="M30 560C160 520 220 640 200 800S100 1000 40 1080"/><path d="M700 700C820 760 900 900 1100 880S1300 960 1481 900"/><path d="M200 1250C320 1180 300 1330 140 1400"/><path d="M760 330C900 420 1100 380 1300 440"/><path d="M640 1050C760 1000 820 1100 800 1200"/></g><path d="M325 1000L705 985L730 1140L340 1170Z" fill="#3f5058" fill-opacity="0.9"/><path d="M355 1115L700 1100L715 1275L390 1300Z" fill="#b28b6c" fill-opacity="0.92"/><ellipse cx="520" cy="1205" rx="85" ry="40" fill="#7a5238"/><rect x="528" y="1185" width="30" height="55" fill="#3f4a50"/><path d="M840 1270L1250 1300L1300 1421H720Z" fill="#dbe3e4" fill-opacity="0.5" filter="url(#b20)"/><ellipse cx="545" cy="1305" rx="75" ry="40" fill="#fff" filter="url(#b8)"/><path d="M880 1090L960 1010L1010 1000L1060 1040L1120 1020L1160 1060L1200 1120L1280 1170L1300 1210L1400 1180L1481 1190V1330L1380 1300L1250 1260L1100 1250L960 1230L880 1180Z" fill="#3f4346" filter="url(#b8)"/><path d="M850 1250L640 1421" stroke="#484c4f" stroke-width="26"/></g><linearGradient id="brd" x1="0" x2="1" y1="0" y2="1"><stop offset="0" stop-color="#8c340b"/><stop offset="1" stop-color="#6a2206"/></linearGradient><path d="M200 322L655 300L670 640L262 662Z" fill="url(#brd)"/><path d="M200 322L655 300L656 336L203 358Z" fill="#c4540f"/><rect x="425" y="490" width="46" height="80" rx="8" fill="#6d6d6d"/><ellipse cx="448" cy="615" rx="98" ry="70" fill="#8d8d8d"/><ellipse cx="448" cy="608" rx="82" ry="55" fill="#9a9a9a"/><path d="M520 865L850 650" stroke="#bdbdbd" stroke-width="26"/><path d="M520 863L850 648" stroke="#f4f4f4" stroke-width="16"/><linearGradient id="hh" gradientUnits="userSpaceOnUse" x1="520" y1="850" x2="430" y2="940"><stop offset="0" stop-color="#636363"/><stop offset="1" stop-color="#3b3b3b"/></linearGradient><path d="M395 820L545 965" stroke="url(#hh)" stroke-width="126"/><ellipse cx="395" cy="820" rx="28" ry="63" fill="#555" transform="rotate(44 395 820)"/><ellipse cx="545" cy="965" rx="28" ry="63" fill="#2f2f2f" transform="rotate(44 545 965)"/><radialGradient id="grp" cx="0.4" cy="0.35" r="0.7"><stop offset="0" stop-color="#c9500f"/><stop offset="1" stop-color="#7c2707"/></radialGradient><path d="M885 625L1030 560" stroke="#8a2c08" stroke-width="105" stroke-linecap="round"/><ellipse cx="890" cy="625" rx="70" ry="56" fill="url(#grp)" transform="rotate(-20 890 625)"/><path d="M860 690L1060 610L1095 645L935 738L880 722Z" fill="#c99a68"/><path d="M880 700L1060 625" stroke="#e0b482" stroke-width="18" stroke-linecap="round"/><path d="M880 430L1030 378L1250 520L1200 610L1160 680L1080 620L940 480Z" fill="#dfb17f"/><path d="M1030 378L1250 520L1235 545L1015 400Z" fill="#eecaa0"/><path d="M830 470L890 430L955 485L885 565L832 542Z" fill="#d2a270"/><path d="M835 500L900 455M850 530L915 480" stroke="#a97d52" stroke-width="9"/><path d="M985 405L1035 440M940 425L990 460M1010 470L1060 505" stroke="#9a6f47" stroke-width="9" stroke-linecap="round"/><ellipse cx="1235" cy="642" rx="52" ry="34" fill="none" stroke="#c99a68" stroke-width="17"/><linearGradient id="fa3" gradientUnits="userSpaceOnUse" x1="1300" y1="820" x2="1440" y2="560"><stop offset="0" stop-color="#b98a5c"/><stop offset="0.5" stop-color="#f1d1a5"/><stop offset="1" stop-color="#cf9f6d"/></linearGradient><path d="M1278 640Q1290 600 1335 590L1420 570L1481 560V870L1440 860Q1360 800 1312 705Z" fill="url(#fa3)"/></g></g><clipPath id="pc4"><rect x="0" y="0" width="1587" height="1421"/></clipPath><g transform="translate(1458,375) scale(0.13233)"><g clip-path="url(#pc4)"><rect width="1587" height="1421" fill="#000"/><rect x="0" y="1090" width="1587" height="331" fill="url(#chk4)"/><rect x="0" y="1090" width="1587" height="120" fill="#000" fill-opacity="0.35"/><path d="M185 1080L265 1110L290 1421H215Z" fill="#6b6b6b"/><path d="M1385 1100L1480 1050L1460 1421H1370Z" fill="#6b6b6b"/><path d="M720 1350L770 1370V1421H725Z" fill="#626262"/><clipPath id="q4"><polygon points="55,975 500,750 1587,905 1587,960 1130,1421 900,1421 60,1010"/></clipPath><polygon points="55,975 500,750 1587,905 1587,960 1130,1421 900,1421 60,1010" fill="#c5d1d4"/><g clip-path="url(#q4)"><rect width="1587" height="1421" filter="url(#mar2)"/><g fill="none" stroke="#6f98a8" stroke-opacity="0.42" stroke-width="24" filter="url(#b8)"><path d="M700 900C820 940 900 1060 1040 1040S1300 1100 1400 1040"/><path d="M1250 880C1350 930 1450 900 1560 960"/><path d="M820 1100C900 1180 1000 1150 1080 1230"/></g><path d="M560 1180L1060 1170L1160 1300L1050 1421H900L620 1260Z" fill="#ecc4ab" fill-opacity="0.85" filter="url(#b20)"/><path d="M570 950H650L655 1100H580Z" fill="#e3a08c" fill-opacity="0.75" filter="url(#b8)"/><path d="M1120 1180H1220L1200 1330L1130 1380Z" fill="#e6a996" fill-opacity="0.8" filter="url(#b8)"/><path d="M190 955L300 925L1100 965L1160 1000L1100 1030L520 1010L260 985Z" fill="#4a5154" filter="url(#b8)"/><path d="M400 1060L550 1050L540 1110L440 1140Z" fill="#2f3436" filter="url(#b8)"/><path d="M400 790L500 760V800L420 820Z" fill="#3a4043" filter="url(#b8)"/></g><path d="M55 975L60 1010L900 1421H835L55 1000Z" fill="#8e979b"/><path d="M1130 1421L1587 960V1000L1175 1421Z" fill="#a6aeb1"/><rect x="545" y="140" width="110" height="90" fill="#7d0a0a"/><ellipse cx="600" cy="140" rx="55" ry="12" fill="#8e0d0d"/><linearGradient id="rc4" x1="0" x2="1" y1="0" y2="0"><stop offset="0" stop-color="#5a0505"/><stop offset="0.45" stop-color="#930d0d"/><stop offset="1" stop-color="#600606"/></linearGradient><path d="M1185 238L1328 242L1268 862Q1205 885 1140 862Z" fill="url(#rc4)"/><ellipse cx="1257" cy="238" rx="72" ry="15" fill="#8a0b0b"/><linearGradient id="dr4" x1="0" x2="1" y1="0" y2="0"><stop offset="0" stop-color="#ae4f12"/><stop offset="0.75" stop-color="#9a400d"/><stop offset="0.92" stop-color="#86340a"/><stop offset="1" stop-color="#702a08"/></linearGradient><rect x="490" y="215" width="680" height="660" rx="42" fill="url(#dr4)"/><g stroke="#7f3209" stroke-opacity="0.45" stroke-width="5"><path d="M520 270H1080"/><path d="M557 308H1103"/><path d="M534 346H1126"/><path d="M571 384H1089"/><path d="M548 422H1112"/><path d="M525 460H1135"/><path d="M562 498H1098"/><path d="M539 536H1121"/><path d="M576 574H1084"/><path d="M553 612H1107"/><path d="M530 650H1130"/><path d="M567 688H1093"/><path d="M544 726H1116"/><path d="M521 764H1139"/><path d="M558 802H1102"/></g><path d="M500 232Q830 205 1160 232" stroke="#c2601c" stroke-width="14" fill="none" stroke-opacity="0.7"/><rect x="590" y="640" width="50" height="150" fill="#8b8b8b"/><circle cx="615" cy="610" r="70" fill="#9d9d9d"/><circle cx="615" cy="600" r="42" fill="#bcbcbc"/><rect x="602" y="620" width="26" height="150" fill="#a9a9a9"/><path d="M560 760L690 730L695 850L600 905L545 860Z" fill="#d9a877"/><path d="M600 770L660 755M590 800L680 780" stroke="#a87c52" stroke-width="9"/><linearGradient id="fa4" gradientUnits="userSpaceOnUse" x1="380" y1="880" x2="520" y2="1050"><stop offset="0" stop-color="#e6bb8b"/><stop offset="1" stop-color="#bb8b5c"/></linearGradient><path d="M525 855Q570 870 580 905L520 1040L400 1088L300 1000V920L420 868Z" fill="url(#fa4)"/><ellipse cx="345" cy="1000" rx="56" ry="88" fill="#cfa06c" transform="rotate(24 345 1000)"/></g></g><rect x="830" y="372" width="842" height="3.7" fill="#fff"/><rect x="830" y="561.9" width="842" height="3" fill="#fff"/><rect x="1666.9" y="372" width="4" height="193" fill="#fff"/><rect x="830" y="372" width="3.2" height="193" fill="#fff"/><rect x="1049.6" y="375.5" width="2.5" height="186" fill="#cfd3d5"/><rect x="1264.7" y="375.5" width="1.3" height="186" fill="#cfd3d5"/><rect x="1457.5" y="375.5" width="1.6" height="186" fill="#cfd3d5"/><clipPath id="pc5"><rect x="0" y="0" width="1723" height="1421"/></clipPath><g transform="translate(858,568) scale(0.13233)"><g clip-path="url(#pc5)"><rect width="1723" height="1421" fill="#fff"/><clipPath id="q5"><rect x="18" y="20" width="1680" height="1380"/></clipPath><g clip-path="url(#q5)"><linearGradient id="sk5" x1="0" x2="0" y1="0" y2="1"><stop offset="0" stop-color="#2e4172"/><stop offset="0.5" stop-color="#3d588c"/><stop offset="0.85" stop-color="#6f8fb1"/><stop offset="1" stop-color="#a3b7c6"/></linearGradient><rect x="0" y="0" width="1723" height="640" fill="url(#sk5)"/><linearGradient id="hl5" x1="0" x2="0" y1="0" y2="1"><stop offset="0" stop-color="#d6d1b4"/><stop offset="0.25" stop-color="#b1ad96"/><stop offset="1" stop-color="#9f9d8c"/></linearGradient><path d="M18 560L80 590L150 560L400 565L560 545L700 525L800 525L900 570L1000 600L1200 620L1698 570V800H18Z" fill="url(#hl5)"/><path d="M1000 640L1698 570V790L1200 725Z" fill="#93a182"/><g fill="#7e9472" fill-opacity="0.8"><ellipse cx="580" cy="670" rx="45" ry="30"/><ellipse cx="470" cy="640" rx="22" ry="16"/><ellipse cx="750" cy="680" rx="18" ry="26"/><ellipse cx="230" cy="615" rx="30" ry="14"/><ellipse cx="350" cy="650" rx="20" ry="12"/></g><path d="M85 345L150.0 605H20.0Z" fill="#3b5138"/><path d="M85 345L126.6 488.0L100.6 475.0L150.0 605H85Z" fill="#6b8762" fill-opacity="0.85"/><path d="M40 300L80.0 600H0.0Z" fill="#3b5138"/><path d="M40 300L65.6 465.0L49.6 450.0L80.0 600H40Z" fill="#6b8762" fill-opacity="0.85"/><path d="M1290 500L1345.0 690H1235.0Z" fill="#3b5138"/><path d="M1290 500L1325.2 604.5L1303.2 595.0L1345.0 690H1290Z" fill="#6b8762" fill-opacity="0.85"/><path d="M1210 545L1247.5 670H1172.5Z" fill="#3b5138"/><path d="M1210 545L1234.0 613.75L1219.0 607.5L1247.5 670H1210Z" fill="#6b8762" fill-opacity="0.85"/><path d="M1420 455L1477.5 650H1362.5Z" fill="#3b5138"/><path d="M1420 455L1456.8 562.25L1433.8 552.5L1477.5 650H1420Z" fill="#6b8762" fill-opacity="0.85"/><path d="M1520 345L1610.0 645H1430.0Z" fill="#3b5138"/><path d="M1520 345L1577.6 510.0L1541.6 495.0L1610.0 645H1520Z" fill="#6b8762" fill-opacity="0.85"/><path d="M1690 290L1745.0 550H1635.0Z" fill="#3b5138"/><path d="M1690 290L1725.2 433.0L1703.2 420.0L1745.0 550H1690Z" fill="#6b8762" fill-opacity="0.85"/><path d="M1110 585L1140.0 675H1080.0Z" fill="#3b5138"/><path d="M1110 585L1129.2 634.5L1117.2 630.0L1140.0 675H1110Z" fill="#6b8762" fill-opacity="0.85"/><path d="M1050 600L1075.0 670H1025.0Z" fill="#3b5138"/><path d="M1050 600L1066.0 638.5L1056.0 635.0L1075.0 670H1050Z" fill="#6b8762" fill-opacity="0.85"/><linearGradient id="rd5" x1="0" x2="0" y1="0" y2="1"><stop offset="0" stop-color="#a5a399"/><stop offset="1" stop-color="#b6b4a9"/></linearGradient><path d="M18 1000L560 760L820 730L1000 720L1698 785V1421H18Z" fill="url(#rd5)"/><path d="M18 760L560 735V760L18 1000Z" fill="#6b6b67"/><path d="M18 760L560 735V747L18 805Z" fill="#8f8f87"/><path d="M18 905L560 752V760L18 1000Z" fill="#858379"/><path d="M120 1400H168L512 1050H482Z" fill="#d7d2b8"/><path d="M1410 1255H1446L1592 1400H1546Z" fill="#dcd7bd"/><path d="M1008 860H1022L1052 905H1036Z" fill="#c9c5ae"/><path d="M1590 940L1698 985V1000L1590 950Z" fill="#c6c2ac"/><path d="M1000 790L1185 780L1180 815L1010 826Z" fill="#4a3b3a"/><path d="M990 660L1185 655L1190 790L1000 800Z" fill="#9d2d2b"/><path d="M990 660L1185 655L1186 690L992 696Z" fill="#b23c38"/><path d="M985 690L1008 668V800L985 790Z" fill="#c9b3ab"/><path d="M643 620L340 1150H945Z" fill="none" stroke="#0b0b0b" stroke-width="8.5"/><circle cx="643" cy="975" r="205" fill="none" stroke="#0b0b0b" stroke-width="27" stroke-dasharray="395 32" stroke-dashoffset="-18" transform="rotate(-90 643 975)"/><rect x="638" y="750" width="10" height="38" fill="#0b0b0b"/><circle cx="643" cy="975" r="148" fill="none" stroke="#0b0b0b" stroke-width="7"/><path d="M722 933A89 89 0 1 0 722 1017" fill="none" stroke="#0b0b0b" stroke-width="62"/><path d="M420 1262H354Q344 1262 344 1272V1308Q344 1318 354 1318H420M471 1330V1272Q471 1262 481 1262H549Q559 1262 559 1272V1330M471 1300H559M611 1330V1262H672Q682 1262 682 1272V1290Q682 1300 672 1300H611M652 1300L684 1330M751 1250V1318H815M861 1330V1272Q861 1262 871 1262H931Q941 1262 941 1272V1330M861 1300H941" fill="none" stroke="#0b0b0b" stroke-width="29" stroke-linejoin="miter"/><rect width="1723" height="1421" filter="url(#grain)" opacity="0.18"/></g></g></g><clipPath id="pc6"><rect x="0" y="0" width="1915" height="1421"/></clipPath><g transform="translate(1088,567) scale(0.13369)"><g clip-path="url(#pc6)"><rect width="1915" height="1421" fill="#fff"/><clipPath id="q6"><rect x="25" y="18" width="1865" height="1392"/></clipPath><g clip-path="url(#q6)"><rect width="1915" height="1421" fill="#cdcdcd"/><rect width="1915" height="1421" filter="url(#grain)" opacity="0.3"/><path d="M25 745H120L255 1130L25 1410Z" fill="#9b9b9b"/><path d="M255 1130L670 1190L860 1250L960 1410H300Z" fill="#b5b5b5" fill-opacity="0.6"/><path d="M25 18H135L240 470L25 640Z" fill="#a9b3c7"/><path d="M25 130L130 20H25Z" fill="#e5e9f1"/><path d="M25 240L240 470L330 590L25 640Z" fill="#7f899b"/><path d="M1460 350L1890 470V1410L1850 930L1500 600L1380 420Z" fill="#a9a9a9"/><g stroke="#9a9a9a" stroke-width="3"><path d="M1400 330L1500 1410"/><path d="M1470 352L1580 1410"/><path d="M1540 374L1660 1410"/><path d="M1610 396L1740 1410"/><path d="M1680 418L1820 1410"/><path d="M1750 440L1900 1410"/><path d="M1820 462L1980 1410"/><path d="M1380 480L1890 560"/><path d="M1380 590L1890 690"/><path d="M1380 700L1890 820"/><path d="M1380 810L1890 950"/><path d="M1380 920L1890 1080"/><path d="M1380 1030L1890 1210"/><path d="M1380 1140L1890 1340"/></g><path d="M1570 18H1890V470L1460 350L1510 290Z" fill="#070707"/><circle cx="1732" cy="344" r="2.6" fill="#c9c9c9"/><circle cx="1482" cy="223" r="2.6" fill="#c9c9c9"/><circle cx="1866" cy="304" r="2.6" fill="#c9c9c9"/><circle cx="1848" cy="68" r="2.6" fill="#c9c9c9"/><circle cx="1667" cy="126" r="2.6" fill="#c9c9c9"/><circle cx="1698" cy="271" r="2.6" fill="#c9c9c9"/><circle cx="1476" cy="113" r="2.6" fill="#c9c9c9"/><circle cx="1792" cy="88" r="2.6" fill="#c9c9c9"/><circle cx="1805" cy="79" r="2.6" fill="#c9c9c9"/><circle cx="1729" cy="74" r="2.6" fill="#c9c9c9"/><circle cx="1558" cy="113" r="2.6" fill="#c9c9c9"/><circle cx="1883" cy="402" r="2.6" fill="#c9c9c9"/><circle cx="1696" cy="316" r="2.6" fill="#c9c9c9"/><circle cx="1845" cy="149" r="2.6" fill="#c9c9c9"/><circle cx="1622" cy="91" r="2.6" fill="#c9c9c9"/><circle cx="1531" cy="47" r="2.6" fill="#c9c9c9"/><circle cx="1597" cy="283" r="2.6" fill="#c9c9c9"/><circle cx="1612" cy="154" r="2.6" fill="#c9c9c9"/><circle cx="1814" cy="230" r="2.6" fill="#c9c9c9"/><circle cx="1603" cy="230" r="2.6" fill="#c9c9c9"/><circle cx="1766" cy="43" r="2.6" fill="#c9c9c9"/><circle cx="1880" cy="28" r="2.6" fill="#c9c9c9"/><circle cx="1785" cy="390" r="2.6" fill="#c9c9c9"/><circle cx="1624" cy="273" r="2.6" fill="#c9c9c9"/><circle cx="1474" cy="39" r="2.6" fill="#c9c9c9"/><circle cx="1860" cy="432" r="2.6" fill="#c9c9c9"/><circle cx="1615" cy="174" r="2.6" fill="#c9c9c9"/><circle cx="1690" cy="359" r="2.6" fill="#c9c9c9"/><circle cx="1805" cy="396" r="2.6" fill="#c9c9c9"/><circle cx="1508" cy="168" r="2.6" fill="#c9c9c9"/><circle cx="1699" cy="155" r="2.6" fill="#c9c9c9"/><circle cx="1603" cy="96" r="2.6" fill="#c9c9c9"/><circle cx="1503" cy="84" r="2.6" fill="#c9c9c9"/><circle cx="1538" cy="39" r="2.6" fill="#c9c9c9"/><circle cx="1884" cy="253" r="2.6" fill="#c9c9c9"/><circle cx="1640" cy="122" r="2.6" fill="#c9c9c9"/><circle cx="1719" cy="382" r="2.6" fill="#c9c9c9"/><circle cx="1661" cy="204" r="2.6" fill="#c9c9c9"/><circle cx="1484" cy="235" r="2.6" fill="#c9c9c9"/><circle cx="1822" cy="75" r="2.6" fill="#c9c9c9"/><circle cx="1735" cy="365" r="2.6" fill="#c9c9c9"/><circle cx="1515" cy="209" r="2.6" fill="#c9c9c9"/><circle cx="1594" cy="217" r="2.6" fill="#c9c9c9"/><circle cx="1890" cy="393" r="2.6" fill="#c9c9c9"/><circle cx="1880" cy="218" r="2.6" fill="#c9c9c9"/><circle cx="1675" cy="339" r="2.6" fill="#c9c9c9"/><circle cx="1671" cy="146" r="2.6" fill="#c9c9c9"/><circle cx="1640" cy="82" r="2.6" fill="#c9c9c9"/><circle cx="1873" cy="294" r="2.6" fill="#c9c9c9"/><circle cx="1680" cy="167" r="2.6" fill="#c9c9c9"/><circle cx="1507" cy="138" r="2.6" fill="#c9c9c9"/><circle cx="1798" cy="400" r="2.6" fill="#c9c9c9"/><circle cx="1795" cy="324" r="2.6" fill="#c9c9c9"/><circle cx="1749" cy="352" r="2.6" fill="#c9c9c9"/><circle cx="1623" cy="328" r="2.6" fill="#c9c9c9"/><circle cx="1588" cy="232" r="2.6" fill="#c9c9c9"/><circle cx="1793" cy="322" r="2.6" fill="#c9c9c9"/><circle cx="1743" cy="273" r="2.6" fill="#c9c9c9"/><circle cx="1475" cy="259" r="2.6" fill="#c9c9c9"/><circle cx="1575" cy="314" r="2.6" fill="#c9c9c9"/><circle cx="1742" cy="369" r="2.6" fill="#c9c9c9"/><circle cx="1616" cy="301" r="2.6" fill="#c9c9c9"/><circle cx="1780" cy="382" r="2.6" fill="#c9c9c9"/><circle cx="1835" cy="321" r="2.6" fill="#c9c9c9"/><circle cx="1880" cy="439" r="2.6" fill="#c9c9c9"/><circle cx="1688" cy="251" r="2.6" fill="#c9c9c9"/><path d="M240 470L620 420L700 570L330 600Z" fill="#cbd4e7"/><path d="M25 640L330 590L700 570L1390 440L1400 470L1220 590L700 650L120 745L30 700Z" fill="#eef0f4"/><path d="M30 700L120 745V860L30 800Z" fill="#2b2b2b"/><path d="M25 640L30 700V1410H25Z" fill="#555"/><path d="M620 420L1390 300V440L700 570Z" fill="#1f1f1f"/><circle cx="770" cy="490" r="38" fill="#8c8c8c"/><rect x="761" y="460" width="18" height="60" rx="6" fill="#a0a0a0"/><circle cx="782" cy="464" r="9" fill="#d41f1f"/><circle cx="870" cy="405" r="38" fill="#8c8c8c"/><rect x="861" y="375" width="18" height="60" rx="6" fill="#a0a0a0"/><circle cx="882" cy="379" r="9" fill="#d41f1f"/><circle cx="965" cy="395" r="38" fill="#8c8c8c"/><rect x="956" y="365" width="18" height="60" rx="6" fill="#a0a0a0"/><circle cx="977" cy="369" r="9" fill="#d41f1f"/><circle cx="870" cy="500" r="38" fill="#8c8c8c"/><rect x="861" y="470" width="18" height="60" rx="6" fill="#a0a0a0"/><circle cx="882" cy="474" r="9" fill="#d41f1f"/><circle cx="965" cy="490" r="38" fill="#8c8c8c"/><rect x="956" y="460" width="18" height="60" rx="6" fill="#a0a0a0"/><circle cx="977" cy="464" r="9" fill="#d41f1f"/><path d="M135 18H1570L1510 290L920 350L620 420L240 470Z" fill="#5b698c"/><path d="M900 18H1570L1510 290L920 350Z" fill="#4f5c7d"/><path d="M135 18L240 470L262 466L160 18Z" fill="#46526f"/><path d="M535 60L560 425" stroke="#4a5675" stroke-width="5"/><path d="M960 50H1260V320L960 335Z" fill="#3b4461"/><path d="M1080 50H1260V180L1100 310L960 335V300Z" fill="#2c3350" fill-opacity="0.9"/><path d="M960 240L1100 310L960 335Z" fill="#66759a"/><path d="M440 170L480 165L510 440L470 445Z" fill="#3e4864" fill-opacity="0.7"/><path d="M590 150L630 145L660 420L620 425Z" fill="#3e4864" fill-opacity="0.7"/><path d="M460 145H500L530 435H495Z" fill="#737373"/><path d="M615 125H655L680 415H645Z" fill="#737373"/><path d="M1290 60H1335V220H1295Z" fill="#6a6a6a"/><path d="M850 1200L1530 1000L1520 1410H960Z" fill="#414141"/><path d="M960 1290L1300 1190V1410H960Z" fill="#2f2f2f"/><path d="M700 650L1160 585L1530 1000L850 1200Z" fill="#2d2d2d"/><ellipse cx="1110" cy="790" rx="58" ry="36" fill="none" stroke="#8a8a8a" stroke-width="5"/><ellipse cx="1270" cy="930" rx="90" ry="58" fill="none" stroke="#8a8a8a" stroke-width="5"/><ellipse cx="885" cy="830" rx="82" ry="50" fill="none" stroke="#9a9a9a" stroke-width="5"/><ellipse cx="985" cy="1015" rx="100" ry="78" fill="none" stroke="#8a8a8a" stroke-width="5"/><ellipse cx="985" cy="1015" rx="82" ry="64" fill="none" stroke="#ea3a20" stroke-width="12"/><ellipse cx="985" cy="1015" rx="58" ry="45" fill="none" stroke="#ea3a20" stroke-width="12"/><ellipse cx="985" cy="1015" rx="36" ry="28" fill="none" stroke="#ea3a20" stroke-width="12"/><ellipse cx="985" cy="1015" rx="16" ry="12" fill="none" stroke="#ea3a20" stroke-width="12"/><path d="M870 865L1020 850L1018 880L880 892Z" fill="#9a9a9a"/><path d="M860 760L1010 745L1020 850L870 865Z" fill="#ededed"/><path d="M830 770L862 762L866 800Z" fill="#dcdcdc"/><path d="M875 690V765M990 680V750" stroke="#777" stroke-width="10"/><rect x="848" y="655" width="178" height="38" rx="18" fill="#b9692d" transform="rotate(-3 937 674)"/><path d="M1230 650L1440 610L1860 900L1560 1000Z" fill="#b9b9b9"/><path d="M1270 660L1450 630L1790 890L1570 960Z" fill="#646464"/><path d="M1330 690L1450 665L1740 880L1590 925Z" fill="#4d4d4d"/><path d="M1360 440H1395V625H1360Z" fill="#707070"/><path d="M1378 445Q1440 440 1462 500V600" stroke="#707070" stroke-width="28" fill="none"/><path d="M1500 1030L1530 1000L1520 1410H1480Z" fill="#4a4a4a"/><path d="M1530 1000L1860 900L1890 1410H1520Z" fill="#6a7fa6"/><path d="M1530 1000L1860 900L1870 926L1535 1030Z" fill="#d6dae0"/><path d="M1545 1130L1850 1030" stroke="#7d7d7d" stroke-width="24" stroke-linecap="round"/><path d="M1515 1245L1805 1140" stroke="#7d7d7d" stroke-width="24" stroke-linecap="round"/><path d="M215 920L745 705V1100L650 1190L640 940L200 925Z" fill="#2a2a2a"/><path d="M745 705V1100L650 1190L640 900Z" fill="#242424"/><path d="M115 750L590 590L745 705L215 920Z" fill="#2d2d2d"/><path d="M115 750L215 920L255 1130L150 900Z" fill="#1f1f1f"/><path d="M200 925L640 940L670 1190L255 1130Z" fill="#363636"/><path d="M285 990L600 1000L620 1120L325 1090Z" fill="#4e4e4e"/><path d="M285 990L600 1000L480 1060L325 1090Z" fill="#444"/><path d="M600 1000H640L650 1200H615Z" fill="#8a8a8a"/><path d="M645 1200Q665 1260 655 1330" stroke="#8f8f8f" stroke-width="26" fill="none" stroke-linecap="round"/><path d="M1175 1090H1390L1350 1410H1150Z" fill="#d3ddd0"/><path d="M1320 1090H1390L1350 1410H1300Z" fill="#a9b6a6"/><ellipse cx="1283" cy="1088" rx="108" ry="45" fill="#e3ebe0"/><path d="M1290 1060L1290 880L1300 800" stroke="#a3b1a0" stroke-width="130" stroke-linecap="round" stroke-linejoin="round" fill="none"/><path d="M1290 1060L1290 880L1300 800" stroke="#dbe5d8" stroke-width="108" stroke-linecap="round" stroke-linejoin="round" fill="none" transform="translate(-7,-3)"/><path d="M1290 1060L1290 880L1300 800" stroke="#f2f7ef" stroke-width="32" stroke-linecap="round" stroke-linejoin="round" fill="none" transform="translate(-18,-6)" stroke-opacity="0.8"/><path d="M1300 795L1090 705" stroke="#a3b1a0" stroke-width="120" stroke-linecap="round" stroke-linejoin="round" fill="none"/><path d="M1300 795L1090 705" stroke="#dbe5d8" stroke-width="98" stroke-linecap="round" stroke-linejoin="round" fill="none" transform="translate(-7,-3)"/><path d="M1300 795L1090 705" stroke="#f2f7ef" stroke-width="30" stroke-linecap="round" stroke-linejoin="round" fill="none" transform="translate(-18,-6)" stroke-opacity="0.8"/><path d="M1090 700L1090 545L1125 505" stroke="#a3b1a0" stroke-width="105" stroke-linecap="round" stroke-linejoin="round" fill="none"/><path d="M1090 700L1090 545L1125 505" stroke="#dbe5d8" stroke-width="83" stroke-linecap="round" stroke-linejoin="round" fill="none" transform="translate(-7,-3)"/><path d="M1090 700L1090 545L1125 505" stroke="#f2f7ef" stroke-width="26" stroke-linecap="round" stroke-linejoin="round" fill="none" transform="translate(-18,-6)" stroke-opacity="0.8"/><path d="M1115 508L1250 402" stroke="#a3b1a0" stroke-width="88" stroke-linecap="round" stroke-linejoin="round" fill="none"/><path d="M1115 508L1250 402" stroke="#dbe5d8" stroke-width="66" stroke-linecap="round" stroke-linejoin="round" fill="none" transform="translate(-7,-3)"/><path d="M1115 508L1250 402" stroke="#f2f7ef" stroke-width="22" stroke-linecap="round" stroke-linejoin="round" fill="none" transform="translate(-18,-6)" stroke-opacity="0.8"/><path d="M1250 400L1212 335" stroke="#a3b1a0" stroke-width="98" stroke-linecap="round" stroke-linejoin="round" fill="none"/><path d="M1250 400L1212 335" stroke="#dbe5d8" stroke-width="76" stroke-linecap="round" stroke-linejoin="round" fill="none" transform="translate(-7,-3)"/><path d="M1250 400L1212 335" stroke="#f2f7ef" stroke-width="24" stroke-linecap="round" stroke-linejoin="round" fill="none" transform="translate(-18,-6)" stroke-opacity="0.8"/><path d="M1190 255L1330 235L1340 290L1200 300Z" fill="#eaf0e7"/><path d="M1262 242L1288 200M1316 240L1342 214" stroke="#eaf0e7" stroke-width="20" stroke-linecap="round"/></g></g></g></svg>
<!-- p04_right -->
<div style="position:absolute;top:263.93px;font-family:'Liberation Sans',sans-serif;font-size:26.9px;line-height:26.9px;white-space:nowrap;color:#000;font-weight:bold;left:1095.20px;width:2000px;text-align:center;">MCNN works especially well in the realistic low-data regime!</div>
<svg style="position:absolute;left:0px;top:0px;overflow:visible;" width="2500" height="1421"><rect x="1866.8" y="308.1" width="261.2" height="259.9" fill="#eaeaf2"/><line x1="1901.2" x2="1901.2" y1="308.1" y2="568" stroke="#fff" stroke-width="1.1"/><line x1="1981.5" x2="1981.5" y1="308.1" y2="568" stroke="#fff" stroke-width="1.1"/><line x1="2061.2" x2="2061.2" y1="308.1" y2="568" stroke="#fff" stroke-width="1.1"/><text x="1858.1" y="314.3" text-anchor="end" style="font-family:'Liberation Sans',sans-serif;font-size:15.1px;fill:#444">300%</text><line x1="1866.8" x2="2128" y1="348" y2="348" stroke="#fff" stroke-width="1.1"/><text x="1858.1" y="353.3" text-anchor="end" style="font-family:'Liberation Sans',sans-serif;font-size:15.1px;fill:#444">250%</text><line x1="1866.8" x2="2128" y1="387.5" y2="387.5" stroke="#fff" stroke-width="1.1"/><text x="1858.1" y="392.8" text-anchor="end" style="font-family:'Liberation Sans',sans-serif;font-size:15.1px;fill:#444">200%</text><line x1="1866.8" x2="2128" y1="426.7" y2="426.7" stroke="#fff" stroke-width="1.1"/><text x="1858.1" y="432.0" text-anchor="end" style="font-family:'Liberation Sans',sans-serif;font-size:15.1px;fill:#444">150%</text><line x1="1866.8" x2="2128" y1="466.4" y2="466.4" stroke="#fff" stroke-width="1.1"/><text x="1858.1" y="471.7" text-anchor="end" style="font-family:'Liberation Sans',sans-serif;font-size:15.1px;fill:#444">100%</text><line x1="1866.8" x2="2128" y1="505.7" y2="505.7" stroke="#fff" stroke-width="1.1"/><text x="1858.1" y="511.0" text-anchor="end" style="font-family:'Liberation Sans',sans-serif;font-size:15.1px;fill:#444">50%</text><text x="1858.1" y="550.1" text-anchor="end" style="font-family:'Liberation Sans',sans-serif;font-size:15.1px;fill:#444">0%</text><text x="1898.7" y="587.8" text-anchor="middle" style="font-family:'Liberation Sans',sans-serif;font-size:15.1px;fill:#444">10<tspan dy="-6.5" style="font-size:10.5px">1</tspan></text><text x="1979.0" y="587.8" text-anchor="middle" style="font-family:'Liberation Sans',sans-serif;font-size:15.1px;fill:#444">10<tspan dy="-6.5" style="font-size:10.5px">2</tspan></text><text x="2058.7" y="587.8" text-anchor="middle" style="font-family:'Liberation Sans',sans-serif;font-size:15.1px;fill:#444">10<tspan dy="-6.5" style="font-size:10.5px">3</tspan></text><text x="1994.3" y="605.9" text-anchor="middle" textLength="286.3" lengthAdjust="spacingAndGlyphs" style="font-family:'Liberation Sans',sans-serif;font-size:16.9px;fill:#444">Number of Demonstration Trajectories</text><text transform="translate(1793.3,439.6) rotate(-90)" text-anchor="middle" style="font-family:'Liberation Sans',sans-serif;font-size:16.9px;fill:#444">% Increase in Return</text><text transform="translate(1812,439.6) rotate(-90)" text-anchor="middle" textLength="198.4" lengthAdjust="spacingAndGlyphs" style="font-family:'Liberation Sans',sans-serif;font-size:16.9px;fill:#444">with MCNN over D4RL BC</text><line x1="1866.8" x2="2128" y1="544.8" y2="544.8" stroke="#d98a8a" stroke-width="1.3" stroke-dasharray="3.6 2"/><text x="1997.3" y="548.8" text-anchor="middle" textLength="56" lengthAdjust="spacingAndGlyphs" style="font-family:'Liberation Sans',sans-serif;font-size:13.4px;fill:#d23c3c;fill-opacity:0.9">D4RL BC</text><circle cx="1878.0" cy="406.0" r="2.75" fill="#c0504f" fill-opacity="0.92"/><circle cx="1878.0" cy="422.5" r="2.75" fill="#c0504f" fill-opacity="0.92"/><circle cx="1878.0" cy="429.1" r="2.75" fill="#c0504f" fill-opacity="0.92"/><circle cx="1878.0" cy="435.4" r="2.75" fill="#c0504f" fill-opacity="0.92"/><circle cx="1878.0" cy="443.2" r="2.75" fill="#c0504f" fill-opacity="0.92"/><circle cx="1878.0" cy="468.9" r="2.75" fill="#c0504f" fill-opacity="0.92"/><circle cx="1878.0" cy="488.1" r="2.75" fill="#c0504f" fill-opacity="0.92"/><circle cx="1878.0" cy="489.6" r="2.75" fill="#c0504f" fill-opacity="0.92"/><circle cx="1878.0" cy="500.7" r="2.75" fill="#c0504f" fill-opacity="0.92"/><circle cx="1878.0" cy="504.1" r="2.75" fill="#c0504f" fill-opacity="0.92"/><circle cx="1901.6" cy="433.1" r="2.75" fill="#c0504f" fill-opacity="0.92"/><circle cx="1901.6" cy="452.5" r="2.75" fill="#c0504f" fill-opacity="0.92"/><circle cx="1909.7" cy="349.7" r="2.75" fill="#c0504f" fill-opacity="0.92"/><circle cx="1909.7" cy="414.2" r="2.75" fill="#c0504f" fill-opacity="0.92"/><circle cx="1909.7" cy="420.4" r="2.75" fill="#c0504f" fill-opacity="0.92"/><circle cx="1909.7" cy="422.3" r="2.75" fill="#c0504f" fill-opacity="0.92"/><circle cx="1909.7" cy="446.1" r="2.75" fill="#c0504f" fill-opacity="0.92"/><circle cx="1909.7" cy="476.1" r="2.75" fill="#c0504f" fill-opacity="0.92"/><circle cx="1909.7" cy="489.6" r="2.75" fill="#c0504f" fill-opacity="0.92"/><circle cx="1909.7" cy="492.1" r="2.75" fill="#c0504f" fill-opacity="0.92"/><circle cx="1909.7" cy="504.1" r="2.75" fill="#c0504f" fill-opacity="0.92"/><circle cx="1915.9" cy="316.8" r="2.75" fill="#c0504f" fill-opacity="0.92"/><circle cx="1915.9" cy="419.6" r="2.75" fill="#c0504f" fill-opacity="0.92"/><circle cx="1915.9" cy="440.7" r="2.75" fill="#c0504f" fill-opacity="0.92"/><circle cx="1915.9" cy="443.2" r="2.75" fill="#c0504f" fill-opacity="0.92"/><circle cx="1915.9" cy="450.0" r="2.75" fill="#c0504f" fill-opacity="0.92"/><circle cx="1915.9" cy="492.1" r="2.75" fill="#c0504f" fill-opacity="0.92"/><circle cx="1915.9" cy="495.4" r="2.75" fill="#c0504f" fill-opacity="0.92"/><circle cx="1915.9" cy="501.2" r="2.75" fill="#c0504f" fill-opacity="0.92"/><circle cx="1926.2" cy="426.2" r="2.75" fill="#c0504f" fill-opacity="0.92"/><circle cx="1926.2" cy="432.2" r="2.75" fill="#c0504f" fill-opacity="0.92"/><circle cx="1926.2" cy="446.1" r="2.75" fill="#c0504f" fill-opacity="0.92"/><circle cx="1926.2" cy="456.2" r="2.75" fill="#c0504f" fill-opacity="0.92"/><circle cx="1926.2" cy="472.6" r="2.75" fill="#c0504f" fill-opacity="0.92"/><circle cx="1926.2" cy="486.1" r="2.75" fill="#c0504f" fill-opacity="0.92"/><circle cx="1929.7" cy="386.7" r="2.75" fill="#c0504f" fill-opacity="0.92"/><circle cx="1933.3" cy="384.2" r="2.75" fill="#c0504f" fill-opacity="0.92"/><circle cx="1933.3" cy="390.9" r="2.75" fill="#c0504f" fill-opacity="0.92"/><circle cx="1933.3" cy="400.6" r="2.75" fill="#c0504f" fill-opacity="0.92"/><circle cx="1933.3" cy="402.6" r="2.75" fill="#c0504f" fill-opacity="0.92"/><circle cx="1933.3" cy="422.3" r="2.75" fill="#c0504f" fill-opacity="0.92"/><circle cx="1933.3" cy="449.0" r="2.75" fill="#c0504f" fill-opacity="0.92"/><circle cx="1933.3" cy="468.0" r="2.75" fill="#c0504f" fill-opacity="0.92"/><circle cx="1933.3" cy="476.5" r="2.75" fill="#c0504f" fill-opacity="0.92"/><circle cx="1933.3" cy="497.0" r="2.75" fill="#c0504f" fill-opacity="0.92"/><circle cx="1933.3" cy="501.6" r="2.75" fill="#c0504f" fill-opacity="0.92"/><circle cx="1957.7" cy="457.1" r="2.75" fill="#c0504f" fill-opacity="0.92"/><circle cx="1957.7" cy="488.1" r="2.75" fill="#c0504f" fill-opacity="0.92"/><circle cx="1981.3" cy="388.6" r="2.75" fill="#c0504f" fill-opacity="0.92"/><circle cx="1981.3" cy="393.5" r="2.75" fill="#c0504f" fill-opacity="0.92"/><circle cx="1981.3" cy="394.8" r="2.75" fill="#c0504f" fill-opacity="0.92"/><circle cx="1981.3" cy="417.6" r="2.75" fill="#c0504f" fill-opacity="0.92"/><circle cx="1981.3" cy="422.9" r="2.75" fill="#c0504f" fill-opacity="0.92"/><circle cx="2005.5" cy="375.5" r="2.75" fill="#c0504f" fill-opacity="0.92"/><circle cx="2005.5" cy="508.4" r="2.75" fill="#c0504f" fill-opacity="0.92"/><circle cx="2012.9" cy="497.8" r="2.75" fill="#c0504f" fill-opacity="0.92"/><circle cx="2012.9" cy="510.9" r="2.75" fill="#c0504f" fill-opacity="0.92"/><circle cx="2012.9" cy="513.8" r="2.75" fill="#c0504f" fill-opacity="0.92"/><circle cx="2012.9" cy="516.7" r="2.75" fill="#c0504f" fill-opacity="0.92"/><circle cx="2019.1" cy="376.8" r="2.75" fill="#c0504f" fill-opacity="0.92"/><circle cx="2019.1" cy="507.0" r="2.75" fill="#c0504f" fill-opacity="0.92"/><circle cx="2019.1" cy="509.9" r="2.75" fill="#c0504f" fill-opacity="0.92"/><circle cx="2019.1" cy="513.2" r="2.75" fill="#c0504f" fill-opacity="0.92"/><circle cx="2029.3" cy="376.8" r="2.75" fill="#c0504f" fill-opacity="0.92"/><circle cx="2029.3" cy="505.5" r="2.75" fill="#c0504f" fill-opacity="0.92"/><circle cx="2029.3" cy="509.0" r="2.75" fill="#c0504f" fill-opacity="0.92"/><circle cx="2029.3" cy="511.9" r="2.75" fill="#c0504f" fill-opacity="0.92"/><circle cx="2029.3" cy="514.4" r="2.75" fill="#c0504f" fill-opacity="0.92"/><circle cx="2033.2" cy="497.0" r="2.75" fill="#c0504f" fill-opacity="0.92"/><circle cx="2033.2" cy="502.2" r="2.75" fill="#c0504f" fill-opacity="0.92"/><circle cx="2033.2" cy="511.9" r="2.75" fill="#c0504f" fill-opacity="0.92"/><circle cx="2037.1" cy="503.2" r="2.75" fill="#c0504f" fill-opacity="0.92"/><circle cx="2060.9" cy="375.5" r="2.75" fill="#c0504f" fill-opacity="0.92"/><circle cx="2060.9" cy="502.2" r="2.75" fill="#c0504f" fill-opacity="0.92"/><circle cx="2060.9" cy="509.4" r="2.75" fill="#c0504f" fill-opacity="0.92"/><circle cx="2060.9" cy="512.8" r="2.75" fill="#c0504f" fill-opacity="0.92"/><circle cx="2060.9" cy="518.7" r="2.75" fill="#c0504f" fill-opacity="0.92"/><circle cx="2060.9" cy="521.6" r="2.75" fill="#c0504f" fill-opacity="0.92"/><circle cx="2084.5" cy="377.0" r="2.75" fill="#c0504f" fill-opacity="0.92"/><circle cx="2084.5" cy="499.7" r="2.75" fill="#c0504f" fill-opacity="0.92"/><circle cx="2084.5" cy="503.2" r="2.75" fill="#c0504f" fill-opacity="0.92"/><circle cx="2084.5" cy="508.0" r="2.75" fill="#c0504f" fill-opacity="0.92"/><circle cx="2084.5" cy="510.9" r="2.75" fill="#c0504f" fill-opacity="0.92"/><circle cx="2084.5" cy="520.6" r="2.75" fill="#c0504f" fill-opacity="0.92"/><circle cx="2092.8" cy="507.4" r="2.75" fill="#c0504f" fill-opacity="0.92"/><circle cx="2092.8" cy="509.9" r="2.75" fill="#c0504f" fill-opacity="0.92"/><circle cx="2092.8" cy="512.5" r="2.75" fill="#c0504f" fill-opacity="0.92"/><circle cx="2099.0" cy="377.0" r="2.75" fill="#c0504f" fill-opacity="0.92"/><circle cx="2099.0" cy="496.0" r="2.75" fill="#c0504f" fill-opacity="0.92"/><circle cx="2099.0" cy="503.2" r="2.75" fill="#c0504f" fill-opacity="0.92"/><circle cx="2099.0" cy="505.5" r="2.75" fill="#c0504f" fill-opacity="0.92"/><circle cx="2099.0" cy="509.0" r="2.75" fill="#c0504f" fill-opacity="0.92"/><circle cx="2099.0" cy="517.3" r="2.75" fill="#c0504f" fill-opacity="0.92"/><circle cx="2106.7" cy="499.3" r="2.75" fill="#c0504f" fill-opacity="0.92"/><circle cx="2109.0" cy="375.5" r="2.75" fill="#c0504f" fill-opacity="0.92"/><circle cx="2109.0" cy="497.0" r="2.75" fill="#c0504f" fill-opacity="0.92"/><circle cx="2109.0" cy="501.2" r="2.75" fill="#c0504f" fill-opacity="0.92"/><circle cx="2109.0" cy="505.5" r="2.75" fill="#c0504f" fill-opacity="0.92"/><circle cx="2109.0" cy="509.9" r="2.75" fill="#c0504f" fill-opacity="0.92"/><circle cx="2109.0" cy="513.4" r="2.75" fill="#c0504f" fill-opacity="0.92"/><circle cx="2112.9" cy="501.2" r="2.75" fill="#c0504f" fill-opacity="0.92"/><circle cx="2117.0" cy="376.8" r="2.75" fill="#c0504f" fill-opacity="0.92"/><circle cx="2117.0" cy="502.8" r="2.75" fill="#c0504f" fill-opacity="0.92"/><circle cx="2117.0" cy="505.1" r="2.75" fill="#c0504f" fill-opacity="0.92"/><circle cx="2117.0" cy="539.9" r="2.75" fill="#c0504f" fill-opacity="0.92"/><path d="M1878.8 443.2C1879.5 441.6 1881.5 437.1 1883.2 433.5C1884.9 430.0 1886.8 424.9 1889.0 421.9C1891.3 418.9 1893.9 417.1 1896.8 415.7C1899.7 414.4 1903.2 413.8 1906.4 413.8C1909.7 413.7 1912.9 414.6 1916.1 415.5C1919.3 416.4 1922.2 417.5 1925.8 419.0C1929.3 420.5 1932.2 421.6 1937.4 424.8C1942.6 428.0 1949.4 433.4 1956.7 438.4C1964.1 443.4 1973.2 449.3 1981.3 454.8C1989.5 460.3 1997.5 465.8 2005.5 471.2C2013.5 476.7 2021.3 482.1 2029.3 487.3C2037.3 492.5 2046.2 497.8 2053.5 502.2C2060.8 506.6 2067.7 510.8 2072.8 513.8C2078.0 516.8 2080.6 518.4 2084.5 520.2C2088.3 522.0 2092.5 523.7 2096.1 524.8C2099.6 526.0 2103.2 526.9 2105.7 527.0C2108.3 527.1 2109.1 526.7 2111.5 525.4C2114.0 524.2 2118.8 520.6 2120.3 519.6" fill="none" stroke="#1a1a1a" stroke-width="2" stroke-dasharray="9.5 4.3"/><rect x="1960" y="315.5" width="160.3" height="28" rx="2.5" fill="#eaeaf2" stroke="#d9d9e2" stroke-width="0.9"/><path d="M1966 328.6H1978.6M1988.7 328.6H2001.3" stroke="#1a1a1a" stroke-width="2.1"/><text x="2010.5" y="333.9" textLength="103" lengthAdjust="spacingAndGlyphs" style="font-family:'Liberation Sans',sans-serif;font-size:16.6px;fill:#444">Median trend</text><path d="M2161.1 413H2477.6M2161.1 446.1H2477.6M2161.1 518.9H2477.6" stroke="#555" stroke-width="1.1"/><path d="M2298.9 417.3V443.5M2298.9 450V515.7" stroke="#777" stroke-width="0.8"/><text x="2370.4" y="425.5" text-anchor="middle" style="font-family:'Liberation Serif',serif;font-size:12.1px;fill:#222">Franka Kitchen</text><text x="2316.3" y="439.6" text-anchor="middle" style="font-family:'Liberation Serif',serif;font-size:12.1px;fill:#222">p1</text><text x="2352.3" y="439.6" text-anchor="middle" style="font-family:'Liberation Serif',serif;font-size:12.1px;fill:#222">p2</text><text x="2387.8" y="439.6" text-anchor="middle" style="font-family:'Liberation Serif',serif;font-size:12.1px;fill:#222">p3</text><text x="2423.5" y="439.6" text-anchor="middle" style="font-family:'Liberation Serif',serif;font-size:12.1px;fill:#222">p4</text><text x="2459.3" y="439.6" text-anchor="middle" style="font-family:'Liberation Serif',serif;font-size:12.1px;fill:#222">p5</text><text x="2229.4" y="458.6" text-anchor="middle" style="font-family:'Liberation Serif',serif;font-size:12.1px;fill:#222">LSTM-GMM [16]</text><text x="2316.3" y="458.6" text-anchor="middle" style="font-family:'Liberation Serif',serif;font-size:12.1px;fill:#222;font-weight:bold">1.0</text><text x="2352.3" y="458.6" text-anchor="middle" style="font-family:'Liberation Serif',serif;font-size:12.1px;fill:#222">0.9</text><text x="2387.8" y="458.6" text-anchor="middle" style="font-family:'Liberation Serif',serif;font-size:12.1px;fill:#222">0.74</text><text x="2423.5" y="458.6" text-anchor="middle" style="font-family:'Liberation Serif',serif;font-size:12.1px;fill:#222">0.34</text><text x="2459.3" y="458.6" text-anchor="middle" style="font-family:'Liberation Serif',serif;font-size:12.1px;fill:#222">0</text><text x="2229.4" y="471.7" text-anchor="middle" style="font-family:'Liberation Serif',serif;font-size:12.1px;fill:#222">IBC [6]</text><text x="2316.3" y="471.7" text-anchor="middle" style="font-family:'Liberation Serif',serif;font-size:12.1px;fill:#222">0.99</text><text x="2352.3" y="471.7" text-anchor="middle" style="font-family:'Liberation Serif',serif;font-size:12.1px;fill:#222">0.87</text><text x="2387.8" y="471.7" text-anchor="middle" style="font-family:'Liberation Serif',serif;font-size:12.1px;fill:#222">0.61</text><text x="2423.5" y="471.7" text-anchor="middle" style="font-family:'Liberation Serif',serif;font-size:12.1px;fill:#222">0.24</text><text x="2459.3" y="471.7" text-anchor="middle" style="font-family:'Liberation Serif',serif;font-size:12.1px;fill:#222">0</text><text x="2229.4" y="485.2" text-anchor="middle" style="font-family:'Liberation Serif',serif;font-size:12.1px;fill:#222">BeT-BC [31]</text><text x="2316.3" y="485.2" text-anchor="middle" style="font-family:'Liberation Serif',serif;font-size:12.1px;fill:#222">0.99</text><text x="2352.3" y="485.2" text-anchor="middle" style="font-family:'Liberation Serif',serif;font-size:12.1px;fill:#222">0.93</text><text x="2387.8" y="485.2" text-anchor="middle" style="font-family:'Liberation Serif',serif;font-size:12.1px;fill:#222">0.71</text><text x="2423.5" y="485.2" text-anchor="middle" style="font-family:'Liberation Serif',serif;font-size:12.1px;fill:#222">0.44</text><text x="2459.3" y="485.2" text-anchor="middle" style="font-family:'Liberation Serif',serif;font-size:12.1px;fill:#222">0</text><text x="2229.4" y="498.3" text-anchor="middle" style="font-family:'Liberation Serif',serif;font-size:12.1px;fill:#222">Diffusion-BC [1]</text><text x="2316.3" y="498.3" text-anchor="middle" style="font-family:'Liberation Serif',serif;font-size:12.1px;fill:#222;font-weight:bold">1.0</text><text x="2352.3" y="498.3" text-anchor="middle" style="font-family:'Liberation Serif',serif;font-size:12.1px;fill:#222;font-weight:bold">1.0</text><text x="2387.8" y="498.3" text-anchor="middle" style="font-family:'Liberation Serif',serif;font-size:12.1px;fill:#222;font-weight:bold">1.0</text><text x="2423.5" y="498.3" text-anchor="middle" style="font-family:'Liberation Serif',serif;font-size:12.1px;fill:#222">0.99</text><text x="2459.3" y="498.3" text-anchor="middle" style="font-family:'Liberation Serif',serif;font-size:12.1px;fill:#222">0.02</text><text x="2229.4" y="511.7" text-anchor="middle" style="font-family:'Liberation Serif',serif;font-size:12.1px;fill:#222">MCNN+Diffusion (Ours)</text><text x="2316.3" y="511.7" text-anchor="middle" style="font-family:'Liberation Serif',serif;font-size:12.1px;fill:#222;font-weight:bold">1.0</text><text x="2352.3" y="511.7" text-anchor="middle" style="font-family:'Liberation Serif',serif;font-size:12.1px;fill:#222;font-weight:bold">1.0</text><text x="2387.8" y="511.7" text-anchor="middle" style="font-family:'Liberation Serif',serif;font-size:12.1px;fill:#222;font-weight:bold">1.0</text><text x="2423.5" y="511.7" text-anchor="middle" style="font-family:'Liberation Serif',serif;font-size:12.1px;fill:#222;font-weight:bold">1.0</text><text x="2459.3" y="511.7" text-anchor="middle" style="font-family:'Liberation Serif',serif;font-size:12.1px;fill:#222;font-weight:bold">0.08</text></svg>
<div style="position:absolute;top:618.43px;font-family:'Liberation Sans',sans-serif;font-size:51px;line-height:51px;white-space:nowrap;color:#000;font-weight:bold;left:1092.10px;width:2000px;text-align:center;">Guarantees</div>
<div id="r1" class="fit" style="position:absolute;left:1701.90px;top:687.25px;font-family:'Liberation Sans',sans-serif;font-size:16.6px;line-height:16.6px;white-space:nowrap;color:#000;transform-origin:0 50%;font-weight:bold;transform:scaleX(0.9970);">Given, a dataset,</div>
<div id="r2" class="fit" style="position:absolute;left:1841.60px;top:679.94px;font-family:'Liberation Serif',serif;font-size:25.5px;line-height:25.5px;white-space:nowrap;color:#111;transform-origin:0 50%;transform:scaleX(1.0357);"><i>D</i> = {(<i>s</i><span style="font-size:0.7em;position:relative;top:0.28em;font-style:normal">0</span>, <i>a</i><span style="font-size:0.7em;position:relative;top:0.28em;font-style:normal">0</span>), (<i>s</i><span style="font-size:0.7em;position:relative;top:0.28em;font-style:normal">1</span>, <i>a</i><span style="font-size:0.7em;position:relative;top:0.28em;font-style:normal">1</span>), . . . , (<i>s</i><span style="font-size:0.7em;position:relative;top:0.28em"><i>N</i></span>, <i>a</i><span style="font-size:0.7em;position:relative;top:0.28em"><i>N</i></span>)}</div>
<div id="r3" class="fit" style="position:absolute;left:2228.40px;top:687.25px;font-family:'Liberation Sans',sans-serif;font-size:16.6px;line-height:16.6px;white-space:nowrap;color:#000;transform-origin:0 50%;font-weight:bold;transform:scaleX(1.0046);">from unknown expert policy</div>
<div id="r4" class="fit" style="position:absolute;left:2462.20px;top:679.94px;font-family:'Liberation Serif',serif;font-size:25.5px;line-height:25.5px;white-space:nowrap;color:#111;transform-origin:0 50%;transform:scaleX(1.0137);"><i>π</i><span style="font-size:0.7em;position:relative;top:-0.48em;font-style:normal">*</span></div>
<div id="r5" class="fit" style="position:absolute;left:1709.30px;top:726.75px;font-family:'Liberation Sans',sans-serif;font-size:16.6px;line-height:16.6px;white-space:nowrap;color:#000;transform-origin:0 50%;font-weight:bold;transform:scaleX(0.9902);">reduce sub-optimality gap</div>
<div id="r6" class="fit" style="position:absolute;left:1927.70px;top:719.44px;font-family:'Liberation Serif',serif;font-size:25.5px;line-height:25.5px;white-space:nowrap;color:#111;transform-origin:0 50%;transform:scaleX(1.1229);"><i>J</i>(<i>π</i><span style="font-size:0.7em;position:relative;top:-0.48em;font-style:normal">*</span>) − <i>J</i>(<span style="position:relative"><i>π</i><span style="position:absolute;left:0.12em;top:-0.16em;font-size:0.85em;font-style:normal">ˆ</span></span>)</div>
<div id="r7" class="fit" style="position:absolute;left:1694.00px;top:771.05px;font-family:'Liberation Serif',serif;font-size:19.4px;line-height:19.4px;white-space:nowrap;color:#111;transform-origin:0 50%;font-weight:bold;transform:scaleX(0.9912);">Assumption 4.3</div>
<div id="r8" class="fit" style="position:absolute;left:1826.90px;top:771.05px;font-family:'Liberation Serif',serif;font-size:19.4px;line-height:19.4px;white-space:nowrap;color:#111;transform-origin:0 50%;transform:scaleX(1.0128);">(Realizability)<b>.</b>&nbsp; We assume that the expert policy <i>π</i><span style="font-size:0.7em;position:relative;top:-0.48em;font-style:normal">*</span> belongs to the function class <b><i>F</i></b>.</div>
<div id="r9" class="fit" style="position:absolute;left:1693.50px;top:819.15px;font-family:'Liberation Serif',serif;font-size:19.4px;line-height:19.4px;white-space:nowrap;color:#111;transform-origin:0 50%;font-weight:bold;transform:scaleX(1.0335);">Definition 4.4</div>
<div id="r10" class="fit" style="position:absolute;left:1817.00px;top:819.15px;font-family:'Liberation Serif',serif;font-size:19.4px;line-height:19.4px;white-space:nowrap;color:#111;transform-origin:0 50%;transform:scaleX(1.0746);">(Most Isolated State)<b>.</b>&nbsp; For a given set of memory points <i>B</i>|<span style="font-size:0.7em;position:relative;top:0.28em"><i>S</i></span>, we define the most</div>
<div id="r11" class="fit" style="position:absolute;left:1693.50px;top:842.95px;font-family:'Liberation Serif',serif;font-size:19.4px;line-height:19.4px;white-space:nowrap;color:#111;transform-origin:0 50%;transform:scaleX(1.0228);">isolated state</div>
<div id="r12" class="fit" style="position:absolute;left:1803.40px;top:842.95px;font-family:'Liberation Serif',serif;font-size:19.4px;line-height:19.4px;white-space:nowrap;color:#111;transform-origin:0 50%;"><i>s</i></div>
<div id="r13" class="fit" style="position:absolute;left:1813.90px;top:839.31px;font-family:'Liberation Serif',serif;font-size:13px;line-height:13px;white-space:nowrap;color:#111;transform-origin:0 50%;"><i>I</i></div>
<div id="r14" class="fit" style="position:absolute;left:1812.60px;top:855.29px;font-family:'Liberation Serif',serif;font-size:13.5px;line-height:13.5px;white-space:nowrap;color:#111;transform-origin:0 50%;transform:scaleX(1.3692);"><i>B</i>|<span style="font-size:0.8em"><i>S</i></span></div>
<div id="r15" class="fit" style="position:absolute;left:1844.90px;top:842.95px;font-family:'Liberation Serif',serif;font-size:19.4px;line-height:19.4px;white-space:nowrap;color:#111;transform-origin:0 50%;transform:scaleX(1.1024);">:=</div>
<div id="r16" class="fit" style="position:absolute;left:1871.10px;top:842.95px;font-family:'Liberation Serif',serif;font-size:19.4px;line-height:19.4px;white-space:nowrap;color:#111;transform-origin:0 50%;transform:scaleX(1.0598);">arg max</div>
<div id="r17" class="fit" style="position:absolute;left:1938.90px;top:841.61px;font-family:'Liberation Serif',serif;font-size:21px;line-height:21px;white-space:nowrap;color:#111;transform-origin:0 50%;">(</div>
<div id="r18" class="fit" style="position:absolute;left:1891.30px;top:864.29px;font-family:'Liberation Serif',serif;font-size:13.5px;line-height:13.5px;white-space:nowrap;color:#111;transform-origin:0 50%;transform:scaleX(1.2532);"><i>s</i><svg width="0.58em" height="0.56em" viewBox="0 0 10 10" style="display:inline-block;margin:0 0.04em"><path d="M9.5 0.8H5.2a4.2 4.2 0 0 0 0 8.4h4.3M1 5h8.5" fill="none" stroke="#111" stroke-width="1.1"/></svg><i>S</i></div>
<div id="r19" class="fit" style="position:absolute;left:1953.90px;top:842.95px;font-family:'Liberation Serif',serif;font-size:19.4px;line-height:19.4px;white-space:nowrap;color:#111;transform-origin:0 50%;transform:scaleX(1.0341);">min</div>
<div id="r20" class="fit" style="position:absolute;left:1948.20px;top:861.79px;font-family:'Liberation Serif',serif;font-size:13.5px;line-height:13.5px;white-space:nowrap;color:#111;transform-origin:0 50%;transform:scaleX(1.3571);"><i>m</i><svg width="0.58em" height="0.56em" viewBox="0 0 10 10" style="display:inline-block;margin:0 0.04em"><path d="M9.5 0.8H5.2a4.2 4.2 0 0 0 0 8.4h4.3M1 5h8.5" fill="none" stroke="#111" stroke-width="1.1"/></svg><i>B</i>|<span style="font-size:0.8em"><i>S</i></span></div>
<div id="r21" class="fit" style="position:absolute;left:1997.90px;top:842.95px;font-family:'Liberation Serif',serif;font-size:19.4px;line-height:19.4px;white-space:nowrap;color:#111;transform-origin:0 50%;transform:scaleX(1.1332);"><i>d</i>(<i>s</i>, <i>m</i>))</div>
<div id="r22" class="fit" style="position:absolute;left:2067.90px;top:842.95px;font-family:'Liberation Serif',serif;font-size:19.4px;line-height:19.4px;white-space:nowrap;color:#111;transform-origin:0 50%;transform:scaleX(1.0375);">, and consequently the distance of the most isolated</div>
<div id="r23" class="fit" style="position:absolute;left:1693.50px;top:880.35px;font-family:'Liberation Serif',serif;font-size:19.4px;line-height:19.4px;white-space:nowrap;color:#111;transform-origin:0 50%;transform:scaleX(1.0053);">point as</div>
<div id="r24" class="fit" style="position:absolute;left:1760.80px;top:880.35px;font-family:'Liberation Serif',serif;font-size:19.4px;line-height:19.4px;white-space:nowrap;color:#111;transform-origin:0 50%;"><i>d</i></div>
<div id="r25" class="fit" style="position:absolute;left:1772.90px;top:877.51px;font-family:'Liberation Serif',serif;font-size:13px;line-height:13px;white-space:nowrap;color:#111;transform-origin:0 50%;"><i>I</i></div>
<div id="r26" class="fit" style="position:absolute;left:1771.10px;top:893.79px;font-family:'Liberation Serif',serif;font-size:13.5px;line-height:13.5px;white-space:nowrap;color:#111;transform-origin:0 50%;transform:scaleX(1.4059);"><i>B</i>|<span style="font-size:0.8em"><i>S</i></span></div>
<div id="r27" class="fit" style="position:absolute;left:1803.40px;top:880.35px;font-family:'Liberation Serif',serif;font-size:19.4px;line-height:19.4px;white-space:nowrap;color:#111;transform-origin:0 50%;transform:scaleX(1.2434);">=</div>
<div id="r28" class="fit" style="position:absolute;left:1833.40px;top:880.35px;font-family:'Liberation Serif',serif;font-size:19.4px;line-height:19.4px;white-space:nowrap;color:#111;transform-origin:0 50%;transform:scaleX(1.0341);">min</div>
<div id="r29" class="fit" style="position:absolute;left:1824.40px;top:901.19px;font-family:'Liberation Serif',serif;font-size:13.5px;line-height:13.5px;white-space:nowrap;color:#111;transform-origin:0 50%;transform:scaleX(1.3686);"><i>m</i><svg width="0.58em" height="0.56em" viewBox="0 0 10 10" style="display:inline-block;margin:0 0.04em"><path d="M9.5 0.8H5.2a4.2 4.2 0 0 0 0 8.4h4.3M1 5h8.5" fill="none" stroke="#111" stroke-width="1.1"/></svg><i>B</i>|<span style="font-size:0.8em"><i>S</i></span></div>
<div id="r30" class="fit" style="position:absolute;left:1880.10px;top:880.35px;font-family:'Liberation Serif',serif;font-size:19.4px;line-height:19.4px;white-space:nowrap;color:#111;transform-origin:0 50%;transform:scaleX(1.0751);"><i>d</i>(<i>s</i></div>
<div id="r31" class="fit" style="position:absolute;left:1908.20px;top:877.51px;font-family:'Liberation Serif',serif;font-size:13px;line-height:13px;white-space:nowrap;color:#111;transform-origin:0 50%;"><i>I</i></div>
<div id="r32" class="fit" style="position:absolute;left:1907.20px;top:893.79px;font-family:'Liberation Serif',serif;font-size:13.5px;line-height:13.5px;white-space:nowrap;color:#111;transform-origin:0 50%;transform:scaleX(1.4059);"><i>B</i>|<span style="font-size:0.8em"><i>S</i></span></div>
<div id="r33" class="fit" style="position:absolute;left:1934.30px;top:880.35px;font-family:'Liberation Serif',serif;font-size:19.4px;line-height:19.4px;white-space:nowrap;color:#111;transform-origin:0 50%;transform:scaleX(1.0567);">, <i>m</i>)</div>
<div id="r34" class="fit" style="position:absolute;left:1692.90px;top:938.55px;font-family:'Liberation Serif',serif;font-size:19.4px;line-height:19.4px;white-space:nowrap;color:#111;transform-origin:0 50%;font-weight:bold;transform:scaleX(1.0985);">Theorem 4.7.</div>
<div id="r35" class="fit" style="position:absolute;left:1824.40px;top:938.55px;font-family:'Liberation Serif',serif;font-size:19.4px;line-height:19.4px;white-space:nowrap;color:#111;transform-origin:0 50%;font-style:italic;transform:scaleX(1.1072);">The sub-optimality gap</div>
<div id="r36" class="fit" style="position:absolute;left:2031.80px;top:938.55px;font-family:'Liberation Serif',serif;font-size:19.4px;line-height:19.4px;white-space:nowrap;color:#111;transform-origin:0 50%;transform:scaleX(1.3313);"><i>J</i>(<i>π</i><span style="font-size:0.7em;position:relative;top:-0.48em;font-style:normal">*</span>) − <i>J</i>(<span style="position:relative"><i>π</i><span style="position:absolute;left:0.12em;top:-0.16em;font-size:0.85em;font-style:normal">ˆ</span></span>) ≤ <i>min</i>{<i>H</i>, <i>H</i><span style="font-size:0.7em;position:relative;top:-0.48em;font-style:normal">2</span>|<i>A</i>|<i>L</i>(1 − <i>e</i></div>
<div id="r37" class="fit" style="position:absolute;left:2391.70px;top:934.19px;font-family:'Liberation Serif',serif;font-size:13.5px;line-height:13.5px;white-space:nowrap;color:#111;transform-origin:0 50%;transform:scaleX(1.3130);">−<i>λ d</i></div>
<div id="r38" class="fit" style="position:absolute;left:2423.50px;top:932.54px;font-family:'Liberation Serif',serif;font-size:9.5px;line-height:9.5px;white-space:nowrap;color:#111;transform-origin:0 50%;"><i>I</i></div>
<div id="r39" class="fit" style="position:absolute;left:2423.00px;top:942.04px;font-family:'Liberation Serif',serif;font-size:9.5px;line-height:9.5px;white-space:nowrap;color:#111;transform-origin:0 50%;transform:scaleX(2.3258);"><i>B</i>|<i>S</i></div>
<div id="r40" class="fit" style="position:absolute;left:2457.20px;top:938.55px;font-family:'Liberation Serif',serif;font-size:19.4px;line-height:19.4px;white-space:nowrap;color:#111;transform-origin:0 50%;transform:scaleX(1.0466);">)}</div>
<div id="r41" class="fit" style="position:absolute;left:1696.80px;top:988.25px;font-family:'Liberation Serif',serif;font-size:19.4px;line-height:19.4px;white-space:nowrap;color:#111;transform-origin:0 50%;font-weight:bold;transform:scaleX(0.9848);">Corollary</div>
<div id="r42" class="fit" style="position:absolute;left:1789.10px;top:988.25px;font-family:'Liberation Serif',serif;font-size:19.4px;line-height:19.4px;white-space:nowrap;color:#111;transform-origin:0 50%;font-weight:bold;transform:scaleX(0.9865);">4.8.</div>
<div id="r43" class="fit" style="position:absolute;left:1832.60px;top:988.25px;font-family:'Liberation Serif',serif;font-size:19.4px;line-height:19.4px;white-space:nowrap;color:#111;transform-origin:0 50%;font-style:italic;transform:scaleX(1.1261);">lower performance gap</div>
<div id="r44" class="fit" style="position:absolute;left:2052.30px;top:988.25px;font-family:'Liberation Serif',serif;font-size:19.4px;line-height:19.4px;white-space:nowrap;color:#111;transform-origin:0 50%;font-style:italic;transform:scaleX(1.3728);">if</div>
<div id="r45" class="fit" style="position:absolute;left:2076.90px;top:988.25px;font-family:'Liberation Serif',serif;font-size:19.4px;line-height:19.4px;white-space:nowrap;color:#111;transform-origin:0 50%;transform:scaleX(1.2531);"><i>B</i><span style="font-size:0.7em;position:relative;top:0.28em"><i>i</i></span></div>
<div id="r46" class="fit" style="position:absolute;left:2118.60px;top:988.25px;font-family:'Liberation Serif',serif;font-size:19.4px;line-height:19.4px;white-space:nowrap;color:#111;transform-origin:0 50%;"><svg width="0.72em" height="0.8em" viewBox="0 0 10 11" style="display:inline-block"><path d="M9.5 0.7H4.8a3.4 3.4 0 0 0 0 6.8h4.7M1.2 10.3h8.3" fill="none" stroke="#111" stroke-width="0.9"/></svg></div>
<div id="r47" class="fit" style="position:absolute;left:2153.90px;top:988.25px;font-family:'Liberation Serif',serif;font-size:19.4px;line-height:19.4px;white-space:nowrap;color:#111;transform-origin:0 50%;transform:scaleX(1.3107);"><i>B</i><span style="font-size:0.7em;position:relative;top:0.28em"><i>j</i></span></div>
<div id="r48" class="fit" style="position:absolute;left:2191.60px;top:988.25px;font-family:'Liberation Serif',serif;font-size:19.4px;line-height:19.4px;white-space:nowrap;color:#111;transform-origin:0 50%;font-style:italic;transform:scaleX(1.1274);">and</div>
<div id="r49" class="fit" style="position:absolute;left:2238.30px;top:988.25px;font-family:'Liberation Serif',serif;font-size:19.4px;line-height:19.4px;white-space:nowrap;color:#111;transform-origin:0 50%;transform:scaleX(1.3129);"><i>H</i> ≥ <i>H</i><span style="font-size:0.7em;position:relative;top:-0.48em;font-style:normal">2</span>|<i>A</i>|<i>L</i></div>
<div id="r50" class="fit" style="position:absolute;left:2369.50px;top:988.25px;font-family:'Liberation Serif',serif;font-size:19.4px;line-height:19.4px;white-space:nowrap;color:#111;transform-origin:0 50%;transform:scaleX(1.0735);">1 − <i>e</i></div>
<div id="r51" class="fit" style="position:absolute;left:2413.80px;top:985.53px;font-family:'Liberation Serif',serif;font-size:12.5px;line-height:12.5px;white-space:nowrap;color:#111;transform-origin:0 50%;transform:scaleX(1.2580);">−<i>λ d</i></div>
<div id="r52" class="fit" style="position:absolute;left:2442.00px;top:983.96px;font-family:'Liberation Serif',serif;font-size:9px;line-height:9px;white-space:nowrap;color:#111;transform-origin:0 50%;"><i>I</i></div>
<div id="r53" class="fit" style="position:absolute;left:2441.50px;top:992.96px;font-family:'Liberation Serif',serif;font-size:9px;line-height:9px;white-space:nowrap;color:#111;transform-origin:0 50%;transform:scaleX(2.2857);"><i>B</i>|<i>S</i></div>
<svg style="position:absolute;left:0px;top:0px;overflow:visible;" width="2500" height="1421"><path d="M2367.1 979.9 Q2348.9 998.3 2367.1 1016.8 Q2352.5 998.3 2367.1 979.9Z" fill="#111" stroke="#111" stroke-width="0.7" stroke-linejoin="round"/><path d="M2472.8 979.9 Q2490.8 998.3 2472.8 1016.8 Q2487.2 998.3 2472.8 979.9Z" fill="#111" stroke="#111" stroke-width="0.7" stroke-linejoin="round"/></svg>
<div style="position:absolute;top:1026.82px;font-family:'Liberation Sans',sans-serif;font-size:25.85px;line-height:25.85px;white-space:nowrap;color:#000;font-weight:bold;left:1090.80px;width:2000px;text-align:center;">“more (widespread) memories lead to a lower performance gap”</div>
<div style="position:absolute;top:1072.21px;font-family:'Liberation Sans',sans-serif;font-size:51.5px;line-height:51.5px;white-space:nowrap;color:#000;font-weight:bold;left:1089.50px;width:2000px;text-align:center;">Next Steps: RAG in Embodied AI</div>
<svg style="position:absolute;left:0px;top:0px;overflow:visible;" width="2500" height="1421"><defs><pattern id="brick" width="4.4" height="3.2" patternUnits="userSpaceOnUse"><path d="M0 0.5H4.4M0 2.1H4.4M1.1 0.5V2.1M3.3 2.1V3.2" stroke="#445d63" stroke-width="0.45" fill="none"/></pattern><linearGradient id="ct" x1="0" x2="1" y1="0" y2="0"><stop offset="0" stop-color="#f1a966"/><stop offset="0.5" stop-color="#fce9da"/><stop offset="1" stop-color="#f1a966"/></linearGradient><radialGradient id="ds" cx="0.5" cy="0.5" r="0.6"><stop offset="0" stop-color="#d4e5f5"/><stop offset="1" stop-color="#6ea3d8"/></radialGradient></defs><path d="M1718.1 1172.3h22.4a0 0 0 0 1 0 0v3.6a1.4 1.4 0 0 1 -1.4 1.4h-19.6a1.4 1.4 0 0 1 -1.4 -1.4z" fill="#5a5a5a"/><path d="M1718.1 1172.5L1721.7 1162.9Q1722.3 1161.7 1723.7 1161.7H1734.8999999999999Q1736.3 1161.7 1736.8999999999999 1162.9L1740.5 1172.5Z" fill="#6a6a6a"/><ellipse cx="1729.3" cy="1166.3" rx="5" ry="2.6" fill="#9a9a9a"/><rect x="1728.0" y="1155.7" width="2.6" height="10.5" fill="#9fb4c4"/><circle cx="1722.1" cy="1168.5" r="1.7" fill="#f4512c"/><circle cx="1729.3" cy="1152.7" r="5.2" fill="#f4512c"/><circle cx="1727.8999999999999" cy="1151.1000000000001" r="2.2" fill="#ff7a55" fill-opacity="0.7"/><path d="M1739.7 1172.3h22.4a0 0 0 0 1 0 0v3.6a1.4 1.4 0 0 1 -1.4 1.4h-19.6a1.4 1.4 0 0 1 -1.4 -1.4z" fill="#5a5a5a"/><path d="M1739.7 1172.5L1743.3000000000002 1162.9Q1743.9 1161.7 1745.3000000000002 1161.7H1756.5Q1757.9 1161.7 1758.5 1162.9L1762.1000000000001 1172.5Z" fill="#6a6a6a"/><ellipse cx="1750.9" cy="1166.3" rx="5" ry="2.6" fill="#9a9a9a"/><rect x="1749.6000000000001" y="1155.7" width="2.6" height="10.5" fill="#9fb4c4"/><circle cx="1743.7" cy="1168.5" r="1.7" fill="#f4512c"/><circle cx="1750.9" cy="1152.7" r="5.2" fill="#f4512c"/><circle cx="1749.5" cy="1151.1000000000001" r="2.2" fill="#ff7a55" fill-opacity="0.7"/><path d="M1761.1 1172.3h22.4a0 0 0 0 1 0 0v3.6a1.4 1.4 0 0 1 -1.4 1.4h-19.6a1.4 1.4 0 0 1 -1.4 -1.4z" fill="#5a5a5a"/><path d="M1761.1 1172.5L1764.7 1162.9Q1765.3 1161.7 1766.7 1161.7H1777.8999999999999Q1779.3 1161.7 1779.8999999999999 1162.9L1783.5 1172.5Z" fill="#6a6a6a"/><ellipse cx="1772.3" cy="1166.3" rx="5" ry="2.6" fill="#9a9a9a"/><rect x="1771.0" y="1155.7" width="2.6" height="10.5" fill="#9fb4c4"/><circle cx="1765.1" cy="1168.5" r="1.7" fill="#f4512c"/><circle cx="1772.3" cy="1152.7" r="5.2" fill="#f4512c"/><circle cx="1770.8999999999999" cy="1151.1000000000001" r="2.2" fill="#ff7a55" fill-opacity="0.7"/><rect x="1707.41" y="1181.3000000000002" width="80" height="78.3" fill="#fff" stroke="#8f8f8f" stroke-width="0.8"/><rect x="1709.01" y="1182.9" width="76.8" height="75.1" fill="#d3f4f7"/><path d="M1709.01 1182.9h34.56v40.554h30.72v15.02h11.52v19.526H1709.01Z" fill="#5f7c82"/><path d="M1709.01 1182.9h34.56v40.554h30.72v15.02h11.52v19.526H1709.01Z" fill="url(#brick)"/><rect x="1712.01" y="1231.7150000000001" width="3.5" height="21.778999999999996" fill="#2fd36f"/><rect x="1745.106" y="1218.1970000000001" width="3.4" height="5" fill="#3f9a5a"/><rect x="1782.354" y="1200.924" width="2.4" height="8" fill="#6a8a8f"/><rect x="1775.058" y="1247.486" width="9" height="7" fill="#9ab8bc"/><rect x="1711.8400000000001" y="1186.0" width="80" height="78.3" fill="#fff" stroke="#8f8f8f" stroke-width="0.8"/><rect x="1713.44" y="1187.6" width="76.8" height="75.1" fill="#d3f4f7"/><path d="M1713.44 1187.6h34.56v40.554h30.72v15.02h11.52v19.526H1713.44Z" fill="#5f7c82"/><path d="M1713.44 1187.6h34.56v40.554h30.72v15.02h11.52v19.526H1713.44Z" fill="url(#brick)"/><rect x="1716.44" y="1236.415" width="3.5" height="21.778999999999996" fill="#2fd36f"/><rect x="1749.536" y="1222.897" width="3.4" height="5" fill="#3f9a5a"/><rect x="1786.784" y="1205.6239999999998" width="2.4" height="8" fill="#6a8a8f"/><rect x="1779.488" y="1252.186" width="9" height="7" fill="#9ab8bc"/><rect x="1716.27" y="1190.7" width="80" height="78.3" fill="#fff" stroke="#8f8f8f" stroke-width="0.8"/><rect x="1717.87" y="1192.3" width="76.8" height="75.1" fill="#d3f4f7"/><path d="M1717.87 1192.3h34.56v40.554h30.72v15.02h11.52v19.526H1717.87Z" fill="#5f7c82"/><path d="M1717.87 1192.3h34.56v40.554h30.72v15.02h11.52v19.526H1717.87Z" fill="url(#brick)"/><rect x="1720.87" y="1241.115" width="3.5" height="21.778999999999996" fill="#2fd36f"/><rect x="1753.966" y="1227.597" width="3.4" height="5" fill="#3f9a5a"/><rect x="1791.214" y="1210.3239999999998" width="2.4" height="8" fill="#6a8a8f"/><rect x="1783.918" y="1256.886" width="9" height="7" fill="#9ab8bc"/><rect x="1720.7" y="1195.4" width="80" height="78.3" fill="#fff" stroke="#8f8f8f" stroke-width="0.8"/><rect x="1722.3" y="1197.0" width="76.8" height="75.1" fill="#d3f4f7"/><path d="M1722.3 1197.0h34.56v40.554h30.72v15.02h11.52v19.526H1722.3Z" fill="#5f7c82"/><path d="M1722.3 1197.0h34.56v40.554h30.72v15.02h11.52v19.526H1722.3Z" fill="url(#brick)"/><rect x="1725.3" y="1245.815" width="3.5" height="21.778999999999996" fill="#2fd36f"/><rect x="1758.396" y="1232.297" width="3.4" height="5" fill="#3f9a5a"/><rect x="1795.644" y="1215.024" width="2.4" height="8" fill="#6a8a8f"/><rect x="1788.348" y="1261.586" width="9" height="7" fill="#9ab8bc"/><text x="1755.9" y="1303.3" text-anchor="middle" style="font-family:'Liberation Sans',sans-serif;font-size:19.5px;fill:#000">QUERY</text><text x="1918.2" y="1172.1" text-anchor="middle" style="font-family:'Liberation Sans',sans-serif;font-size:19.5px;fill:#000">RETRIEVAL</text><path d="M1938.8 1195.9L1943.6 1196.9L1943.6 1201.9L1938.8 1202.9L1937.1 1206.9L1939.8 1211.1L1936.3 1214.6L1932.1 1211.9L1928.1 1213.6L1927.1 1218.4L1922.1 1218.4L1921.1 1213.6L1917.1 1211.9L1912.9 1214.6L1909.4 1211.1L1912.1 1206.9L1910.4 1202.9L1905.6 1201.9L1905.6 1196.9L1910.4 1195.9L1912.1 1191.9L1909.4 1187.7L1912.9 1184.2L1917.1 1186.9L1921.1 1185.2L1922.1 1180.4L1927.1 1180.4L1928.1 1185.2L1932.1 1186.9L1936.3 1184.2L1939.8 1187.7L1937.1 1191.9ZM1934.1999999999998 1199.4A9.6 9.6 0 1 0 1915.0 1199.4A9.6 9.6 0 1 0 1934.1999999999998 1199.4Z" fill="#000" fill-rule="evenodd"/><circle cx="1899.5" cy="1224.1" r="31" fill="#fff"/><path d="M1919.9 1219.0L1926.8 1220.5L1926.8 1227.7L1919.9 1229.2L1917.5 1234.9L1921.3 1240.8L1916.2 1245.9L1910.3 1242.1L1904.6 1244.5L1903.1 1251.4L1895.9 1251.4L1894.4 1244.5L1888.7 1242.1L1882.8 1245.9L1877.7 1240.8L1881.5 1234.9L1879.1 1229.2L1872.2 1227.7L1872.2 1220.5L1879.1 1219.0L1881.5 1213.3L1877.7 1207.4L1882.8 1202.3L1888.7 1206.1L1894.4 1203.7L1895.9 1196.8L1903.1 1196.8L1904.6 1203.7L1910.3 1206.1L1916.2 1202.3L1921.3 1207.4L1917.5 1213.3ZM1914.9 1224.1A15.4 15.4 0 1 0 1884.1 1224.1A15.4 15.4 0 1 0 1914.9 1224.1Z" fill="#000" fill-rule="evenodd"/><path d="M1896.6 1233V1222.5a6.3 6.3 0 0 1 -3.3 -8.7l0.6 -0.9v5.2l2.7 1.6h2.4l2.7 -1.6v-5.2l0.6 0.9a6.3 6.3 0 0 1 -3.3 8.7V1240h-2.4z" fill="#000"/><rect x="1895.9" y="1226" width="3.8" height="14.5" fill="#000"/><rect x="1897.4" y="1228" width="0.8" height="11" fill="#fff"/><circle cx="1922" cy="1236" r="18.4" fill="#fff"/><path d="M1932.8 1248.2L1948.6 1268.6" stroke="#fff" stroke-width="11" stroke-linecap="round"/><circle cx="1922" cy="1236" r="13.7" fill="#fff" stroke="#000" stroke-width="4.6"/><path d="M1932.5 1248L1947.8 1267.4" stroke="#000" stroke-width="7.4" stroke-linecap="round"/><path d="M1915.2 1238.5a7 7 0 0 1 9 -9.2M1928.8 1233.5a7 7 0 0 1 -9 9.2" fill="none" stroke="#222" stroke-width="1.3"/><path d="M1923.2 1226.8l3 2.6l-3.6 1.6zM1920.8 1245.2l-3 -2.6l3.6 -1.6z" fill="#222"/><line x1="1806.6" x2="1859.9" y1="1226.1" y2="1226.1" stroke="#ff0000" stroke-width="1.5" stroke-dasharray="5.6 3.7"/><path d="M1867.9 1226.1L1858.5 1222.1L1858.5 1230.1Z" fill="#ff0000"/><line x1="1949.5" x2="2004.1" y1="1226.1" y2="1226.1" stroke="#ff0000" stroke-width="1.5" stroke-dasharray="5.6 3.7"/><path d="M2012.1 1226.1L2002.6999999999998 1222.1L2002.6999999999998 1230.1Z" fill="#ff0000"/><line x1="1908.7" x2="1908.7" y1="1262.2" y2="1304" stroke="#ff0000" stroke-width="1.5" stroke-dasharray="5.6 3.7"/><path d="M1908.7 1313.4L1904.5 1303.6L1912.9 1303.6Z" fill="#ff0000"/><line x1="1921.5" x2="1921.5" y1="1313.4" y2="1269" stroke="#ff0000" stroke-width="1.5" stroke-dasharray="5.6 3.7"/><path d="M1921.5 1260L1917.3 1269.8L1925.7 1269.8Z" fill="#ff0000"/><path d="M1835.1 1339V1373.8A79.8 9.6 0 0 0 1994.7 1373.8V1339Z" fill="url(#ds)" stroke="#5c82ad" stroke-width="0.8"/><ellipse cx="1914.9" cy="1339" rx="79.8" ry="9.6" fill="#b9d3ee" stroke="#5c82ad" stroke-width="0.8"/><text x="1914.9" y="1367.8" text-anchor="middle" style="font-family:'Liberation Sans',sans-serif;font-size:19.5px;fill:#000">DATASET</text><rect x="2023.1" y="1213" width="460.8" height="53.3" rx="19.6" fill="url(#ct)" stroke="#8d7b68" stroke-width="0.7"/><text x="2253.5" y="1246.7" text-anchor="middle" style="font-family:'Liberation Sans',sans-serif;font-size:19.5px;fill:#000">CAUSAL TRANSFORMER</text><line x1="2100.6" x2="2100.6" y1="1213" y2="1196.3" stroke="#000" stroke-width="1.5"/><path d="M2100.6 1188.3L2096.5 1198.3L2104.7 1198.3Z" fill="#000"/><line x1="2253.6" x2="2253.6" y1="1213" y2="1196.3" stroke="#000" stroke-width="1.5"/><path d="M2253.6 1188.3L2249.5 1198.3L2257.7 1198.3Z" fill="#000"/><line x1="2435.3" x2="2435.3" y1="1213" y2="1195.9" stroke="#000" stroke-width="1.5"/><path d="M2435.3 1187.9L2431.2000000000003 1197.9L2439.4 1197.9Z" fill="#000"/><line x1="2100.6" x2="2100.6" y1="1293" y2="1276.9" stroke="#000" stroke-width="1.5"/><path d="M2100.6 1268.9L2096.5 1278.9L2104.7 1278.9Z" fill="#000"/><line x1="2253.6" x2="2253.6" y1="1293" y2="1276.9" stroke="#000" stroke-width="1.5"/><path d="M2253.6 1268.9L2249.5 1278.9L2257.7 1278.9Z" fill="#000"/><line x1="2437.7" x2="2437.7" y1="1293" y2="1276.3" stroke="#000" stroke-width="1.5"/><path d="M2437.7 1268.3L2433.6 1278.3L2441.7999999999997 1278.3Z" fill="#000"/><rect x="2027.2" y="1293.4" width="146.5" height="36" fill="#9fc5e8" stroke="#6d8fb3" stroke-width="0.8"/><rect x="2183.3" y="1293.4" width="146.6" height="36" fill="#9fc5e8" stroke="#6d8fb3" stroke-width="0.8"/><rect x="2396.1" y="1293.4" width="83.5" height="36" fill="#dd7e6b" stroke="#9a6a60" stroke-width="0.8"/><text x="2100" y="1318.3" text-anchor="middle" style="font-family:'Liberation Sans',sans-serif;font-size:19.5px;fill:#000">RETRIEVED 1</text><text x="2256.7" y="1318.3" text-anchor="middle" style="font-family:'Liberation Sans',sans-serif;font-size:19.5px;fill:#000">RETRIEVED 2</text><text x="2437.8" y="1318.3" text-anchor="middle" style="font-family:'Liberation Sans',sans-serif;font-size:19.5px;fill:#000">QUERY</text><text x="2356.5" y="1176.4" text-anchor="middle" style="font-family:'Liberation Sans',sans-serif;font-size:19.5px;fill:#000">…</text><text x="2363" y="1318" text-anchor="middle" style="font-family:'Liberation Sans',sans-serif;font-size:19.5px;fill:#000">…</text><path d="M2058.2000000000003 1181.1h22.4a0 0 0 0 1 0 0v3.6a1.4 1.4 0 0 1 -1.4 1.4h-19.6a1.4 1.4 0 0 1 -1.4 -1.4z" fill="#5a5a5a"/><path d="M2058.2000000000003 1181.3L2061.8 1171.7Q2062.4 1170.5 2063.8 1170.5H2075.0Q2076.4 1170.5 2077.0 1171.7L2080.6 1181.3Z" fill="#6a6a6a"/><ellipse cx="2069.4" cy="1175.1" rx="5" ry="2.6" fill="#9a9a9a"/><rect x="2068.1" y="1164.5" width="2.6" height="10.5" fill="#9fb4c4"/><circle cx="2062.2000000000003" cy="1177.3" r="1.7" fill="#f4512c"/><circle cx="2069.4" cy="1161.5" r="5.2" fill="#f4512c"/><circle cx="2068.0" cy="1159.9" r="2.2" fill="#ff7a55" fill-opacity="0.7"/><path d="M2079.8 1181.1h22.4a0 0 0 0 1 0 0v3.6a1.4 1.4 0 0 1 -1.4 1.4h-19.6a1.4 1.4 0 0 1 -1.4 -1.4z" fill="#5a5a5a"/><path d="M2079.8 1181.3L2083.4 1171.7Q2084 1170.5 2085.4 1170.5H2096.6Q2098 1170.5 2098.6 1171.7L2102.2 1181.3Z" fill="#6a6a6a"/><ellipse cx="2091" cy="1175.1" rx="5" ry="2.6" fill="#9a9a9a"/><rect x="2089.7" y="1164.5" width="2.6" height="10.5" fill="#9fb4c4"/><circle cx="2083.8" cy="1177.3" r="1.7" fill="#f4512c"/><circle cx="2091" cy="1161.5" r="5.2" fill="#f4512c"/><circle cx="2089.6" cy="1159.9" r="2.2" fill="#ff7a55" fill-opacity="0.7"/><path d="M2100.7000000000003 1181.1h22.4a0 0 0 0 1 0 0v3.6a1.4 1.4 0 0 1 -1.4 1.4h-19.6a1.4 1.4 0 0 1 -1.4 -1.4z" fill="#5a5a5a"/><path d="M2100.7000000000003 1181.3L2104.3 1171.7Q2104.9 1170.5 2106.3 1170.5H2117.5Q2118.9 1170.5 2119.5 1171.7L2123.1 1181.3Z" fill="#6a6a6a"/><ellipse cx="2111.9" cy="1175.1" rx="5" ry="2.6" fill="#9a9a9a"/><rect x="2110.6" y="1164.5" width="2.6" height="10.5" fill="#9fb4c4"/><circle cx="2104.7000000000003" cy="1177.3" r="1.7" fill="#f4512c"/><circle cx="2111.9" cy="1161.5" r="5.2" fill="#f4512c"/><circle cx="2110.5" cy="1159.9" r="2.2" fill="#ff7a55" fill-opacity="0.7"/><path d="M2121.3 1181.1h22.4a0 0 0 0 1 0 0v3.6a1.4 1.4 0 0 1 -1.4 1.4h-19.6a1.4 1.4 0 0 1 -1.4 -1.4z" fill="#5a5a5a"/><path d="M2121.3 1181.3L2124.9 1171.7Q2125.5 1170.5 2126.9 1170.5H2138.1Q2139.5 1170.5 2140.1 1171.7L2143.7 1181.3Z" fill="#6a6a6a"/><ellipse cx="2132.5" cy="1175.1" rx="5" ry="2.6" fill="#9a9a9a"/><rect x="2131.2" y="1164.5" width="2.6" height="10.5" fill="#9fb4c4"/><circle cx="2125.3" cy="1177.3" r="1.7" fill="#f4512c"/><circle cx="2132.5" cy="1161.5" r="5.2" fill="#f4512c"/><circle cx="2131.1" cy="1159.9" r="2.2" fill="#ff7a55" fill-opacity="0.7"/><path d="M2211.1000000000004 1181.1h22.4a0 0 0 0 1 0 0v3.6a1.4 1.4 0 0 1 -1.4 1.4h-19.6a1.4 1.4 0 0 1 -1.4 -1.4z" fill="#5a5a5a"/><path d="M2211.1000000000004 1181.3L2214.7000000000003 1171.7Q2215.3 1170.5 2216.7000000000003 1170.5H2227.9Q2229.3 1170.5 2229.9 1171.7L2233.5 1181.3Z" fill="#6a6a6a"/><ellipse cx="2222.3" cy="1175.1" rx="5" ry="2.6" fill="#9a9a9a"/><rect x="2221.0" y="1164.5" width="2.6" height="10.5" fill="#9fb4c4"/><circle cx="2215.1000000000004" cy="1177.3" r="1.7" fill="#f4512c"/><circle cx="2222.3" cy="1161.5" r="5.2" fill="#f4512c"/><circle cx="2220.9" cy="1159.9" r="2.2" fill="#ff7a55" fill-opacity="0.7"/><path d="M2232.4 1181.1h22.4a0 0 0 0 1 0 0v3.6a1.4 1.4 0 0 1 -1.4 1.4h-19.6a1.4 1.4 0 0 1 -1.4 -1.4z" fill="#5a5a5a"/><path d="M2232.4 1181.3L2236.0 1171.7Q2236.6 1170.5 2238.0 1170.5H2249.2Q2250.6 1170.5 2251.2 1171.7L2254.7999999999997 1181.3Z" fill="#6a6a6a"/><ellipse cx="2243.6" cy="1175.1" rx="5" ry="2.6" fill="#9a9a9a"/><rect x="2242.2999999999997" y="1164.5" width="2.6" height="10.5" fill="#9fb4c4"/><circle cx="2236.4" cy="1177.3" r="1.7" fill="#f4512c"/><circle cx="2243.6" cy="1161.5" r="5.2" fill="#f4512c"/><circle cx="2242.2" cy="1159.9" r="2.2" fill="#ff7a55" fill-opacity="0.7"/><path d="M2253.2000000000003 1181.1h22.4a0 0 0 0 1 0 0v3.6a1.4 1.4 0 0 1 -1.4 1.4h-19.6a1.4 1.4 0 0 1 -1.4 -1.4z" fill="#5a5a5a"/><path d="M2253.2000000000003 1181.3L2256.8 1171.7Q2257.4 1170.5 2258.8 1170.5H2270.0Q2271.4 1170.5 2272.0 1171.7L2275.6 1181.3Z" fill="#6a6a6a"/><ellipse cx="2264.4" cy="1175.1" rx="5" ry="2.6" fill="#9a9a9a"/><rect x="2263.1" y="1164.5" width="2.6" height="10.5" fill="#9fb4c4"/><circle cx="2257.2000000000003" cy="1177.3" r="1.7" fill="#f4512c"/><circle cx="2264.4" cy="1161.5" r="5.2" fill="#f4512c"/><circle cx="2263.0" cy="1159.9" r="2.2" fill="#ff7a55" fill-opacity="0.7"/><path d="M2273.6000000000004 1181.1h22.4a0 0 0 0 1 0 0v3.6a1.4 1.4 0 0 1 -1.4 1.4h-19.6a1.4 1.4 0 0 1 -1.4 -1.4z" fill="#5a5a5a"/><path d="M2273.6000000000004 1181.3L2277.2000000000003 1171.7Q2277.8 1170.5 2279.2000000000003 1170.5H2290.4Q2291.8 1170.5 2292.4 1171.7L2296.0 1181.3Z" fill="#6a6a6a"/><ellipse cx="2284.8" cy="1175.1" rx="5" ry="2.6" fill="#9a9a9a"/><rect x="2283.5" y="1164.5" width="2.6" height="10.5" fill="#9fb4c4"/><circle cx="2277.6000000000004" cy="1177.3" r="1.7" fill="#f4512c"/><circle cx="2284.8" cy="1161.5" r="5.2" fill="#f4512c"/><circle cx="2283.4" cy="1159.9" r="2.2" fill="#ff7a55" fill-opacity="0.7"/><path d="M2396.7000000000003 1177.1h22.4a0 0 0 0 1 0 0v3.6a1.4 1.4 0 0 1 -1.4 1.4h-19.6a1.4 1.4 0 0 1 -1.4 -1.4z" fill="#5a5a5a"/><path d="M2396.7000000000003 1177.3L2400.3 1167.7Q2400.9 1166.5 2402.3 1166.5H2413.5Q2414.9 1166.5 2415.5 1167.7L2419.1 1177.3Z" fill="#6a6a6a"/><ellipse cx="2407.9" cy="1171.1" rx="5" ry="2.6" fill="#9a9a9a"/><rect x="2406.6" y="1160.5" width="2.6" height="10.5" fill="#9fb4c4"/><circle cx="2400.7000000000003" cy="1173.3" r="1.7" fill="#f4512c"/><circle cx="2407.9" cy="1157.5" r="5.2" fill="#f4512c"/><circle cx="2406.5" cy="1155.9" r="2.2" fill="#ff7a55" fill-opacity="0.7"/><path d="M2418.2000000000003 1177.1h22.4a0 0 0 0 1 0 0v3.6a1.4 1.4 0 0 1 -1.4 1.4h-19.6a1.4 1.4 0 0 1 -1.4 -1.4z" fill="#5a5a5a"/><path d="M2418.2000000000003 1177.3L2421.8 1167.7Q2422.4 1166.5 2423.8 1166.5H2435.0Q2436.4 1166.5 2437.0 1167.7L2440.6 1177.3Z" fill="#6a6a6a"/><ellipse cx="2429.4" cy="1171.1" rx="5" ry="2.6" fill="#9a9a9a"/><rect x="2428.1" y="1160.5" width="2.6" height="10.5" fill="#9fb4c4"/><circle cx="2422.2000000000003" cy="1173.3" r="1.7" fill="#f4512c"/><circle cx="2429.4" cy="1157.5" r="5.2" fill="#f4512c"/><circle cx="2428.0" cy="1155.9" r="2.2" fill="#ff7a55" fill-opacity="0.7"/><path d="M2438.8 1177.1h22.4a0 0 0 0 1 0 0v3.6a1.4 1.4 0 0 1 -1.4 1.4h-19.6a1.4 1.4 0 0 1 -1.4 -1.4z" fill="#5a5a5a"/><path d="M2438.8 1177.3L2442.4 1167.7Q2443 1166.5 2444.4 1166.5H2455.6Q2457 1166.5 2457.6 1167.7L2461.2 1177.3Z" fill="#6a6a6a"/><ellipse cx="2450" cy="1171.1" rx="5" ry="2.6" fill="#9a9a9a"/><rect x="2448.7" y="1160.5" width="2.6" height="10.5" fill="#9fb4c4"/><circle cx="2442.8" cy="1173.3" r="1.7" fill="#f4512c"/><circle cx="2450" cy="1157.5" r="5.2" fill="#f4512c"/><circle cx="2448.6" cy="1155.9" r="2.2" fill="#ff7a55" fill-opacity="0.7"/><path d="M2459.4 1177.1h22.4a0 0 0 0 1 0 0v3.6a1.4 1.4 0 0 1 -1.4 1.4h-19.6a1.4 1.4 0 0 1 -1.4 -1.4z" fill="#5a5a5a"/><path d="M2459.4 1177.3L2463.0 1167.7Q2463.6 1166.5 2465.0 1166.5H2476.2Q2477.6 1166.5 2478.2 1167.7L2481.7999999999997 1177.3Z" fill="#6a6a6a"/><ellipse cx="2470.6" cy="1171.1" rx="5" ry="2.6" fill="#9a9a9a"/><rect x="2469.2999999999997" y="1160.5" width="2.6" height="10.5" fill="#9fb4c4"/><circle cx="2463.4" cy="1173.3" r="1.7" fill="#f4512c"/><circle cx="2470.6" cy="1157.5" r="5.2" fill="#f4512c"/><circle cx="2469.2" cy="1155.9" r="2.2" fill="#ff7a55" fill-opacity="0.7"/></svg>

</div>
</body></html>
